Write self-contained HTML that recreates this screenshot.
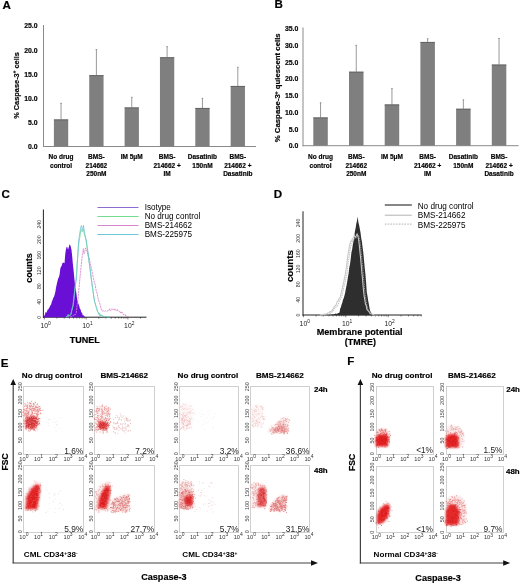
<!DOCTYPE html>
<html><head><meta charset="utf-8"><style>
html,body{margin:0;padding:0;background:#fff;}
body{width:520px;height:583px;overflow:hidden;}
svg{display:block;filter:blur(0.25px);font-family:"Liberation Sans",sans-serif;}
</style></head><body>
<svg width="520" height="583" viewBox="0 0 520 583">
<defs><filter id="bl" x="-10%" y="-10%" width="120%" height="120%"><feGaussianBlur stdDeviation="0.4"/></filter><filter id="bl2" x="-30%" y="-30%" width="160%" height="160%"><feGaussianBlur stdDeviation="1.1"/></filter></defs>
<rect width="520" height="583" fill="#fff"/>
<text x="2.4" y="9.3" font-size="11.6" font-weight="bold" text-anchor="start" fill="#000" stroke="#000" stroke-width="0.18">A</text>
<text x="274.6" y="8.2" font-size="11.6" font-weight="bold" text-anchor="start" fill="#000" stroke="#000" stroke-width="0.18">B</text>
<text x="1.6" y="198.4" font-size="11.6" font-weight="bold" text-anchor="start" fill="#000" stroke="#000" stroke-width="0.18">C</text>
<text x="273.8" y="198.4" font-size="11.6" font-weight="bold" text-anchor="start" fill="#000" stroke="#000" stroke-width="0.18">D</text>
<text x="0.8" y="366.8" font-size="11.6" font-weight="bold" text-anchor="start" fill="#000" stroke="#000" stroke-width="0.18">E</text>
<text x="347.3" y="365.4" font-size="11.6" font-weight="bold" text-anchor="start" fill="#000" stroke="#000" stroke-width="0.18">F</text>
<line x1="43.5" y1="25" x2="43.5" y2="147" stroke="#8a8a8a" stroke-width="1"/>
<line x1="43" y1="146.5" x2="256" y2="146.5" stroke="#8a8a8a" stroke-width="1"/>
<text x="37.6" y="149.45" font-size="6.9" font-weight="bold" text-anchor="end" fill="#050505" stroke="#050505" stroke-width="0.18">0.0</text>
<text x="37.6" y="125.25" font-size="6.9" font-weight="bold" text-anchor="end" fill="#050505" stroke="#050505" stroke-width="0.18">5.0</text>
<text x="37.6" y="101.05" font-size="6.9" font-weight="bold" text-anchor="end" fill="#050505" stroke="#050505" stroke-width="0.18">10.0</text>
<text x="37.6" y="76.85" font-size="6.9" font-weight="bold" text-anchor="end" fill="#050505" stroke="#050505" stroke-width="0.18">15.0</text>
<text x="37.6" y="52.65" font-size="6.9" font-weight="bold" text-anchor="end" fill="#050505" stroke="#050505" stroke-width="0.18">20.0</text>
<text x="37.6" y="28.45" font-size="6.9" font-weight="bold" text-anchor="end" fill="#050505" stroke="#050505" stroke-width="0.18">25.0</text>
<line x1="61.05" y1="103" x2="61.05" y2="119.5" stroke="#9a9a9a" stroke-width="1"/>
<line x1="60.25" y1="103.3" x2="61.85" y2="103.3" stroke="#888" stroke-width="0.8"/>
<rect x="53.9" y="119.5" width="14.3" height="27" fill="#7f7f7f" stroke="none" stroke-width="1"/>
<line x1="53.9" y1="119.9" x2="68.2" y2="119.9" stroke="#5a5a5a" stroke-width="0.8"/>
<text x="61.05" y="159.4" font-size="6.5" font-weight="bold" text-anchor="middle" fill="#050505" stroke="#050505" stroke-width="0.18">No drug</text>
<text x="61.05" y="167.85" font-size="6.5" font-weight="bold" text-anchor="middle" fill="#050505" stroke="#050505" stroke-width="0.18">control</text>
<line x1="96.4" y1="49.3" x2="96.4" y2="75.2" stroke="#9a9a9a" stroke-width="1"/>
<line x1="95.6" y1="49.6" x2="97.2" y2="49.6" stroke="#888" stroke-width="0.8"/>
<rect x="89.25" y="75.2" width="14.3" height="71.3" fill="#7f7f7f" stroke="none" stroke-width="1"/>
<line x1="89.25" y1="75.6" x2="103.55" y2="75.6" stroke="#5a5a5a" stroke-width="0.8"/>
<text x="96.4" y="159.4" font-size="6.5" font-weight="bold" text-anchor="middle" fill="#050505" stroke="#050505" stroke-width="0.18">BMS-</text>
<text x="96.4" y="167.85" font-size="6.5" font-weight="bold" text-anchor="middle" fill="#050505" stroke="#050505" stroke-width="0.18">214662</text>
<text x="96.4" y="176.3" font-size="6.5" font-weight="bold" text-anchor="middle" fill="#050505" stroke="#050505" stroke-width="0.18">250nM</text>
<line x1="131.75" y1="97" x2="131.75" y2="107.5" stroke="#9a9a9a" stroke-width="1"/>
<line x1="130.95" y1="97.3" x2="132.55" y2="97.3" stroke="#888" stroke-width="0.8"/>
<rect x="124.6" y="107.5" width="14.3" height="39" fill="#7f7f7f" stroke="none" stroke-width="1"/>
<line x1="124.6" y1="107.9" x2="138.9" y2="107.9" stroke="#5a5a5a" stroke-width="0.8"/>
<text x="131.75" y="159.4" font-size="6.5" font-weight="bold" text-anchor="middle" fill="#050505" stroke="#050505" stroke-width="0.18">IM 5μM</text>
<line x1="167.1" y1="46.4" x2="167.1" y2="57.3" stroke="#9a9a9a" stroke-width="1"/>
<line x1="166.3" y1="46.7" x2="167.9" y2="46.7" stroke="#888" stroke-width="0.8"/>
<rect x="159.95" y="57.3" width="14.3" height="89.2" fill="#7f7f7f" stroke="none" stroke-width="1"/>
<line x1="159.95" y1="57.7" x2="174.25" y2="57.7" stroke="#5a5a5a" stroke-width="0.8"/>
<text x="167.1" y="159.4" font-size="6.5" font-weight="bold" text-anchor="middle" fill="#050505" stroke="#050505" stroke-width="0.18">BMS-</text>
<text x="167.1" y="167.85" font-size="6.5" font-weight="bold" text-anchor="middle" fill="#050505" stroke="#050505" stroke-width="0.18">214662 +</text>
<text x="167.1" y="176.3" font-size="6.5" font-weight="bold" text-anchor="middle" fill="#050505" stroke="#050505" stroke-width="0.18">IM</text>
<line x1="202.45" y1="98" x2="202.45" y2="108" stroke="#9a9a9a" stroke-width="1"/>
<line x1="201.65" y1="98.3" x2="203.25" y2="98.3" stroke="#888" stroke-width="0.8"/>
<rect x="195.3" y="108" width="14.3" height="38.5" fill="#7f7f7f" stroke="none" stroke-width="1"/>
<line x1="195.3" y1="108.4" x2="209.6" y2="108.4" stroke="#5a5a5a" stroke-width="0.8"/>
<text x="202.45" y="159.4" font-size="6.5" font-weight="bold" text-anchor="middle" fill="#050505" stroke="#050505" stroke-width="0.18">Dasatinib</text>
<text x="202.45" y="167.85" font-size="6.5" font-weight="bold" text-anchor="middle" fill="#050505" stroke="#050505" stroke-width="0.18">150nM</text>
<line x1="237.8" y1="67" x2="237.8" y2="86" stroke="#9a9a9a" stroke-width="1"/>
<line x1="237" y1="67.3" x2="238.6" y2="67.3" stroke="#888" stroke-width="0.8"/>
<rect x="230.65" y="86" width="14.3" height="60.5" fill="#7f7f7f" stroke="none" stroke-width="1"/>
<line x1="230.65" y1="86.4" x2="244.95" y2="86.4" stroke="#5a5a5a" stroke-width="0.8"/>
<text x="237.8" y="159.4" font-size="6.5" font-weight="bold" text-anchor="middle" fill="#050505" stroke="#050505" stroke-width="0.18">BMS-</text>
<text x="237.8" y="167.85" font-size="6.5" font-weight="bold" text-anchor="middle" fill="#050505" stroke="#050505" stroke-width="0.18">214662 +</text>
<text x="237.8" y="176.3" font-size="6.5" font-weight="bold" text-anchor="middle" fill="#050505" stroke="#050505" stroke-width="0.18">Dasatinib</text>
<text x="18.6" y="85.5" font-size="7.4" font-weight="bold" text-anchor="middle" fill="#050505" stroke="#050505" stroke-width="0.18" transform="rotate(-90 18.6 85.5)">% Caspase-3<tspan font-size="4.5" dy="-2.5">+</tspan><tspan dy="2.5"> cells</tspan></text>
<line x1="303" y1="27.5" x2="303" y2="146.2" stroke="#8a8a8a" stroke-width="1"/>
<line x1="302.5" y1="145.7" x2="518.7" y2="145.7" stroke="#8a8a8a" stroke-width="1"/>
<text x="298.3" y="148.45" font-size="6.9" font-weight="bold" text-anchor="end" fill="#050505" stroke="#050505" stroke-width="0.18">0.0</text>
<text x="298.3" y="131.7" font-size="6.9" font-weight="bold" text-anchor="end" fill="#050505" stroke="#050505" stroke-width="0.18">5.0</text>
<text x="298.3" y="114.95" font-size="6.9" font-weight="bold" text-anchor="end" fill="#050505" stroke="#050505" stroke-width="0.18">10.0</text>
<text x="298.3" y="98.2" font-size="6.9" font-weight="bold" text-anchor="end" fill="#050505" stroke="#050505" stroke-width="0.18">15.0</text>
<text x="298.3" y="81.45" font-size="6.9" font-weight="bold" text-anchor="end" fill="#050505" stroke="#050505" stroke-width="0.18">20.0</text>
<text x="298.3" y="64.7" font-size="6.9" font-weight="bold" text-anchor="end" fill="#050505" stroke="#050505" stroke-width="0.18">25.0</text>
<text x="298.3" y="47.95" font-size="6.9" font-weight="bold" text-anchor="end" fill="#050505" stroke="#050505" stroke-width="0.18">30.0</text>
<text x="298.3" y="31.2" font-size="6.9" font-weight="bold" text-anchor="end" fill="#050505" stroke="#050505" stroke-width="0.18">35.0</text>
<line x1="320.55" y1="102.5" x2="320.55" y2="117.5" stroke="#9a9a9a" stroke-width="1"/>
<line x1="319.75" y1="102.8" x2="321.35" y2="102.8" stroke="#888" stroke-width="0.8"/>
<rect x="313.3" y="117.5" width="14.5" height="28.2" fill="#7f7f7f" stroke="none" stroke-width="1"/>
<line x1="313.3" y1="117.9" x2="327.8" y2="117.9" stroke="#5a5a5a" stroke-width="0.8"/>
<text x="320.55" y="159.4" font-size="6.5" font-weight="bold" text-anchor="middle" fill="#050505" stroke="#050505" stroke-width="0.18">No drug</text>
<text x="320.55" y="167.85" font-size="6.5" font-weight="bold" text-anchor="middle" fill="#050505" stroke="#050505" stroke-width="0.18">control</text>
<line x1="356.25" y1="45" x2="356.25" y2="71.75" stroke="#9a9a9a" stroke-width="1"/>
<line x1="355.45" y1="45.3" x2="357.05" y2="45.3" stroke="#888" stroke-width="0.8"/>
<rect x="349" y="71.75" width="14.5" height="73.95" fill="#7f7f7f" stroke="none" stroke-width="1"/>
<line x1="349" y1="72.15" x2="363.5" y2="72.15" stroke="#5a5a5a" stroke-width="0.8"/>
<text x="356.25" y="159.4" font-size="6.5" font-weight="bold" text-anchor="middle" fill="#050505" stroke="#050505" stroke-width="0.18">BMS-</text>
<text x="356.25" y="167.85" font-size="6.5" font-weight="bold" text-anchor="middle" fill="#050505" stroke="#050505" stroke-width="0.18">214662</text>
<text x="356.25" y="176.3" font-size="6.5" font-weight="bold" text-anchor="middle" fill="#050505" stroke="#050505" stroke-width="0.18">250nM</text>
<line x1="391.95" y1="88.3" x2="391.95" y2="104.5" stroke="#9a9a9a" stroke-width="1"/>
<line x1="391.15" y1="88.6" x2="392.75" y2="88.6" stroke="#888" stroke-width="0.8"/>
<rect x="384.7" y="104.5" width="14.5" height="41.2" fill="#7f7f7f" stroke="none" stroke-width="1"/>
<line x1="384.7" y1="104.9" x2="399.2" y2="104.9" stroke="#5a5a5a" stroke-width="0.8"/>
<text x="391.95" y="159.4" font-size="6.5" font-weight="bold" text-anchor="middle" fill="#050505" stroke="#050505" stroke-width="0.18">IM 5μM</text>
<line x1="427.65" y1="38.5" x2="427.65" y2="42" stroke="#9a9a9a" stroke-width="1"/>
<line x1="426.85" y1="38.8" x2="428.45" y2="38.8" stroke="#888" stroke-width="0.8"/>
<rect x="420.4" y="42" width="14.5" height="103.7" fill="#7f7f7f" stroke="none" stroke-width="1"/>
<line x1="420.4" y1="42.4" x2="434.9" y2="42.4" stroke="#5a5a5a" stroke-width="0.8"/>
<text x="427.65" y="159.4" font-size="6.5" font-weight="bold" text-anchor="middle" fill="#050505" stroke="#050505" stroke-width="0.18">BMS-</text>
<text x="427.65" y="167.85" font-size="6.5" font-weight="bold" text-anchor="middle" fill="#050505" stroke="#050505" stroke-width="0.18">214662 +</text>
<text x="427.65" y="176.3" font-size="6.5" font-weight="bold" text-anchor="middle" fill="#050505" stroke="#050505" stroke-width="0.18">IM</text>
<line x1="463.35" y1="99.6" x2="463.35" y2="108.8" stroke="#9a9a9a" stroke-width="1"/>
<line x1="462.55" y1="99.9" x2="464.15" y2="99.9" stroke="#888" stroke-width="0.8"/>
<rect x="456.1" y="108.8" width="14.5" height="36.9" fill="#7f7f7f" stroke="none" stroke-width="1"/>
<line x1="456.1" y1="109.2" x2="470.6" y2="109.2" stroke="#5a5a5a" stroke-width="0.8"/>
<text x="463.35" y="159.4" font-size="6.5" font-weight="bold" text-anchor="middle" fill="#050505" stroke="#050505" stroke-width="0.18">Dasatinib</text>
<text x="463.35" y="167.85" font-size="6.5" font-weight="bold" text-anchor="middle" fill="#050505" stroke="#050505" stroke-width="0.18">150nM</text>
<line x1="499.05" y1="38.2" x2="499.05" y2="64.6" stroke="#9a9a9a" stroke-width="1"/>
<line x1="498.25" y1="38.5" x2="499.85" y2="38.5" stroke="#888" stroke-width="0.8"/>
<rect x="491.8" y="64.6" width="14.5" height="81.1" fill="#7f7f7f" stroke="none" stroke-width="1"/>
<line x1="491.8" y1="65" x2="506.3" y2="65" stroke="#5a5a5a" stroke-width="0.8"/>
<text x="499.05" y="159.4" font-size="6.5" font-weight="bold" text-anchor="middle" fill="#050505" stroke="#050505" stroke-width="0.18">BMS-</text>
<text x="499.05" y="167.85" font-size="6.5" font-weight="bold" text-anchor="middle" fill="#050505" stroke="#050505" stroke-width="0.18">214662 +</text>
<text x="499.05" y="176.3" font-size="6.5" font-weight="bold" text-anchor="middle" fill="#050505" stroke="#050505" stroke-width="0.18">Dasatinib</text>
<text x="280.4" y="87.8" font-size="7.8" font-weight="bold" text-anchor="middle" fill="#050505" stroke="#050505" stroke-width="0.18" transform="rotate(-90 280.4 87.8)">% Caspase-3<tspan font-size="4.7" dy="-2.6">+</tspan><tspan dy="2.6"> quiescent cells</tspan></text>
<line x1="43.4" y1="209.5" x2="43.4" y2="317.7" stroke="#222" stroke-width="1"/>
<line x1="42.9" y1="317.2" x2="146.5" y2="317.2" stroke="#222" stroke-width="1"/>
<text x="39.3" y="317.2" font-size="5.2" font-weight="normal" text-anchor="middle" fill="#333" transform="rotate(-90 39.3 317.2)" dominant-baseline="middle">0</text>
<text x="39.3" y="301.7" font-size="5.2" font-weight="normal" text-anchor="middle" fill="#333" transform="rotate(-90 39.3 301.7)" dominant-baseline="middle">40</text>
<text x="39.3" y="286.2" font-size="5.2" font-weight="normal" text-anchor="middle" fill="#333" transform="rotate(-90 39.3 286.2)" dominant-baseline="middle">80</text>
<text x="39.3" y="270.7" font-size="5.2" font-weight="normal" text-anchor="middle" fill="#333" transform="rotate(-90 39.3 270.7)" dominant-baseline="middle">120</text>
<text x="39.3" y="255.2" font-size="5.2" font-weight="normal" text-anchor="middle" fill="#333" transform="rotate(-90 39.3 255.2)" dominant-baseline="middle">160</text>
<text x="39.3" y="239.7" font-size="5.2" font-weight="normal" text-anchor="middle" fill="#333" transform="rotate(-90 39.3 239.7)" dominant-baseline="middle">200</text>
<text x="39.3" y="224.2" font-size="5.2" font-weight="normal" text-anchor="middle" fill="#333" transform="rotate(-90 39.3 224.2)" dominant-baseline="middle">240</text>
<line x1="44.3" y1="317.2" x2="44.3" y2="319.4" stroke="#222" stroke-width="0.6"/>
<line x1="56.88" y1="317.2" x2="56.88" y2="318.6" stroke="#222" stroke-width="0.6"/>
<line x1="64.24" y1="317.2" x2="64.24" y2="318.6" stroke="#222" stroke-width="0.6"/>
<line x1="69.47" y1="317.2" x2="69.47" y2="318.6" stroke="#222" stroke-width="0.6"/>
<line x1="73.52" y1="317.2" x2="73.52" y2="318.6" stroke="#222" stroke-width="0.6"/>
<line x1="76.83" y1="317.2" x2="76.83" y2="318.6" stroke="#222" stroke-width="0.6"/>
<line x1="79.63" y1="317.2" x2="79.63" y2="318.6" stroke="#222" stroke-width="0.6"/>
<line x1="82.05" y1="317.2" x2="82.05" y2="318.6" stroke="#222" stroke-width="0.6"/>
<line x1="84.19" y1="317.2" x2="84.19" y2="318.6" stroke="#222" stroke-width="0.6"/>
<line x1="86.1" y1="317.2" x2="86.1" y2="319.4" stroke="#222" stroke-width="0.6"/>
<line x1="98.68" y1="317.2" x2="98.68" y2="318.6" stroke="#222" stroke-width="0.6"/>
<line x1="106.04" y1="317.2" x2="106.04" y2="318.6" stroke="#222" stroke-width="0.6"/>
<line x1="111.27" y1="317.2" x2="111.27" y2="318.6" stroke="#222" stroke-width="0.6"/>
<line x1="115.32" y1="317.2" x2="115.32" y2="318.6" stroke="#222" stroke-width="0.6"/>
<line x1="118.63" y1="317.2" x2="118.63" y2="318.6" stroke="#222" stroke-width="0.6"/>
<line x1="121.43" y1="317.2" x2="121.43" y2="318.6" stroke="#222" stroke-width="0.6"/>
<line x1="123.85" y1="317.2" x2="123.85" y2="318.6" stroke="#222" stroke-width="0.6"/>
<line x1="125.99" y1="317.2" x2="125.99" y2="318.6" stroke="#222" stroke-width="0.6"/>
<line x1="127.9" y1="317.2" x2="127.9" y2="319.4" stroke="#222" stroke-width="0.6"/>
<line x1="140.48" y1="317.2" x2="140.48" y2="318.6" stroke="#222" stroke-width="0.6"/>
<text x="40.52" y="328" font-size="6.8" text-anchor="start" fill="#222">10<tspan font-size="4.9" dy="-2.8">0</tspan></text>
<text x="82.32" y="328" font-size="6.8" text-anchor="start" fill="#222">10<tspan font-size="4.9" dy="-2.8">1</tspan></text>
<text x="124.12" y="328" font-size="6.8" text-anchor="start" fill="#222">10<tspan font-size="4.9" dy="-2.8">2</tspan></text>
<text x="29.3" y="267.9" font-size="9" font-weight="bold" text-anchor="middle" fill="#000" stroke="#000" stroke-width="0.18" transform="rotate(-90 29.3 267.9)" dominant-baseline="middle">counts</text>
<text x="84.7" y="343.2" font-size="9" font-weight="bold" text-anchor="middle" fill="#000" stroke="#000" stroke-width="0.18">TUNEL</text>
<path d="M43.5 317L44.2 315.94L44.9 314.45L45.6 311.93L46.3 312.86L47 311.4L47.7 309.38L48.4 309.25L49.1 307.92L49.8 306.72L50.5 305.35L51.2 304.19L51.9 301.21L52.6 299.9L53.3 297.75L54 296.82L54.7 294.42L55.4 291.44L56.1 287.28L56.8 284.03L57.5 280.9L58.2 278.19L58.9 277.14L59.6 274.42L60.3 268.6L61 266.79L61.7 265.79L62.4 263.02L63.1 262.96L63.8 262.33L64.5 263.41L65.2 254.45L65.9 249.59L66.6 246.92L67.3 246.97L68 249.66L68.7 247.5L69.4 244.38L70.1 245.06L70.8 246.85L71.5 250.04L72.2 256.49L72.9 264.29L73.6 270.55L74.3 278.08L75 284.42L75.7 289.05L76.4 293.24L77.1 298.63L77.8 301.67L78.5 303.92L79.2 305.66L79.9 308.82L80.6 309.47L81.3 312.48L82 312.48L82.7 315.23L83.4 315.22L84.1 316.06L84.8 316.8 L85 317.2 L43.5 317.2Z" fill="#6a10d6"/>
<path d="M66 317L66.7 316.64L67.4 316.27L68.1 314.44L68.8 316.62L69.5 315.86L70.2 314.62L70.9 314.53L71.6 311.21L72.3 307.69L73 305.59L73.7 298.66L74.4 292.5L75.1 286.07L75.8 280.67L76.5 273.04L77.2 263.28L77.9 252.44L78.6 245.13L79.3 239.99L80 236.5L80.7 230.51L81.4 229.53L82.1 231.91L82.8 230.01L83.5 229.47L84.2 234.32L84.9 235.89L85.6 238.9L86.3 242.1L87 248.05L87.7 252.18L88.4 257.38L89.1 262.33L89.8 267.18L90.5 272.57L91.2 277.9L91.9 284.12L92.6 287.99L93.3 293.08L94 298.15L94.7 302.23L95.4 303.84L96.1 306.63L96.8 308.86L97.5 311.71L98.2 312.57L98.9 314.27L99.6 313.1L100.3 315.66L101 316.01L101.7 314.79L102.4 316L103.1 316.17L103.8 316.43L104.5 316.54L105.2 316.6L105.9 316.66L106.6 316.72L107.3 316.78L108 316.83L108.7 316.89L109.4 316.95" fill="none" stroke="#7ad89c" stroke-width="0.8"/>
<path d="M70 317L70.7 316.75L71.4 316.5L72.1 316.25L72.8 316L73.5 315.62L74.2 314.29L74.9 315.11L75.6 314.48L76.3 312.62L77 306.39L77.7 301.66L78.4 295.46L79.1 287.59L79.8 279.72L80.5 272.58L81.2 266.19L81.9 258.84L82.6 254.33L83.3 248.68L84 253.85L84.7 252.93L85.4 247.93L86.1 249.4L86.8 250.81L87.5 252.32L88.2 255.96L88.9 257.44L89.6 260.25L90.3 263.99L91 266.1L91.7 269.7L92.4 273.65L93.1 276.71L93.8 279.65L94.5 283.13L95.2 284.15L95.9 289.58L96.6 291.52L97.3 294.21L98 298.19L98.7 300.84L99.4 302.55L100.1 304.56L100.8 307.62L101.5 309.97L102.2 311.08L102.9 310.92L103.6 310.82L104.3 311.6L105 311.04L105.7 310.68L106.4 311.43L107.1 311.27L107.8 310.64L108.5 310.14L109.2 310.58L109.9 308.76L110.6 310.47L111.3 310.16L112 308.69L112.7 309.52L113.4 308.93L114.1 310.16L114.8 308.67L115.5 309.54L116.2 310.71L116.9 311.17L117.6 309.44L118.3 310.71L119 311.49L119.7 311.2L120.4 312.8L121.1 311.52L121.8 312.99L122.5 312.7L123.2 314.72L123.9 314.41L124.6 314.76L125.3 314.51L126 316.1L126.7 316.53L127.4 316.63L128.1 316.73L128.8 316.83L129.5 316.93" fill="none" stroke="#d880cc" stroke-width="0.85" stroke-dasharray="2.2 0.7"/>
<path d="M66 317L66.7 316.71L67.4 316.42L68.1 316.12L68.8 314.85L69.5 315.54L70.2 314.88L70.9 314.68L71.6 310.76L72.3 309.01L73 306.14L73.7 301.29L74.4 294.87L75.1 289.33L75.8 282.46L76.5 279.05L77.2 264.41L77.9 254.07L78.6 242.07L79.3 236.6L80 231.61L80.7 227.72L81.4 225.46L82.1 228.2L82.8 229.84L83.5 225.4L84.2 231.05L84.9 234.06L85.6 237.87L86.3 239.68L87 245.29L87.7 250.18L88.4 254.31L89.1 261.39L89.8 266.51L90.5 272.6L91.2 278.18L91.9 282.61L92.6 287.85L93.3 293.27L94 298.4L94.7 301.77L95.4 304.15L96.1 306.84L96.8 308.82L97.5 311.05L98.2 312.51L98.9 313.49L99.6 315.71L100.3 314.82L101 315.26L101.7 316L102.4 316.03L103.1 316.33L103.8 316.52L104.5 316.58L105.2 316.63L105.9 316.68L106.6 316.74L107.3 316.79L108 316.85L108.7 316.9L109.4 316.95" fill="none" stroke="#6cc4d2" stroke-width="0.8"/>
<line x1="97.5" y1="207.5" x2="138.5" y2="207.5" stroke="#8c6cd0" stroke-width="1.15"/>
<text x="144.7" y="210.2" font-size="8.15" font-weight="normal" text-anchor="start" fill="#000">Isotype</text>
<line x1="97.5" y1="216.5" x2="138.5" y2="216.5" stroke="#72dc90" stroke-width="1.15"/>
<text x="144.7" y="219.2" font-size="8.15" font-weight="normal" text-anchor="start" fill="#000">No drug control</text>
<line x1="97.5" y1="225.5" x2="138.5" y2="225.5" stroke="#d886cc" stroke-width="1.15"/>
<text x="144.7" y="228.2" font-size="8.15" font-weight="normal" text-anchor="start" fill="#000">BMS-214662</text>
<line x1="97.5" y1="234.5" x2="138.5" y2="234.5" stroke="#6cc8d4" stroke-width="1.15"/>
<text x="144.7" y="237.2" font-size="8.15" font-weight="normal" text-anchor="start" fill="#000">BMS-225975</text>
<line x1="303" y1="211.3" x2="303" y2="315.5" stroke="#222" stroke-width="1"/>
<line x1="302.5" y1="315" x2="421.7" y2="315" stroke="#222" stroke-width="1"/>
<text x="298.8" y="315" font-size="5.2" font-weight="normal" text-anchor="middle" fill="#333" transform="rotate(-90 298.8 315)" dominant-baseline="middle">0</text>
<text x="298.8" y="299.66" font-size="5.2" font-weight="normal" text-anchor="middle" fill="#333" transform="rotate(-90 298.8 299.66)" dominant-baseline="middle">40</text>
<text x="298.8" y="284.32" font-size="5.2" font-weight="normal" text-anchor="middle" fill="#333" transform="rotate(-90 298.8 284.32)" dominant-baseline="middle">80</text>
<text x="298.8" y="268.98" font-size="5.2" font-weight="normal" text-anchor="middle" fill="#333" transform="rotate(-90 298.8 268.98)" dominant-baseline="middle">120</text>
<text x="298.8" y="253.64" font-size="5.2" font-weight="normal" text-anchor="middle" fill="#333" transform="rotate(-90 298.8 253.64)" dominant-baseline="middle">160</text>
<text x="298.8" y="238.3" font-size="5.2" font-weight="normal" text-anchor="middle" fill="#333" transform="rotate(-90 298.8 238.3)" dominant-baseline="middle">200</text>
<text x="298.8" y="222.96" font-size="5.2" font-weight="normal" text-anchor="middle" fill="#333" transform="rotate(-90 298.8 222.96)" dominant-baseline="middle">240</text>
<line x1="303.4" y1="315" x2="303.4" y2="317.2" stroke="#222" stroke-width="0.6"/>
<line x1="316.16" y1="315" x2="316.16" y2="316.4" stroke="#222" stroke-width="0.6"/>
<line x1="323.63" y1="315" x2="323.63" y2="316.4" stroke="#222" stroke-width="0.6"/>
<line x1="328.93" y1="315" x2="328.93" y2="316.4" stroke="#222" stroke-width="0.6"/>
<line x1="333.04" y1="315" x2="333.04" y2="316.4" stroke="#222" stroke-width="0.6"/>
<line x1="336.39" y1="315" x2="336.39" y2="316.4" stroke="#222" stroke-width="0.6"/>
<line x1="339.23" y1="315" x2="339.23" y2="316.4" stroke="#222" stroke-width="0.6"/>
<line x1="341.69" y1="315" x2="341.69" y2="316.4" stroke="#222" stroke-width="0.6"/>
<line x1="343.86" y1="315" x2="343.86" y2="316.4" stroke="#222" stroke-width="0.6"/>
<line x1="345.8" y1="315" x2="345.8" y2="317.2" stroke="#222" stroke-width="0.6"/>
<line x1="358.56" y1="315" x2="358.56" y2="316.4" stroke="#222" stroke-width="0.6"/>
<line x1="366.03" y1="315" x2="366.03" y2="316.4" stroke="#222" stroke-width="0.6"/>
<line x1="371.33" y1="315" x2="371.33" y2="316.4" stroke="#222" stroke-width="0.6"/>
<line x1="375.44" y1="315" x2="375.44" y2="316.4" stroke="#222" stroke-width="0.6"/>
<line x1="378.79" y1="315" x2="378.79" y2="316.4" stroke="#222" stroke-width="0.6"/>
<line x1="381.63" y1="315" x2="381.63" y2="316.4" stroke="#222" stroke-width="0.6"/>
<line x1="384.09" y1="315" x2="384.09" y2="316.4" stroke="#222" stroke-width="0.6"/>
<line x1="386.26" y1="315" x2="386.26" y2="316.4" stroke="#222" stroke-width="0.6"/>
<line x1="388.2" y1="315" x2="388.2" y2="317.2" stroke="#222" stroke-width="0.6"/>
<line x1="400.96" y1="315" x2="400.96" y2="316.4" stroke="#222" stroke-width="0.6"/>
<line x1="408.43" y1="315" x2="408.43" y2="316.4" stroke="#222" stroke-width="0.6"/>
<line x1="413.73" y1="315" x2="413.73" y2="316.4" stroke="#222" stroke-width="0.6"/>
<line x1="417.84" y1="315" x2="417.84" y2="316.4" stroke="#222" stroke-width="0.6"/>
<line x1="421.19" y1="315" x2="421.19" y2="316.4" stroke="#222" stroke-width="0.6"/>
<text x="299.62" y="326.2" font-size="6.8" text-anchor="start" fill="#222">10<tspan font-size="4.9" dy="-2.8">0</tspan></text>
<text x="342.02" y="326.2" font-size="6.8" text-anchor="start" fill="#222">10<tspan font-size="4.9" dy="-2.8">1</tspan></text>
<text x="384.42" y="326.2" font-size="6.8" text-anchor="start" fill="#222">10<tspan font-size="4.9" dy="-2.8">2</tspan></text>
<text x="290.2" y="266" font-size="9.8" font-weight="bold" text-anchor="middle" fill="#000" stroke="#000" stroke-width="0.18" transform="rotate(-90 290.2 266)" dominant-baseline="middle">counts</text>
<text x="359.7" y="335.2" font-size="9.1" font-weight="bold" text-anchor="middle" fill="#000" stroke="#000" stroke-width="0.18">Membrane potential</text>
<text x="360.4" y="345.2" font-size="8.9" font-weight="bold" text-anchor="middle" fill="#000" stroke="#000" stroke-width="0.18">(TMRE)</text>
<path d="M322 315L322.7 314.97L323.4 314.94L324.1 314.92L324.8 314.89L325.5 314.86L326.2 314.83L326.9 314.8L327.6 314.78L328.3 314.75L329 314.72L329.7 314.69L330.4 314.66L331.1 314.64L331.8 314.61L332.5 314.51L333.2 314.38L333.9 314.25L334.6 314.12L335.3 313.65L336 313.37L336.7 314.13L337.4 313.57L338.1 312.99L338.8 312.99L339.5 312.58L340.2 308.61L340.9 307.34L341.6 304.59L342.3 302.85L343 299.68L343.7 298.21L344.4 295.77L345.1 293.03L345.8 288.94L346.5 285.82L347.2 281.77L347.9 277.25L348.6 273.46L349.3 267.62L350 264.29L350.7 259.03L351.4 252.4L352.1 249.79L352.8 244.63L353.5 241.22L354.2 237.03L354.9 231.41L355.6 228.29L356.3 223.82L357 220.74L357.7 216.54L358.4 222.53L359.1 225.05L359.8 228.77L360.5 232.5L361.2 238.16L361.9 241.56L362.6 247.25L363.3 252.61L364 259.96L364.7 267.59L365.4 274.11L366.1 282.23L366.8 292.15L367.5 296.32L368.2 300.72L368.9 304.49L369.6 308.48L370.3 311.34L371 312.42L371.7 313.62L372.4 314.37L373.1 314.59L373.8 314.69L374.5 314.79L375.2 314.89L375.9 314.99 L376 315.2 L322 315.2Z" fill="#2e2e2e"/>
<path d="M320 315L320.7 314.87L321.4 314.74L322.1 314.61L322.8 314.48L323.5 314.34L324.2 314.21L324.9 314.08L325.6 314.09L326.3 314.09L327 313.78L327.7 313.02L328.4 312.73L329.1 312.73L329.8 311.63L330.5 311.95L331.2 311.35L331.9 310.99L332.6 309.24L333.3 309.07L334 307.05L334.7 306.22L335.4 305.79L336.1 304.94L336.8 302.6L337.5 301.13L338.2 300.78L338.9 298.77L339.6 298.4L340.3 296.6L341 293.92L341.7 290.75L342.4 287.97L343.1 284.33L343.8 281.82L344.5 277.9L345.2 274.93L345.9 270.22L346.6 265.36L347.3 259.59L348 254.3L348.7 251.17L349.4 245.98L350.1 243.52L350.8 241.2L351.5 241.05L352.2 239.28L352.9 238.55L353.6 236.85L354.3 235.4L355 236.84L355.7 237.27L356.4 235.36L357.1 233.93L357.8 235.37L358.5 239.02L359.2 244.14L359.9 251.41L360.6 258.1L361.3 266.06L362 274.03L362.7 281.32L363.4 289.51L364.1 295.97L364.8 299.88L365.5 304.22L366.2 305.5L366.9 309.25L367.6 310.32L368.3 310.9L369 311.59L369.7 313.06L370.4 313.41L371.1 313.88L371.8 314.04L372.5 314.25L373.2 314.46L373.9 314.67L374.6 314.88" fill="none" stroke="#c8c8c8" stroke-width="1.1"/>
<path d="M321.3 316L322 315.87L322.7 315.74L323.4 315.61L324.1 315.48L324.8 315.34L325.5 315.21L326.2 315.08L326.9 314.7L327.6 314.51L328.3 314.93L329 314.73L329.7 314.2L330.4 313.07L331.1 312.91L331.8 312.66L332.5 311.03L333.2 310.86L333.9 309.3L334.6 308.73L335.3 307.58L336 307.51L336.7 306.12L337.4 305.94L338.1 304.48L338.8 302.91L339.5 300.34L340.2 299.93L340.9 298.78L341.6 297.46L342.3 294L343 291.41L343.7 288.04L344.4 285L345.1 282.81L345.8 278.76L346.5 276.02L347.2 272L347.9 265.77L348.6 260.51L349.3 255.79L350 251.2L350.7 246.55L351.4 244.62L352.1 242.68L352.8 240.4L353.5 240.78L354.2 239.26L354.9 237.48L355.6 238.13L356.3 237.83L357 237.16L357.7 236.52L358.4 235.23L359.1 237.02L359.8 241.12L360.5 245.3L361.2 252.43L361.9 260.05L362.6 266.58L363.3 274.65L364 282.04L364.7 290.29L365.4 295.66L366.1 301.21L366.8 304.75L367.5 307.89L368.2 310.6L368.9 310.56L369.6 311.78L370.3 313.46L371 313.09L371.7 314.39L372.4 314.78L373.1 315.04L373.8 315.25L374.5 315.46L375.2 315.67L375.9 315.88" fill="none" stroke="#b0b0b0" stroke-width="0.8" stroke-dasharray="1.5 0.8"/>
<line x1="384.8" y1="205" x2="411.8" y2="205" stroke="#444" stroke-width="1.3"/>
<line x1="384.8" y1="215.2" x2="411.8" y2="215.2" stroke="#aaa" stroke-width="0.9"/>
<line x1="384.8" y1="224.1" x2="411.8" y2="224.1" stroke="#aaa" stroke-width="0.9" stroke-dasharray="1.6 1.2"/>
<text x="417.7" y="208.9" font-size="8.2" font-weight="normal" text-anchor="start" fill="#000">No drug control</text>
<text x="417.7" y="218.3" font-size="8.2" font-weight="normal" text-anchor="start" fill="#000">BMS-214662</text>
<text x="417.7" y="228" font-size="8.2" font-weight="normal" text-anchor="start" fill="#000">BMS-225975</text>
<rect x="23.5" y="386.5" width="60" height="68" fill="none" stroke="#cfcfcf" stroke-width="1"/>
<text x="20.1" y="453.7" font-size="5.4" font-weight="normal" text-anchor="middle" fill="#444" transform="rotate(-90 20.1 453.7)" dominant-baseline="middle">0</text>
<text x="20.1" y="440.3" font-size="5.4" font-weight="normal" text-anchor="middle" fill="#444" transform="rotate(-90 20.1 440.3)" dominant-baseline="middle">50</text>
<text x="20.1" y="426.9" font-size="5.4" font-weight="normal" text-anchor="middle" fill="#444" transform="rotate(-90 20.1 426.9)" dominant-baseline="middle">100</text>
<text x="20.1" y="413.5" font-size="5.4" font-weight="normal" text-anchor="middle" fill="#444" transform="rotate(-90 20.1 413.5)" dominant-baseline="middle">150</text>
<text x="20.1" y="400.1" font-size="5.4" font-weight="normal" text-anchor="middle" fill="#444" transform="rotate(-90 20.1 400.1)" dominant-baseline="middle">200</text>
<text x="20.1" y="386.7" font-size="5.4" font-weight="normal" text-anchor="middle" fill="#444" transform="rotate(-90 20.1 386.7)" dominant-baseline="middle">250</text>
<text x="19.3" y="460.5" font-size="5.7" fill="#333">10<tspan font-size="5.0" dy="-2.4">0</tspan></text>
<text x="34.02" y="460.5" font-size="5.7" fill="#333">10<tspan font-size="5.0" dy="-2.4">1</tspan></text>
<text x="48.75" y="460.5" font-size="5.7" fill="#333">10<tspan font-size="5.0" dy="-2.4">2</tspan></text>
<text x="63.47" y="460.5" font-size="5.7" fill="#333">10<tspan font-size="5.0" dy="-2.4">3</tspan></text>
<text x="78.19" y="460.5" font-size="5.7" fill="#333">10<tspan font-size="5.0" dy="-2.4">4</tspan></text>
<rect x="23.5" y="465.5" width="60" height="67" fill="none" stroke="#cfcfcf" stroke-width="1"/>
<text x="20.1" y="531.8" font-size="5.4" font-weight="normal" text-anchor="middle" fill="#444" transform="rotate(-90 20.1 531.8)" dominant-baseline="middle">0</text>
<text x="20.1" y="518.6" font-size="5.4" font-weight="normal" text-anchor="middle" fill="#444" transform="rotate(-90 20.1 518.6)" dominant-baseline="middle">50</text>
<text x="20.1" y="505.4" font-size="5.4" font-weight="normal" text-anchor="middle" fill="#444" transform="rotate(-90 20.1 505.4)" dominant-baseline="middle">100</text>
<text x="20.1" y="492.2" font-size="5.4" font-weight="normal" text-anchor="middle" fill="#444" transform="rotate(-90 20.1 492.2)" dominant-baseline="middle">150</text>
<text x="20.1" y="479" font-size="5.4" font-weight="normal" text-anchor="middle" fill="#444" transform="rotate(-90 20.1 479)" dominant-baseline="middle">200</text>
<text x="20.1" y="465.8" font-size="5.4" font-weight="normal" text-anchor="middle" fill="#444" transform="rotate(-90 20.1 465.8)" dominant-baseline="middle">250</text>
<text x="19.3" y="538.6" font-size="5.7" fill="#333">10<tspan font-size="5.0" dy="-2.4">0</tspan></text>
<text x="34.02" y="538.6" font-size="5.7" fill="#333">10<tspan font-size="5.0" dy="-2.4">1</tspan></text>
<text x="48.75" y="538.6" font-size="5.7" fill="#333">10<tspan font-size="5.0" dy="-2.4">2</tspan></text>
<text x="63.47" y="538.6" font-size="5.7" fill="#333">10<tspan font-size="5.0" dy="-2.4">3</tspan></text>
<text x="78.19" y="538.6" font-size="5.7" fill="#333">10<tspan font-size="5.0" dy="-2.4">4</tspan></text>
<rect x="94.5" y="386.5" width="60" height="68" fill="none" stroke="#cfcfcf" stroke-width="1"/>
<text x="91.6" y="453.7" font-size="5.4" font-weight="normal" text-anchor="middle" fill="#444" transform="rotate(-90 91.6 453.7)" dominant-baseline="middle">0</text>
<text x="91.6" y="440.3" font-size="5.4" font-weight="normal" text-anchor="middle" fill="#444" transform="rotate(-90 91.6 440.3)" dominant-baseline="middle">50</text>
<text x="91.6" y="426.9" font-size="5.4" font-weight="normal" text-anchor="middle" fill="#444" transform="rotate(-90 91.6 426.9)" dominant-baseline="middle">100</text>
<text x="91.6" y="413.5" font-size="5.4" font-weight="normal" text-anchor="middle" fill="#444" transform="rotate(-90 91.6 413.5)" dominant-baseline="middle">150</text>
<text x="91.6" y="400.1" font-size="5.4" font-weight="normal" text-anchor="middle" fill="#444" transform="rotate(-90 91.6 400.1)" dominant-baseline="middle">200</text>
<text x="91.6" y="386.7" font-size="5.4" font-weight="normal" text-anchor="middle" fill="#444" transform="rotate(-90 91.6 386.7)" dominant-baseline="middle">250</text>
<text x="90.8" y="460.5" font-size="5.7" fill="#333">10<tspan font-size="5.0" dy="-2.4">0</tspan></text>
<text x="105.4" y="460.5" font-size="5.7" fill="#333">10<tspan font-size="5.0" dy="-2.4">1</tspan></text>
<text x="120" y="460.5" font-size="5.7" fill="#333">10<tspan font-size="5.0" dy="-2.4">2</tspan></text>
<text x="134.6" y="460.5" font-size="5.7" fill="#333">10<tspan font-size="5.0" dy="-2.4">3</tspan></text>
<text x="149.2" y="460.5" font-size="5.7" fill="#333">10<tspan font-size="5.0" dy="-2.4">4</tspan></text>
<rect x="94.5" y="465.5" width="60" height="67" fill="none" stroke="#cfcfcf" stroke-width="1"/>
<text x="91.6" y="531.8" font-size="5.4" font-weight="normal" text-anchor="middle" fill="#444" transform="rotate(-90 91.6 531.8)" dominant-baseline="middle">0</text>
<text x="91.6" y="518.6" font-size="5.4" font-weight="normal" text-anchor="middle" fill="#444" transform="rotate(-90 91.6 518.6)" dominant-baseline="middle">50</text>
<text x="91.6" y="505.4" font-size="5.4" font-weight="normal" text-anchor="middle" fill="#444" transform="rotate(-90 91.6 505.4)" dominant-baseline="middle">100</text>
<text x="91.6" y="492.2" font-size="5.4" font-weight="normal" text-anchor="middle" fill="#444" transform="rotate(-90 91.6 492.2)" dominant-baseline="middle">150</text>
<text x="91.6" y="479" font-size="5.4" font-weight="normal" text-anchor="middle" fill="#444" transform="rotate(-90 91.6 479)" dominant-baseline="middle">200</text>
<text x="91.6" y="465.8" font-size="5.4" font-weight="normal" text-anchor="middle" fill="#444" transform="rotate(-90 91.6 465.8)" dominant-baseline="middle">250</text>
<text x="90.8" y="538.6" font-size="5.7" fill="#333">10<tspan font-size="5.0" dy="-2.4">0</tspan></text>
<text x="105.4" y="538.6" font-size="5.7" fill="#333">10<tspan font-size="5.0" dy="-2.4">1</tspan></text>
<text x="120" y="538.6" font-size="5.7" fill="#333">10<tspan font-size="5.0" dy="-2.4">2</tspan></text>
<text x="134.6" y="538.6" font-size="5.7" fill="#333">10<tspan font-size="5.0" dy="-2.4">3</tspan></text>
<text x="149.2" y="538.6" font-size="5.7" fill="#333">10<tspan font-size="5.0" dy="-2.4">4</tspan></text>
<rect x="179.5" y="386.5" width="59" height="68" fill="none" stroke="#cfcfcf" stroke-width="1"/>
<text x="176.1" y="453.7" font-size="5.4" font-weight="normal" text-anchor="middle" fill="#444" transform="rotate(-90 176.1 453.7)" dominant-baseline="middle">0</text>
<text x="176.1" y="440.3" font-size="5.4" font-weight="normal" text-anchor="middle" fill="#444" transform="rotate(-90 176.1 440.3)" dominant-baseline="middle">50</text>
<text x="176.1" y="426.9" font-size="5.4" font-weight="normal" text-anchor="middle" fill="#444" transform="rotate(-90 176.1 426.9)" dominant-baseline="middle">100</text>
<text x="176.1" y="413.5" font-size="5.4" font-weight="normal" text-anchor="middle" fill="#444" transform="rotate(-90 176.1 413.5)" dominant-baseline="middle">150</text>
<text x="176.1" y="400.1" font-size="5.4" font-weight="normal" text-anchor="middle" fill="#444" transform="rotate(-90 176.1 400.1)" dominant-baseline="middle">200</text>
<text x="176.1" y="386.7" font-size="5.4" font-weight="normal" text-anchor="middle" fill="#444" transform="rotate(-90 176.1 386.7)" dominant-baseline="middle">250</text>
<text x="175.3" y="460.5" font-size="5.7" fill="#333">10<tspan font-size="5.0" dy="-2.4">0</tspan></text>
<text x="189.9" y="460.5" font-size="5.7" fill="#333">10<tspan font-size="5.0" dy="-2.4">1</tspan></text>
<text x="204.5" y="460.5" font-size="5.7" fill="#333">10<tspan font-size="5.0" dy="-2.4">2</tspan></text>
<text x="219.1" y="460.5" font-size="5.7" fill="#333">10<tspan font-size="5.0" dy="-2.4">3</tspan></text>
<text x="233.7" y="460.5" font-size="5.7" fill="#333">10<tspan font-size="5.0" dy="-2.4">4</tspan></text>
<rect x="179.5" y="465.5" width="59" height="67" fill="none" stroke="#cfcfcf" stroke-width="1"/>
<text x="176.1" y="531.8" font-size="5.4" font-weight="normal" text-anchor="middle" fill="#444" transform="rotate(-90 176.1 531.8)" dominant-baseline="middle">0</text>
<text x="176.1" y="518.6" font-size="5.4" font-weight="normal" text-anchor="middle" fill="#444" transform="rotate(-90 176.1 518.6)" dominant-baseline="middle">50</text>
<text x="176.1" y="505.4" font-size="5.4" font-weight="normal" text-anchor="middle" fill="#444" transform="rotate(-90 176.1 505.4)" dominant-baseline="middle">100</text>
<text x="176.1" y="492.2" font-size="5.4" font-weight="normal" text-anchor="middle" fill="#444" transform="rotate(-90 176.1 492.2)" dominant-baseline="middle">150</text>
<text x="176.1" y="479" font-size="5.4" font-weight="normal" text-anchor="middle" fill="#444" transform="rotate(-90 176.1 479)" dominant-baseline="middle">200</text>
<text x="176.1" y="465.8" font-size="5.4" font-weight="normal" text-anchor="middle" fill="#444" transform="rotate(-90 176.1 465.8)" dominant-baseline="middle">250</text>
<text x="175.3" y="538.6" font-size="5.7" fill="#333">10<tspan font-size="5.0" dy="-2.4">0</tspan></text>
<text x="189.9" y="538.6" font-size="5.7" fill="#333">10<tspan font-size="5.0" dy="-2.4">1</tspan></text>
<text x="204.5" y="538.6" font-size="5.7" fill="#333">10<tspan font-size="5.0" dy="-2.4">2</tspan></text>
<text x="219.1" y="538.6" font-size="5.7" fill="#333">10<tspan font-size="5.0" dy="-2.4">3</tspan></text>
<text x="233.7" y="538.6" font-size="5.7" fill="#333">10<tspan font-size="5.0" dy="-2.4">4</tspan></text>
<rect x="250.5" y="386.5" width="59" height="68" fill="none" stroke="#cfcfcf" stroke-width="1"/>
<text x="247.6" y="453.7" font-size="5.4" font-weight="normal" text-anchor="middle" fill="#444" transform="rotate(-90 247.6 453.7)" dominant-baseline="middle">0</text>
<text x="247.6" y="440.3" font-size="5.4" font-weight="normal" text-anchor="middle" fill="#444" transform="rotate(-90 247.6 440.3)" dominant-baseline="middle">50</text>
<text x="247.6" y="426.9" font-size="5.4" font-weight="normal" text-anchor="middle" fill="#444" transform="rotate(-90 247.6 426.9)" dominant-baseline="middle">100</text>
<text x="247.6" y="413.5" font-size="5.4" font-weight="normal" text-anchor="middle" fill="#444" transform="rotate(-90 247.6 413.5)" dominant-baseline="middle">150</text>
<text x="247.6" y="400.1" font-size="5.4" font-weight="normal" text-anchor="middle" fill="#444" transform="rotate(-90 247.6 400.1)" dominant-baseline="middle">200</text>
<text x="247.6" y="386.7" font-size="5.4" font-weight="normal" text-anchor="middle" fill="#444" transform="rotate(-90 247.6 386.7)" dominant-baseline="middle">250</text>
<text x="246.8" y="460.5" font-size="5.7" fill="#333">10<tspan font-size="5.0" dy="-2.4">0</tspan></text>
<text x="261.2" y="460.5" font-size="5.7" fill="#333">10<tspan font-size="5.0" dy="-2.4">1</tspan></text>
<text x="275.61" y="460.5" font-size="5.7" fill="#333">10<tspan font-size="5.0" dy="-2.4">2</tspan></text>
<text x="290.01" y="460.5" font-size="5.7" fill="#333">10<tspan font-size="5.0" dy="-2.4">3</tspan></text>
<text x="304.41" y="460.5" font-size="5.7" fill="#333">10<tspan font-size="5.0" dy="-2.4">4</tspan></text>
<rect x="250.5" y="465.5" width="59" height="67" fill="none" stroke="#cfcfcf" stroke-width="1"/>
<text x="247.6" y="531.8" font-size="5.4" font-weight="normal" text-anchor="middle" fill="#444" transform="rotate(-90 247.6 531.8)" dominant-baseline="middle">0</text>
<text x="247.6" y="518.6" font-size="5.4" font-weight="normal" text-anchor="middle" fill="#444" transform="rotate(-90 247.6 518.6)" dominant-baseline="middle">50</text>
<text x="247.6" y="505.4" font-size="5.4" font-weight="normal" text-anchor="middle" fill="#444" transform="rotate(-90 247.6 505.4)" dominant-baseline="middle">100</text>
<text x="247.6" y="492.2" font-size="5.4" font-weight="normal" text-anchor="middle" fill="#444" transform="rotate(-90 247.6 492.2)" dominant-baseline="middle">150</text>
<text x="247.6" y="479" font-size="5.4" font-weight="normal" text-anchor="middle" fill="#444" transform="rotate(-90 247.6 479)" dominant-baseline="middle">200</text>
<text x="247.6" y="465.8" font-size="5.4" font-weight="normal" text-anchor="middle" fill="#444" transform="rotate(-90 247.6 465.8)" dominant-baseline="middle">250</text>
<text x="246.8" y="538.6" font-size="5.7" fill="#333">10<tspan font-size="5.0" dy="-2.4">0</tspan></text>
<text x="261.2" y="538.6" font-size="5.7" fill="#333">10<tspan font-size="5.0" dy="-2.4">1</tspan></text>
<text x="275.61" y="538.6" font-size="5.7" fill="#333">10<tspan font-size="5.0" dy="-2.4">2</tspan></text>
<text x="290.01" y="538.6" font-size="5.7" fill="#333">10<tspan font-size="5.0" dy="-2.4">3</tspan></text>
<text x="304.41" y="538.6" font-size="5.7" fill="#333">10<tspan font-size="5.0" dy="-2.4">4</tspan></text>
<rect x="376.5" y="386.5" width="57" height="68" fill="none" stroke="#cfcfcf" stroke-width="1"/>
<text x="372.6" y="453.7" font-size="5.4" font-weight="normal" text-anchor="middle" fill="#444" transform="rotate(-90 372.6 453.7)" dominant-baseline="middle">0</text>
<text x="372.6" y="440.4" font-size="5.4" font-weight="normal" text-anchor="middle" fill="#444" transform="rotate(-90 372.6 440.4)" dominant-baseline="middle">50</text>
<text x="372.6" y="427.1" font-size="5.4" font-weight="normal" text-anchor="middle" fill="#444" transform="rotate(-90 372.6 427.1)" dominant-baseline="middle">100</text>
<text x="372.6" y="413.8" font-size="5.4" font-weight="normal" text-anchor="middle" fill="#444" transform="rotate(-90 372.6 413.8)" dominant-baseline="middle">150</text>
<text x="372.6" y="400.5" font-size="5.4" font-weight="normal" text-anchor="middle" fill="#444" transform="rotate(-90 372.6 400.5)" dominant-baseline="middle">200</text>
<text x="372.6" y="387.2" font-size="5.4" font-weight="normal" text-anchor="middle" fill="#444" transform="rotate(-90 372.6 387.2)" dominant-baseline="middle">250</text>
<text x="371.8" y="460.5" font-size="5.7" fill="#333">10<tspan font-size="5.0" dy="-2.4">0</tspan></text>
<text x="385.98" y="460.5" font-size="5.7" fill="#333">10<tspan font-size="5.0" dy="-2.4">1</tspan></text>
<text x="400.17" y="460.5" font-size="5.7" fill="#333">10<tspan font-size="5.0" dy="-2.4">2</tspan></text>
<text x="414.35" y="460.5" font-size="5.7" fill="#333">10<tspan font-size="5.0" dy="-2.4">3</tspan></text>
<text x="428.53" y="460.5" font-size="5.7" fill="#333">10<tspan font-size="5.0" dy="-2.4">4</tspan></text>
<rect x="376.5" y="466.5" width="57" height="66" fill="none" stroke="#cfcfcf" stroke-width="1"/>
<text x="372.6" y="532.2" font-size="5.4" font-weight="normal" text-anchor="middle" fill="#444" transform="rotate(-90 372.6 532.2)" dominant-baseline="middle">0</text>
<text x="372.6" y="519.14" font-size="5.4" font-weight="normal" text-anchor="middle" fill="#444" transform="rotate(-90 372.6 519.14)" dominant-baseline="middle">50</text>
<text x="372.6" y="506.08" font-size="5.4" font-weight="normal" text-anchor="middle" fill="#444" transform="rotate(-90 372.6 506.08)" dominant-baseline="middle">100</text>
<text x="372.6" y="493.02" font-size="5.4" font-weight="normal" text-anchor="middle" fill="#444" transform="rotate(-90 372.6 493.02)" dominant-baseline="middle">150</text>
<text x="372.6" y="479.96" font-size="5.4" font-weight="normal" text-anchor="middle" fill="#444" transform="rotate(-90 372.6 479.96)" dominant-baseline="middle">200</text>
<text x="372.6" y="466.9" font-size="5.4" font-weight="normal" text-anchor="middle" fill="#444" transform="rotate(-90 372.6 466.9)" dominant-baseline="middle">250</text>
<text x="371.8" y="539" font-size="5.7" fill="#333">10<tspan font-size="5.0" dy="-2.4">0</tspan></text>
<text x="385.98" y="539" font-size="5.7" fill="#333">10<tspan font-size="5.0" dy="-2.4">1</tspan></text>
<text x="400.17" y="539" font-size="5.7" fill="#333">10<tspan font-size="5.0" dy="-2.4">2</tspan></text>
<text x="414.35" y="539" font-size="5.7" fill="#333">10<tspan font-size="5.0" dy="-2.4">3</tspan></text>
<text x="428.53" y="539" font-size="5.7" fill="#333">10<tspan font-size="5.0" dy="-2.4">4</tspan></text>
<rect x="446.5" y="386.5" width="57" height="68" fill="none" stroke="#cfcfcf" stroke-width="1"/>
<text x="442.7" y="453.7" font-size="5.4" font-weight="normal" text-anchor="middle" fill="#444" transform="rotate(-90 442.7 453.7)" dominant-baseline="middle">0</text>
<text x="442.7" y="440.4" font-size="5.4" font-weight="normal" text-anchor="middle" fill="#444" transform="rotate(-90 442.7 440.4)" dominant-baseline="middle">50</text>
<text x="442.7" y="427.1" font-size="5.4" font-weight="normal" text-anchor="middle" fill="#444" transform="rotate(-90 442.7 427.1)" dominant-baseline="middle">100</text>
<text x="442.7" y="413.8" font-size="5.4" font-weight="normal" text-anchor="middle" fill="#444" transform="rotate(-90 442.7 413.8)" dominant-baseline="middle">150</text>
<text x="442.7" y="400.5" font-size="5.4" font-weight="normal" text-anchor="middle" fill="#444" transform="rotate(-90 442.7 400.5)" dominant-baseline="middle">200</text>
<text x="442.7" y="387.2" font-size="5.4" font-weight="normal" text-anchor="middle" fill="#444" transform="rotate(-90 442.7 387.2)" dominant-baseline="middle">250</text>
<text x="441.9" y="460.5" font-size="5.7" fill="#333">10<tspan font-size="5.0" dy="-2.4">0</tspan></text>
<text x="455.91" y="460.5" font-size="5.7" fill="#333">10<tspan font-size="5.0" dy="-2.4">1</tspan></text>
<text x="469.92" y="460.5" font-size="5.7" fill="#333">10<tspan font-size="5.0" dy="-2.4">2</tspan></text>
<text x="483.93" y="460.5" font-size="5.7" fill="#333">10<tspan font-size="5.0" dy="-2.4">3</tspan></text>
<text x="497.94" y="460.5" font-size="5.7" fill="#333">10<tspan font-size="5.0" dy="-2.4">4</tspan></text>
<rect x="446.5" y="466.5" width="57" height="66" fill="none" stroke="#cfcfcf" stroke-width="1"/>
<text x="442.7" y="532.2" font-size="5.4" font-weight="normal" text-anchor="middle" fill="#444" transform="rotate(-90 442.7 532.2)" dominant-baseline="middle">0</text>
<text x="442.7" y="519.14" font-size="5.4" font-weight="normal" text-anchor="middle" fill="#444" transform="rotate(-90 442.7 519.14)" dominant-baseline="middle">50</text>
<text x="442.7" y="506.08" font-size="5.4" font-weight="normal" text-anchor="middle" fill="#444" transform="rotate(-90 442.7 506.08)" dominant-baseline="middle">100</text>
<text x="442.7" y="493.02" font-size="5.4" font-weight="normal" text-anchor="middle" fill="#444" transform="rotate(-90 442.7 493.02)" dominant-baseline="middle">150</text>
<text x="442.7" y="479.96" font-size="5.4" font-weight="normal" text-anchor="middle" fill="#444" transform="rotate(-90 442.7 479.96)" dominant-baseline="middle">200</text>
<text x="442.7" y="466.9" font-size="5.4" font-weight="normal" text-anchor="middle" fill="#444" transform="rotate(-90 442.7 466.9)" dominant-baseline="middle">250</text>
<text x="441.9" y="539" font-size="5.7" fill="#333">10<tspan font-size="5.0" dy="-2.4">0</tspan></text>
<text x="455.91" y="539" font-size="5.7" fill="#333">10<tspan font-size="5.0" dy="-2.4">1</tspan></text>
<text x="469.92" y="539" font-size="5.7" fill="#333">10<tspan font-size="5.0" dy="-2.4">2</tspan></text>
<text x="483.93" y="539" font-size="5.7" fill="#333">10<tspan font-size="5.0" dy="-2.4">3</tspan></text>
<text x="497.94" y="539" font-size="5.7" fill="#333">10<tspan font-size="5.0" dy="-2.4">4</tspan></text>
<text x="52.2" y="378.3" font-size="8.1" font-weight="bold" text-anchor="middle" fill="#000" stroke="#000" stroke-width="0.18">No drug control</text>
<text x="124.25" y="378.3" font-size="8.1" font-weight="bold" text-anchor="middle" fill="#000" stroke="#000" stroke-width="0.18">BMS-214662</text>
<text x="207.95" y="378.3" font-size="8.1" font-weight="bold" text-anchor="middle" fill="#000" stroke="#000" stroke-width="0.18">No drug control</text>
<text x="279.85" y="378.3" font-size="8.1" font-weight="bold" text-anchor="middle" fill="#000" stroke="#000" stroke-width="0.18">BMS-214662</text>
<text x="402.1" y="378.2" font-size="8.1" font-weight="bold" text-anchor="middle" fill="#000" stroke="#000" stroke-width="0.18">No drug control</text>
<text x="471.85" y="378.2" font-size="8.1" font-weight="bold" text-anchor="middle" fill="#000" stroke="#000" stroke-width="0.18">BMS-214662</text>
<text x="314" y="391.9" font-size="7.9" font-weight="bold" text-anchor="start" fill="#000" stroke="#000" stroke-width="0.18">24h</text>
<text x="314" y="473.4" font-size="7.9" font-weight="bold" text-anchor="start" fill="#000" stroke="#000" stroke-width="0.18">48h</text>
<text x="506.3" y="392.4" font-size="7.9" font-weight="bold" text-anchor="start" fill="#000" stroke="#000" stroke-width="0.18">24h</text>
<text x="506" y="473.9" font-size="7.9" font-weight="bold" text-anchor="start" fill="#000" stroke="#000" stroke-width="0.18">48h</text>
<text x="83.3" y="453.9" font-size="8.4" font-weight="normal" text-anchor="end" fill="#222">1.6%</text>
<text x="154.3" y="453.9" font-size="8.4" font-weight="normal" text-anchor="end" fill="#222">7.2%</text>
<text x="238.8" y="453.9" font-size="8.4" font-weight="normal" text-anchor="end" fill="#222">3.2%</text>
<text x="309.5" y="453.9" font-size="8.4" font-weight="normal" text-anchor="end" fill="#222">36.6%</text>
<text x="83.3" y="532" font-size="8.4" font-weight="normal" text-anchor="end" fill="#222">5.9%</text>
<text x="154.3" y="532" font-size="8.4" font-weight="normal" text-anchor="end" fill="#222">27.7%</text>
<text x="238.8" y="532" font-size="8.4" font-weight="normal" text-anchor="end" fill="#222">5.7%</text>
<text x="309.5" y="532" font-size="8.4" font-weight="normal" text-anchor="end" fill="#222">31.5%</text>
<text x="433" y="453.3" font-size="8.3" font-weight="normal" text-anchor="end" fill="#222">&lt;1%</text>
<text x="502.4" y="453.3" font-size="8.3" font-weight="normal" text-anchor="end" fill="#222">1.5%</text>
<text x="433" y="531.8" font-size="8.3" font-weight="normal" text-anchor="end" fill="#222">&lt;1%</text>
<text x="502.4" y="531.8" font-size="8.3" font-weight="normal" text-anchor="end" fill="#222">9.7%</text>
<polygon points="23.5,430 23.5,404 30,402 38,404 40.6,410 39,424 36,430" fill="#fbeaea" opacity="0.6" filter="url(#bl2)"/>
<polygon points="25.5,428 25.5,418 31,416 37,417 37.5,424 35,428.5" fill="#e03030" opacity="0.6" filter="url(#bl2)"/>
<g filter="url(#bl)">
<path d="M32.5 427.4h0.9v0.9h-0.9zM28.3 414.4h0.9v0.9h-0.9zM32.9 403.3h0.9v0.9h-0.9zM28.7 424.6h0.9v0.9h-0.9zM25.1 413.1h0.9v0.9h-0.9zM37.5 410.8h0.9v0.9h-0.9zM32.9 409.9h0.9v0.9h-0.9zM25.1 421.3h0.9v0.9h-0.9zM32.7 415.0h0.9v0.9h-0.9zM38.0 417.8h0.9v0.9h-0.9zM32.2 415.8h0.9v0.9h-0.9zM37.8 420.4h0.9v0.9h-0.9zM38.0 406.4h0.9v0.9h-0.9zM31.6 409.9h0.9v0.9h-0.9zM36.0 425.0h0.9v0.9h-0.9zM32.9 424.8h0.9v0.9h-0.9zM31.0 427.7h0.9v0.9h-0.9zM23.6 419.5h0.9v0.9h-0.9zM39.3 420.7h0.9v0.9h-0.9zM27.9 425.9h0.9v0.9h-0.9zM26.7 412.9h0.9v0.9h-0.9zM26.5 412.9h0.9v0.9h-0.9zM30.6 405.0h0.9v0.9h-0.9zM35.3 421.1h0.9v0.9h-0.9zM35.4 425.0h0.9v0.9h-0.9zM28.4 429.8h0.9v0.9h-0.9zM24.6 410.0h0.9v0.9h-0.9zM25.1 413.0h0.9v0.9h-0.9zM32.7 417.1h0.9v0.9h-0.9zM32.0 413.7h0.9v0.9h-0.9zM26.2 409.5h0.9v0.9h-0.9zM33.0 429.5h0.9v0.9h-0.9zM36.2 417.9h0.9v0.9h-0.9zM31.1 405.5h0.9v0.9h-0.9zM26.2 415.8h0.9v0.9h-0.9zM36.9 415.7h0.9v0.9h-0.9zM29.4 409.5h0.9v0.9h-0.9zM29.2 408.6h0.9v0.9h-0.9zM34.8 416.8h0.9v0.9h-0.9zM29.6 420.1h0.9v0.9h-0.9zM31.4 428.1h0.9v0.9h-0.9zM31.5 408.0h0.9v0.9h-0.9zM28.7 430.8h0.9v0.9h-0.9zM33.9 423.2h0.9v0.9h-0.9zM28.7 412.4h0.9v0.9h-0.9zM27.5 418.2h0.9v0.9h-0.9zM35.7 425.2h0.9v0.9h-0.9zM28.4 422.8h0.9v0.9h-0.9zM36.2 416.6h0.9v0.9h-0.9zM25.6 420.5h0.9v0.9h-0.9zM32.9 405.7h0.9v0.9h-0.9zM27.0 406.3h0.9v0.9h-0.9zM35.3 421.2h0.9v0.9h-0.9zM24.6 404.7h0.9v0.9h-0.9zM33.6 409.5h0.9v0.9h-0.9zM24.6 421.4h0.9v0.9h-0.9zM24.4 413.7h0.9v0.9h-0.9zM29.4 403.2h0.9v0.9h-0.9zM30.7 415.4h0.9v0.9h-0.9zM24.4 423.5h0.9v0.9h-0.9zM29.2 406.5h0.9v0.9h-0.9zM37.9 414.0h0.9v0.9h-0.9zM33.5 404.6h0.9v0.9h-0.9zM23.5 420.3h0.9v0.9h-0.9zM37.1 424.5h0.9v0.9h-0.9zM35.5 406.0h0.9v0.9h-0.9zM39.8 412.5h0.9v0.9h-0.9zM25.6 410.4h0.9v0.9h-0.9zM31.5 413.7h0.9v0.9h-0.9zM31.4 417.7h0.9v0.9h-0.9zM30.1 429.8h0.9v0.9h-0.9zM25.9 405.8h0.9v0.9h-0.9zM29.7 403.1h0.9v0.9h-0.9zM24.5 403.3h0.9v0.9h-0.9zM36.8 410.3h0.9v0.9h-0.9zM36.7 404.3h0.9v0.9h-0.9zM27.0 421.0h0.9v0.9h-0.9zM31.0 417.2h0.9v0.9h-0.9zM27.3 424.4h0.9v0.9h-0.9zM31.8 411.3h0.9v0.9h-0.9zM30.7 419.8h0.9v0.9h-0.9zM38.2 424.3h0.9v0.9h-0.9zM25.6 414.3h0.9v0.9h-0.9zM30.7 419.8h0.9v0.9h-0.9zM34.7 412.5h0.9v0.9h-0.9zM34.1 424.2h0.9v0.9h-0.9zM27.0 416.7h0.9v0.9h-0.9zM27.0 404.6h0.9v0.9h-0.9zM30.6 429.0h0.9v0.9h-0.9zM37.3 414.8h0.9v0.9h-0.9zM33.8 410.5h0.9v0.9h-0.9zM28.6 419.0h0.9v0.9h-0.9zM35.1 402.2h0.9v0.9h-0.9zM35.9 413.7h0.9v0.9h-0.9zM28.6 416.4h0.9v0.9h-0.9zM32.9 406.1h0.9v0.9h-0.9zM31.8 424.8h0.9v0.9h-0.9zM39.9 407.7h0.9v0.9h-0.9zM26.4 417.6h0.9v0.9h-0.9zM35.2 417.0h0.9v0.9h-0.9zM38.9 408.5h0.9v0.9h-0.9zM27.0 425.1h0.9v0.9h-0.9zM33.0 427.5h0.9v0.9h-0.9zM36.0 414.7h0.9v0.9h-0.9zM29.6 422.1h0.9v0.9h-0.9zM35.3 422.5h0.9v0.9h-0.9zM34.0 424.6h0.9v0.9h-0.9zM30.2 415.3h0.9v0.9h-0.9zM28.2 424.3h0.9v0.9h-0.9zM31.1 416.8h0.9v0.9h-0.9zM26.9 417.0h0.9v0.9h-0.9zM39.4 406.0h0.9v0.9h-0.9zM31.2 400.8h0.9v0.9h-0.9zM27.6 411.1h0.9v0.9h-0.9zM23.9 413.4h0.9v0.9h-0.9zM29.5 421.7h0.9v0.9h-0.9zM37.5 412.3h0.9v0.9h-0.9zM39.1 406.1h0.9v0.9h-0.9zM31.8 419.3h0.9v0.9h-0.9zM37.3 410.5h0.9v0.9h-0.9zM24.4 409.3h0.9v0.9h-0.9zM39.4 423.7h0.9v0.9h-0.9zM33.3 425.0h0.9v0.9h-0.9zM25.0 428.4h0.9v0.9h-0.9zM37.7 411.5h0.9v0.9h-0.9zM26.5 405.6h0.9v0.9h-0.9zM25.4 404.7h0.9v0.9h-0.9zM25.0 417.5h0.9v0.9h-0.9zM26.6 414.2h0.9v0.9h-0.9zM40.4 410.1h0.9v0.9h-0.9zM37.3 413.8h0.9v0.9h-0.9zM32.7 428.3h0.9v0.9h-0.9zM39.4 409.3h0.9v0.9h-0.9zM31.4 407.8h0.9v0.9h-0.9zM34.3 408.2h0.9v0.9h-0.9zM27.2 401.7h0.9v0.9h-0.9zM26.9 407.7h0.9v0.9h-0.9zM33.8 413.0h0.9v0.9h-0.9zM39.5 418.2h0.9v0.9h-0.9zM27.2 415.4h0.9v0.9h-0.9zM23.7 408.7h0.9v0.9h-0.9zM27.6 410.4h0.9v0.9h-0.9zM27.0 418.2h0.9v0.9h-0.9zM33.1 427.3h0.9v0.9h-0.9zM24.9 417.9h0.9v0.9h-0.9zM32.5 409.5h0.9v0.9h-0.9zM26.1 416.8h0.9v0.9h-0.9zM40.3 413.3h0.9v0.9h-0.9zM29.4 423.1h0.9v0.9h-0.9zM35.8 407.1h0.9v0.9h-0.9zM36.3 423.3h0.9v0.9h-0.9zM39.6 410.2h0.9v0.9h-0.9zM23.9 415.6h0.9v0.9h-0.9zM34.9 419.9h0.9v0.9h-0.9zM31.8 422.7h0.9v0.9h-0.9zM33.9 429.1h0.9v0.9h-0.9zM26.4 424.9h0.9v0.9h-0.9zM25.3 425.7h0.9v0.9h-0.9zM28.4 430.7h0.9v0.9h-0.9zM28.6 422.7h0.9v0.9h-0.9zM22.7 425.8h0.9v0.9h-0.9zM33.9 409.1h0.9v0.9h-0.9zM28.1 412.1h0.9v0.9h-0.9zM32.8 421.5h0.9v0.9h-0.9zM34.6 423.4h0.9v0.9h-0.9zM37.2 423.3h0.9v0.9h-0.9zM36.5 410.5h0.9v0.9h-0.9zM32.0 405.9h0.9v0.9h-0.9zM34.4 422.5h0.9v0.9h-0.9zM37.7 406.4h0.9v0.9h-0.9zM35.5 425.8h0.9v0.9h-0.9zM38.6 408.8h0.9v0.9h-0.9zM36.1 413.6h0.9v0.9h-0.9zM24.2 406.0h0.9v0.9h-0.9zM26.1 429.4h0.9v0.9h-0.9zM22.9 411.8h0.9v0.9h-0.9zM29.2 424.4h0.9v0.9h-0.9zM26.1 427.5h0.9v0.9h-0.9zM27.7 427.1h0.9v0.9h-0.9zM30.5 423.5h0.9v0.9h-0.9zM23.2 426.4h0.9v0.9h-0.9zM22.6 415.0h0.9v0.9h-0.9zM33.7 403.5h0.9v0.9h-0.9zM39.0 422.6h0.9v0.9h-0.9zM28.6 408.3h0.9v0.9h-0.9zM29.4 402.1h0.9v0.9h-0.9zM32.7 408.0h0.9v0.9h-0.9zM35.0 420.2h0.9v0.9h-0.9zM35.3 423.1h0.9v0.9h-0.9zM35.9 427.5h0.9v0.9h-0.9zM26.3 410.8h0.9v0.9h-0.9zM32.5 407.9h0.9v0.9h-0.9zM28.4 422.1h0.9v0.9h-0.9zM27.0 419.0h0.9v0.9h-0.9zM30.5 403.0h0.9v0.9h-0.9zM26.3 408.1h0.9v0.9h-0.9zM32.2 422.1h0.9v0.9h-0.9zM38.5 410.6h0.9v0.9h-0.9zM27.3 414.7h0.9v0.9h-0.9zM34.7 421.8h0.9v0.9h-0.9zM34.1 420.5h0.9v0.9h-0.9zM40.0 413.2h0.9v0.9h-0.9zM34.3 419.8h0.9v0.9h-0.9zM30.3 406.0h0.9v0.9h-0.9zM28.2 428.1h0.9v0.9h-0.9zM25.7 408.1h0.9v0.9h-0.9zM28.2 413.9h0.9v0.9h-0.9zM25.7 425.0h0.9v0.9h-0.9zM30.6 404.4h0.9v0.9h-0.9zM32.6 418.0h0.9v0.9h-0.9zM34.9 409.3h0.9v0.9h-0.9zM37.0 406.8h0.9v0.9h-0.9zM32.9 418.7h0.9v0.9h-0.9zM29.8 416.1h0.9v0.9h-0.9zM36.3 410.2h0.9v0.9h-0.9zM30.9 418.5h0.9v0.9h-0.9zM36.4 412.7h0.9v0.9h-0.9zM31.6 425.9h0.9v0.9h-0.9zM33.3 403.7h0.9v0.9h-0.9zM28.0 427.7h0.9v0.9h-0.9zM21.8 411.8h0.9v0.9h-0.9zM29.0 418.2h0.9v0.9h-0.9zM35.6 410.6h0.9v0.9h-0.9zM30.5 409.1h0.9v0.9h-0.9zM33.6 429.3h0.9v0.9h-0.9zM31.2 414.3h0.9v0.9h-0.9zM36.6 416.3h0.9v0.9h-0.9zM27.2 413.0h0.9v0.9h-0.9zM33.8 419.8h0.9v0.9h-0.9zM23.7 411.2h0.9v0.9h-0.9zM31.2 424.7h0.9v0.9h-0.9zM36.9 409.1h0.9v0.9h-0.9zM31.7 428.7h0.9v0.9h-0.9zM35.3 410.8h0.9v0.9h-0.9zM38.4 419.8h0.9v0.9h-0.9zM31.4 412.9h0.9v0.9h-0.9zM36.9 416.4h0.9v0.9h-0.9zM33.0 408.4h0.9v0.9h-0.9zM26.5 417.4h0.9v0.9h-0.9zM31.3 409.5h0.9v0.9h-0.9zM23.2 409.3h0.9v0.9h-0.9zM26.1 409.7h0.9v0.9h-0.9zM32.5 407.4h0.9v0.9h-0.9zM33.8 421.2h0.9v0.9h-0.9zM30.0 408.9h0.9v0.9h-0.9zM27.0 419.0h0.9v0.9h-0.9zM35.1 405.8h0.9v0.9h-0.9zM34.5 430.2h0.9v0.9h-0.9zM25.7 421.3h0.9v0.9h-0.9zM35.0 423.3h0.9v0.9h-0.9zM37.1 413.4h0.9v0.9h-0.9zM37.4 409.6h0.9v0.9h-0.9zM28.7 410.9h0.9v0.9h-0.9zM28.7 426.6h0.9v0.9h-0.9zM32.2 413.0h0.9v0.9h-0.9zM32.3 424.9h0.9v0.9h-0.9zM36.9 414.3h0.9v0.9h-0.9zM26.9 422.7h0.9v0.9h-0.9zM30.9 420.5h0.9v0.9h-0.9zM39.6 408.2h0.9v0.9h-0.9zM31.5 412.6h0.9v0.9h-0.9zM25.2 413.0h0.9v0.9h-0.9zM31.6 413.7h0.9v0.9h-0.9zM35.5 427.6h0.9v0.9h-0.9zM25.8 415.7h0.9v0.9h-0.9zM42.4 409.8h0.9v0.9h-0.9zM34.8 401.8h0.9v0.9h-0.9zM25.6 412.3h0.9v0.9h-0.9zM30.1 424.0h0.9v0.9h-0.9zM36.6 407.6h0.9v0.9h-0.9zM34.7 430.3h0.9v0.9h-0.9zM25.4 423.3h0.9v0.9h-0.9zM31.5 423.5h0.9v0.9h-0.9zM30.8 424.8h0.9v0.9h-0.9zM25.4 427.6h0.9v0.9h-0.9zM24.4 421.2h0.9v0.9h-0.9zM25.5 414.5h0.9v0.9h-0.9zM32.6 427.3h0.9v0.9h-0.9zM32.5 418.1h0.9v0.9h-0.9zM32.6 421.7h0.9v0.9h-0.9zM34.2 425.7h0.9v0.9h-0.9zM33.1 403.1h0.9v0.9h-0.9zM37.8 410.7h0.9v0.9h-0.9zM37.4 429.4h0.9v0.9h-0.9zM37.1 403.5h0.9v0.9h-0.9zM32.1 412.3h0.9v0.9h-0.9zM26.9 426.7h0.9v0.9h-0.9zM28.3 412.6h0.9v0.9h-0.9zM27.4 412.0h0.9v0.9h-0.9zM30.1 414.6h0.9v0.9h-0.9zM26.9 406.5h0.9v0.9h-0.9zM36.2 421.7h0.9v0.9h-0.9zM34.1 429.7h0.9v0.9h-0.9zM29.7 403.0h0.9v0.9h-0.9zM29.9 428.7h0.9v0.9h-0.9zM30.9 415.5h0.9v0.9h-0.9zM30.1 406.7h0.9v0.9h-0.9zM33.7 418.2h0.9v0.9h-0.9zM27.2 407.5h0.9v0.9h-0.9zM34.2 422.7h0.9v0.9h-0.9zM27.5 410.3h0.9v0.9h-0.9zM33.7 408.3h0.9v0.9h-0.9zM36.5 427.3h0.9v0.9h-0.9zM34.8 407.7h0.9v0.9h-0.9zM34.1 420.0h0.9v0.9h-0.9zM30.1 406.5h0.9v0.9h-0.9zM34.7 407.0h0.9v0.9h-0.9zM26.3 414.3h0.9v0.9h-0.9zM28.7 404.7h0.9v0.9h-0.9zM30.3 408.5h0.9v0.9h-0.9zM27.9 418.4h0.9v0.9h-0.9zM24.5 412.5h0.9v0.9h-0.9zM31.0 423.0h0.9v0.9h-0.9zM29.0 405.5h0.9v0.9h-0.9zM24.5 414.5h0.9v0.9h-0.9zM23.3 423.0h0.9v0.9h-0.9zM29.2 423.3h0.9v0.9h-0.9zM37.5 413.9h0.9v0.9h-0.9zM27.9 413.2h0.9v0.9h-0.9zM25.7 416.2h0.9v0.9h-0.9zM25.7 417.4h0.9v0.9h-0.9zM34.7 407.7h0.9v0.9h-0.9zM31.0 410.7h0.9v0.9h-0.9zM24.8 422.8h0.9v0.9h-0.9zM35.9 406.5h0.9v0.9h-0.9zM38.4 407.4h0.9v0.9h-0.9zM36.6 408.9h0.9v0.9h-0.9zM28.2 419.2h0.9v0.9h-0.9zM30.2 427.1h0.9v0.9h-0.9zM25.9 415.6h0.9v0.9h-0.9z" fill="#d83838" opacity="0.55"/>
<path d="M35.9 421.6h0.9v0.9h-0.9zM27.7 416.7h0.9v0.9h-0.9zM31.6 422.6h0.9v0.9h-0.9zM31.5 425.3h0.9v0.9h-0.9zM33.5 416.8h0.9v0.9h-0.9zM31.8 423.4h0.9v0.9h-0.9zM27.9 425.8h0.9v0.9h-0.9zM32.4 427.0h0.9v0.9h-0.9zM35.4 418.2h0.9v0.9h-0.9zM37.5 421.5h0.9v0.9h-0.9zM33.7 423.1h0.9v0.9h-0.9zM31.7 418.3h0.9v0.9h-0.9zM32.3 417.9h0.9v0.9h-0.9zM33.2 417.3h0.9v0.9h-0.9zM33.1 423.4h0.9v0.9h-0.9zM28.9 421.2h0.9v0.9h-0.9zM29.7 421.4h0.9v0.9h-0.9zM32.3 419.6h0.9v0.9h-0.9zM30.5 419.8h0.9v0.9h-0.9zM29.4 419.6h0.9v0.9h-0.9zM29.6 424.4h0.9v0.9h-0.9zM32.8 426.6h0.9v0.9h-0.9zM29.9 427.4h0.9v0.9h-0.9zM28.3 422.5h0.9v0.9h-0.9zM28.5 425.5h0.9v0.9h-0.9zM31.9 422.7h0.9v0.9h-0.9zM36.0 425.7h0.9v0.9h-0.9zM29.1 419.3h0.9v0.9h-0.9zM36.0 422.9h0.9v0.9h-0.9zM31.6 416.3h0.9v0.9h-0.9zM31.0 424.1h0.9v0.9h-0.9zM30.2 426.3h0.9v0.9h-0.9zM29.6 417.4h0.9v0.9h-0.9zM36.0 417.6h0.9v0.9h-0.9zM26.9 421.6h0.9v0.9h-0.9zM26.1 421.3h0.9v0.9h-0.9zM34.9 422.2h0.9v0.9h-0.9zM32.7 425.6h0.9v0.9h-0.9zM34.3 420.9h0.9v0.9h-0.9zM29.4 418.9h0.9v0.9h-0.9zM33.0 423.1h0.9v0.9h-0.9zM28.3 425.0h0.9v0.9h-0.9zM31.2 422.5h0.9v0.9h-0.9zM26.6 425.9h0.9v0.9h-0.9zM28.6 425.6h0.9v0.9h-0.9zM28.3 420.6h0.9v0.9h-0.9zM25.7 426.1h0.9v0.9h-0.9zM28.5 424.2h0.9v0.9h-0.9zM30.6 428.2h0.9v0.9h-0.9zM28.3 419.7h0.9v0.9h-0.9zM32.7 421.6h0.9v0.9h-0.9zM30.9 417.5h0.9v0.9h-0.9zM33.0 418.2h0.9v0.9h-0.9zM28.3 424.1h0.9v0.9h-0.9zM27.3 418.4h0.9v0.9h-0.9zM29.0 418.1h0.9v0.9h-0.9zM34.0 424.0h0.9v0.9h-0.9zM31.4 422.2h0.9v0.9h-0.9zM26.5 422.4h0.9v0.9h-0.9zM33.0 420.0h0.9v0.9h-0.9zM31.1 421.9h0.9v0.9h-0.9zM29.4 421.2h0.9v0.9h-0.9zM31.9 420.2h0.9v0.9h-0.9zM33.7 428.7h0.9v0.9h-0.9zM34.2 420.4h0.9v0.9h-0.9zM30.2 424.1h0.9v0.9h-0.9zM31.2 420.7h0.9v0.9h-0.9zM33.2 422.9h0.9v0.9h-0.9zM35.0 417.7h0.9v0.9h-0.9zM32.8 423.2h0.9v0.9h-0.9zM27.5 419.6h0.9v0.9h-0.9zM32.0 427.7h0.9v0.9h-0.9zM33.5 419.9h0.9v0.9h-0.9zM34.5 418.1h0.9v0.9h-0.9zM31.7 423.6h0.9v0.9h-0.9zM32.2 426.8h0.9v0.9h-0.9zM36.9 422.4h0.9v0.9h-0.9zM36.4 421.3h0.9v0.9h-0.9zM32.5 425.7h0.9v0.9h-0.9zM26.0 425.1h0.9v0.9h-0.9zM27.2 423.4h0.9v0.9h-0.9zM36.8 421.4h0.9v0.9h-0.9zM35.5 424.6h0.9v0.9h-0.9zM31.2 417.0h0.9v0.9h-0.9zM29.0 428.2h0.9v0.9h-0.9zM37.3 424.4h0.9v0.9h-0.9zM27.5 417.1h0.9v0.9h-0.9zM32.9 425.4h0.9v0.9h-0.9zM38.7 423.0h0.9v0.9h-0.9zM30.3 422.0h0.9v0.9h-0.9zM34.7 421.5h0.9v0.9h-0.9zM36.9 419.1h0.9v0.9h-0.9zM26.2 424.6h0.9v0.9h-0.9zM31.7 427.6h0.9v0.9h-0.9zM32.5 419.8h0.9v0.9h-0.9zM33.6 417.4h0.9v0.9h-0.9zM36.4 419.2h0.9v0.9h-0.9zM28.0 426.6h0.9v0.9h-0.9zM30.7 423.4h0.9v0.9h-0.9zM26.5 423.1h0.9v0.9h-0.9zM34.4 420.0h0.9v0.9h-0.9zM37.5 419.0h0.9v0.9h-0.9zM34.2 415.8h0.9v0.9h-0.9zM26.5 424.6h0.9v0.9h-0.9zM34.5 427.1h0.9v0.9h-0.9zM37.7 420.9h0.9v0.9h-0.9zM30.2 418.3h0.9v0.9h-0.9zM29.5 424.1h0.9v0.9h-0.9zM30.5 420.7h0.9v0.9h-0.9zM38.7 418.1h0.9v0.9h-0.9zM34.3 424.7h0.9v0.9h-0.9zM31.1 417.3h0.9v0.9h-0.9zM34.0 425.9h0.9v0.9h-0.9zM29.6 417.8h0.9v0.9h-0.9zM32.9 415.7h0.9v0.9h-0.9zM35.8 425.2h0.9v0.9h-0.9zM26.5 420.1h0.9v0.9h-0.9zM34.3 420.0h0.9v0.9h-0.9zM31.4 419.3h0.9v0.9h-0.9zM31.6 427.2h0.9v0.9h-0.9zM28.3 425.6h0.9v0.9h-0.9zM27.4 420.0h0.9v0.9h-0.9zM33.7 423.5h0.9v0.9h-0.9zM33.2 425.1h0.9v0.9h-0.9zM27.3 421.3h0.9v0.9h-0.9zM29.1 417.3h0.9v0.9h-0.9zM30.2 426.3h0.9v0.9h-0.9zM30.9 419.5h0.9v0.9h-0.9zM34.4 427.3h0.9v0.9h-0.9zM32.7 423.6h0.9v0.9h-0.9zM36.4 423.0h0.9v0.9h-0.9zM32.0 423.9h0.9v0.9h-0.9zM26.0 422.6h0.9v0.9h-0.9zM36.5 418.6h0.9v0.9h-0.9zM34.5 420.1h0.9v0.9h-0.9zM25.2 420.3h0.9v0.9h-0.9zM31.0 426.1h0.9v0.9h-0.9zM28.0 424.1h0.9v0.9h-0.9zM32.2 420.4h0.9v0.9h-0.9zM35.6 425.0h0.9v0.9h-0.9zM25.8 418.7h0.9v0.9h-0.9zM32.6 423.3h0.9v0.9h-0.9zM35.0 421.0h0.9v0.9h-0.9zM25.8 427.3h0.9v0.9h-0.9zM28.5 423.4h0.9v0.9h-0.9zM29.4 424.5h0.9v0.9h-0.9zM32.4 420.6h0.9v0.9h-0.9zM26.3 420.2h0.9v0.9h-0.9zM31.1 426.6h0.9v0.9h-0.9zM31.0 424.1h0.9v0.9h-0.9z" fill="#c81820" opacity="0.7"/>
<path d="M48.5 419.2h0.9v0.9h-0.9zM48.2 419.6h0.9v0.9h-0.9zM48.3 424.9h0.9v0.9h-0.9zM55.6 430.8h0.9v0.9h-0.9zM54.9 422.0h0.9v0.9h-0.9zM52.3 421.6h0.9v0.9h-0.9zM46.5 422.2h0.9v0.9h-0.9zM57.2 423.8h0.9v0.9h-0.9zM48.3 422.6h0.9v0.9h-0.9zM50.0 419.1h0.9v0.9h-0.9zM59.3 417.3h0.9v0.9h-0.9zM58.6 427.9h0.9v0.9h-0.9zM48.1 418.7h0.9v0.9h-0.9zM56.3 421.2h0.9v0.9h-0.9zM54.2 426.9h0.9v0.9h-0.9zM56.1 424.5h0.9v0.9h-0.9zM53.9 417.8h0.9v0.9h-0.9zM56.3 425.2h0.9v0.9h-0.9z" fill="#c8c8c8" opacity="0.4"/>
</g>
<polygon points="94.5,431 94.5,407 102,405 110.5,408 110,425 106,431" fill="#fbeaea" opacity="0.6" filter="url(#bl2)"/>
<polygon points="98.5,428.5 99,422 104,421.5 107.6,423 107,428.5" fill="#e02020" opacity="0.8" filter="url(#bl2)"/>
<g filter="url(#bl)">
<path d="M98.3 410.6h0.9v0.9h-0.9zM103.8 424.6h0.9v0.9h-0.9zM99.8 421.8h0.9v0.9h-0.9zM101.8 422.3h0.9v0.9h-0.9zM110.1 422.0h0.9v0.9h-0.9zM100.3 418.7h0.9v0.9h-0.9zM101.4 427.6h0.9v0.9h-0.9zM97.0 407.8h0.9v0.9h-0.9zM105.6 427.3h0.9v0.9h-0.9zM101.7 420.0h0.9v0.9h-0.9zM108.1 420.0h0.9v0.9h-0.9zM105.4 415.0h0.9v0.9h-0.9zM105.9 418.0h0.9v0.9h-0.9zM102.8 430.6h0.9v0.9h-0.9zM101.6 409.9h0.9v0.9h-0.9zM104.1 408.5h0.9v0.9h-0.9zM93.9 417.8h0.9v0.9h-0.9zM102.6 428.7h0.9v0.9h-0.9zM103.2 417.4h0.9v0.9h-0.9zM105.9 419.2h0.9v0.9h-0.9zM109.2 424.7h0.9v0.9h-0.9zM94.8 427.5h0.9v0.9h-0.9zM101.0 413.4h0.9v0.9h-0.9zM100.4 418.2h0.9v0.9h-0.9zM97.1 415.0h0.9v0.9h-0.9zM99.9 429.2h0.9v0.9h-0.9zM97.4 421.3h0.9v0.9h-0.9zM96.6 417.2h0.9v0.9h-0.9zM108.2 424.8h0.9v0.9h-0.9zM104.4 406.6h0.9v0.9h-0.9zM101.3 417.3h0.9v0.9h-0.9zM102.8 424.4h0.9v0.9h-0.9zM103.7 430.1h0.9v0.9h-0.9zM102.7 424.1h0.9v0.9h-0.9zM99.1 408.2h0.9v0.9h-0.9zM105.4 410.0h0.9v0.9h-0.9zM108.2 407.2h0.9v0.9h-0.9zM99.4 420.4h0.9v0.9h-0.9zM95.5 417.2h0.9v0.9h-0.9zM106.3 428.8h0.9v0.9h-0.9zM100.0 419.6h0.9v0.9h-0.9zM106.1 430.1h0.9v0.9h-0.9zM101.5 411.8h0.9v0.9h-0.9zM96.2 419.4h0.9v0.9h-0.9zM109.2 423.0h0.9v0.9h-0.9zM96.6 405.9h0.9v0.9h-0.9zM96.1 426.2h0.9v0.9h-0.9zM97.0 423.9h0.9v0.9h-0.9zM107.5 412.6h0.9v0.9h-0.9zM96.7 417.6h0.9v0.9h-0.9zM101.3 410.9h0.9v0.9h-0.9zM97.3 430.0h0.9v0.9h-0.9zM106.3 411.7h0.9v0.9h-0.9zM110.1 408.5h0.9v0.9h-0.9zM102.9 432.8h0.9v0.9h-0.9zM96.7 421.2h0.9v0.9h-0.9zM93.9 410.4h0.9v0.9h-0.9zM105.3 417.4h0.9v0.9h-0.9zM109.5 413.5h0.9v0.9h-0.9zM110.0 421.1h0.9v0.9h-0.9zM96.3 408.5h0.9v0.9h-0.9zM102.5 412.1h0.9v0.9h-0.9zM105.8 405.8h0.9v0.9h-0.9zM98.2 423.5h0.9v0.9h-0.9zM94.1 425.0h0.9v0.9h-0.9zM98.5 423.8h0.9v0.9h-0.9zM104.2 412.4h0.9v0.9h-0.9zM108.2 414.2h0.9v0.9h-0.9zM102.1 417.3h0.9v0.9h-0.9zM102.0 405.1h0.9v0.9h-0.9zM96.7 417.3h0.9v0.9h-0.9zM97.5 426.2h0.9v0.9h-0.9zM99.0 423.2h0.9v0.9h-0.9zM109.8 418.0h0.9v0.9h-0.9zM100.7 416.3h0.9v0.9h-0.9zM105.9 418.0h0.9v0.9h-0.9zM97.0 425.8h0.9v0.9h-0.9zM98.4 415.0h0.9v0.9h-0.9zM102.2 427.5h0.9v0.9h-0.9zM107.1 423.2h0.9v0.9h-0.9zM101.0 427.8h0.9v0.9h-0.9zM106.9 407.7h0.9v0.9h-0.9zM103.2 424.3h0.9v0.9h-0.9zM95.3 413.9h0.9v0.9h-0.9zM97.0 411.3h0.9v0.9h-0.9zM102.0 413.3h0.9v0.9h-0.9zM98.2 428.8h0.9v0.9h-0.9zM104.7 420.8h0.9v0.9h-0.9zM98.8 410.3h0.9v0.9h-0.9zM96.3 424.0h0.9v0.9h-0.9zM103.2 413.3h0.9v0.9h-0.9zM108.8 410.7h0.9v0.9h-0.9zM97.0 419.7h0.9v0.9h-0.9zM98.7 428.5h0.9v0.9h-0.9zM99.5 431.5h0.9v0.9h-0.9zM103.6 422.4h0.9v0.9h-0.9zM96.5 408.0h0.9v0.9h-0.9zM104.3 426.2h0.9v0.9h-0.9zM96.3 412.6h0.9v0.9h-0.9zM101.9 408.6h0.9v0.9h-0.9zM97.2 408.7h0.9v0.9h-0.9zM104.0 419.1h0.9v0.9h-0.9zM105.7 429.3h0.9v0.9h-0.9zM101.4 405.9h0.9v0.9h-0.9zM97.1 416.7h0.9v0.9h-0.9zM107.5 412.0h0.9v0.9h-0.9zM93.4 414.8h0.9v0.9h-0.9zM97.9 425.4h0.9v0.9h-0.9zM101.3 420.4h0.9v0.9h-0.9zM94.7 419.1h0.9v0.9h-0.9zM94.7 422.6h0.9v0.9h-0.9zM95.1 427.4h0.9v0.9h-0.9zM108.9 414.5h0.9v0.9h-0.9zM102.6 427.4h0.9v0.9h-0.9zM104.7 429.8h0.9v0.9h-0.9zM107.3 409.6h0.9v0.9h-0.9zM105.5 424.0h0.9v0.9h-0.9zM108.1 413.0h0.9v0.9h-0.9zM101.3 422.9h0.9v0.9h-0.9zM104.3 406.6h0.9v0.9h-0.9zM103.0 428.3h0.9v0.9h-0.9zM97.5 420.3h0.9v0.9h-0.9zM95.8 427.2h0.9v0.9h-0.9zM94.0 418.5h0.9v0.9h-0.9zM104.9 417.2h0.9v0.9h-0.9zM107.6 426.2h0.9v0.9h-0.9zM99.0 410.4h0.9v0.9h-0.9zM103.2 426.7h0.9v0.9h-0.9zM106.7 411.1h0.9v0.9h-0.9zM98.4 429.2h0.9v0.9h-0.9zM107.7 409.6h0.9v0.9h-0.9zM95.4 410.8h0.9v0.9h-0.9zM99.1 408.8h0.9v0.9h-0.9zM94.9 429.7h0.9v0.9h-0.9zM95.2 422.4h0.9v0.9h-0.9zM106.3 423.2h0.9v0.9h-0.9zM103.4 426.6h0.9v0.9h-0.9zM107.9 410.1h0.9v0.9h-0.9zM108.4 407.1h0.9v0.9h-0.9zM97.6 429.1h0.9v0.9h-0.9zM98.5 424.0h0.9v0.9h-0.9zM102.0 412.0h0.9v0.9h-0.9zM101.4 428.6h0.9v0.9h-0.9zM97.7 424.7h0.9v0.9h-0.9zM105.4 424.0h0.9v0.9h-0.9zM106.5 421.3h0.9v0.9h-0.9zM100.8 424.8h0.9v0.9h-0.9zM99.5 426.9h0.9v0.9h-0.9zM101.2 427.0h0.9v0.9h-0.9zM103.8 413.3h0.9v0.9h-0.9zM104.9 418.1h0.9v0.9h-0.9zM96.9 412.7h0.9v0.9h-0.9zM107.9 419.6h0.9v0.9h-0.9zM98.2 428.9h0.9v0.9h-0.9zM104.4 418.7h0.9v0.9h-0.9zM98.9 422.0h0.9v0.9h-0.9zM98.2 408.3h0.9v0.9h-0.9zM100.8 418.7h0.9v0.9h-0.9zM96.2 429.0h0.9v0.9h-0.9zM107.1 430.7h0.9v0.9h-0.9zM108.2 407.9h0.9v0.9h-0.9zM108.5 408.7h0.9v0.9h-0.9zM104.7 418.6h0.9v0.9h-0.9zM97.5 412.8h0.9v0.9h-0.9zM99.0 419.2h0.9v0.9h-0.9zM98.4 421.2h0.9v0.9h-0.9zM94.7 427.6h0.9v0.9h-0.9zM101.3 424.4h0.9v0.9h-0.9zM95.9 411.1h0.9v0.9h-0.9zM99.7 420.0h0.9v0.9h-0.9zM102.2 430.3h0.9v0.9h-0.9zM96.9 412.7h0.9v0.9h-0.9zM102.5 419.6h0.9v0.9h-0.9zM103.7 424.1h0.9v0.9h-0.9zM104.0 409.3h0.9v0.9h-0.9zM100.4 425.5h0.9v0.9h-0.9zM104.1 407.0h0.9v0.9h-0.9zM97.4 408.2h0.9v0.9h-0.9zM98.2 422.7h0.9v0.9h-0.9zM97.1 425.1h0.9v0.9h-0.9zM104.4 429.0h0.9v0.9h-0.9zM100.1 428.9h0.9v0.9h-0.9zM97.9 410.1h0.9v0.9h-0.9zM105.8 408.3h0.9v0.9h-0.9zM98.5 417.7h0.9v0.9h-0.9zM97.1 423.8h0.9v0.9h-0.9zM106.5 428.7h0.9v0.9h-0.9zM107.1 414.4h0.9v0.9h-0.9zM95.1 413.9h0.9v0.9h-0.9zM99.8 423.1h0.9v0.9h-0.9zM100.7 426.5h0.9v0.9h-0.9zM96.0 410.7h0.9v0.9h-0.9zM107.8 424.2h0.9v0.9h-0.9zM101.8 427.3h0.9v0.9h-0.9zM100.8 417.7h0.9v0.9h-0.9zM107.8 419.6h0.9v0.9h-0.9zM109.1 425.0h0.9v0.9h-0.9zM98.0 418.6h0.9v0.9h-0.9zM109.2 414.5h0.9v0.9h-0.9zM107.2 431.7h0.9v0.9h-0.9zM100.3 413.9h0.9v0.9h-0.9zM108.4 413.0h0.9v0.9h-0.9zM104.3 420.7h0.9v0.9h-0.9zM105.9 408.8h0.9v0.9h-0.9zM107.0 415.9h0.9v0.9h-0.9zM100.0 426.8h0.9v0.9h-0.9zM108.5 417.8h0.9v0.9h-0.9zM101.0 415.3h0.9v0.9h-0.9zM97.6 416.2h0.9v0.9h-0.9zM95.3 418.9h0.9v0.9h-0.9zM96.1 427.4h0.9v0.9h-0.9zM103.3 411.0h0.9v0.9h-0.9zM102.5 432.1h0.9v0.9h-0.9zM96.0 422.9h0.9v0.9h-0.9zM109.1 419.4h0.9v0.9h-0.9zM103.2 425.8h0.9v0.9h-0.9zM97.2 427.1h0.9v0.9h-0.9zM108.5 427.0h0.9v0.9h-0.9zM100.8 428.3h0.9v0.9h-0.9zM101.8 416.1h0.9v0.9h-0.9zM108.3 410.6h0.9v0.9h-0.9zM100.0 416.2h0.9v0.9h-0.9zM101.1 409.3h0.9v0.9h-0.9zM109.2 416.1h0.9v0.9h-0.9zM102.0 414.3h0.9v0.9h-0.9zM98.6 423.8h0.9v0.9h-0.9zM105.5 415.1h0.9v0.9h-0.9zM95.6 429.1h0.9v0.9h-0.9zM98.1 419.6h0.9v0.9h-0.9zM102.8 419.2h0.9v0.9h-0.9zM99.7 406.4h0.9v0.9h-0.9zM95.9 431.5h0.9v0.9h-0.9zM101.5 411.1h0.9v0.9h-0.9zM107.6 424.6h0.9v0.9h-0.9zM102.2 406.4h0.9v0.9h-0.9zM105.4 412.8h0.9v0.9h-0.9zM104.6 408.0h0.9v0.9h-0.9zM107.4 422.1h0.9v0.9h-0.9zM102.1 413.7h0.9v0.9h-0.9zM104.3 427.8h0.9v0.9h-0.9zM107.1 418.3h0.9v0.9h-0.9zM93.0 425.6h0.9v0.9h-0.9zM101.5 425.4h0.9v0.9h-0.9zM106.5 413.6h0.9v0.9h-0.9zM106.7 427.8h0.9v0.9h-0.9zM108.7 419.0h0.9v0.9h-0.9zM102.2 410.3h0.9v0.9h-0.9zM100.6 408.6h0.9v0.9h-0.9zM106.9 414.8h0.9v0.9h-0.9zM106.0 431.6h0.9v0.9h-0.9zM100.9 425.8h0.9v0.9h-0.9zM107.0 411.1h0.9v0.9h-0.9zM96.1 409.8h0.9v0.9h-0.9zM96.4 429.3h0.9v0.9h-0.9zM97.0 417.2h0.9v0.9h-0.9zM101.7 404.4h0.9v0.9h-0.9zM101.1 423.3h0.9v0.9h-0.9zM99.9 427.5h0.9v0.9h-0.9zM94.2 430.2h0.9v0.9h-0.9zM100.1 429.1h0.9v0.9h-0.9z" fill="#d84040" opacity="0.5"/>
<path d="M105.2 423.4h0.9v0.9h-0.9zM107.0 423.3h0.9v0.9h-0.9zM99.9 423.0h0.9v0.9h-0.9zM102.0 427.4h0.9v0.9h-0.9zM102.7 428.4h0.9v0.9h-0.9zM102.8 427.8h0.9v0.9h-0.9zM100.0 425.7h0.9v0.9h-0.9zM99.3 427.3h0.9v0.9h-0.9zM103.1 424.3h0.9v0.9h-0.9zM105.9 420.0h0.9v0.9h-0.9zM106.5 423.7h0.9v0.9h-0.9zM100.3 422.5h0.9v0.9h-0.9zM101.1 424.3h0.9v0.9h-0.9zM99.6 427.1h0.9v0.9h-0.9zM103.4 422.6h0.9v0.9h-0.9zM104.9 423.4h0.9v0.9h-0.9zM102.7 429.5h0.9v0.9h-0.9zM107.9 424.6h0.9v0.9h-0.9zM102.7 425.1h0.9v0.9h-0.9zM106.4 428.3h0.9v0.9h-0.9zM99.3 424.8h0.9v0.9h-0.9zM99.2 424.3h0.9v0.9h-0.9zM102.6 423.0h0.9v0.9h-0.9zM107.5 422.3h0.9v0.9h-0.9zM103.2 422.0h0.9v0.9h-0.9zM102.8 427.2h0.9v0.9h-0.9zM99.1 425.6h0.9v0.9h-0.9zM107.6 425.9h0.9v0.9h-0.9zM98.3 421.8h0.9v0.9h-0.9zM103.6 424.5h0.9v0.9h-0.9zM99.6 425.2h0.9v0.9h-0.9zM100.6 423.9h0.9v0.9h-0.9zM104.3 423.2h0.9v0.9h-0.9zM106.2 423.8h0.9v0.9h-0.9zM102.1 421.5h0.9v0.9h-0.9zM103.1 421.7h0.9v0.9h-0.9zM98.7 426.0h0.9v0.9h-0.9zM100.3 421.1h0.9v0.9h-0.9zM100.5 428.6h0.9v0.9h-0.9zM99.5 421.4h0.9v0.9h-0.9zM106.8 425.1h0.9v0.9h-0.9zM100.5 427.6h0.9v0.9h-0.9zM99.3 427.3h0.9v0.9h-0.9zM103.6 426.8h0.9v0.9h-0.9zM102.6 427.1h0.9v0.9h-0.9zM99.5 425.8h0.9v0.9h-0.9zM98.2 426.0h0.9v0.9h-0.9zM106.2 428.2h0.9v0.9h-0.9zM104.7 429.4h0.9v0.9h-0.9zM104.5 427.6h0.9v0.9h-0.9zM101.3 421.7h0.9v0.9h-0.9zM105.7 424.8h0.9v0.9h-0.9zM106.1 428.0h0.9v0.9h-0.9zM101.6 425.5h0.9v0.9h-0.9zM102.0 424.9h0.9v0.9h-0.9zM104.3 426.4h0.9v0.9h-0.9zM105.8 426.1h0.9v0.9h-0.9zM99.6 423.4h0.9v0.9h-0.9zM105.2 428.2h0.9v0.9h-0.9zM105.1 421.5h0.9v0.9h-0.9z" fill="#c81820" opacity="0.7"/>
<path d="M127.5 424.1h0.9v0.9h-0.9zM113.4 427.3h0.9v0.9h-0.9zM127.4 418.3h0.9v0.9h-0.9zM120.2 413.4h0.9v0.9h-0.9zM125.1 423.3h0.9v0.9h-0.9zM123.8 429.9h0.9v0.9h-0.9zM130.0 430.0h0.9v0.9h-0.9zM127.4 426.3h0.9v0.9h-0.9zM118.5 419.3h0.9v0.9h-0.9zM129.4 420.6h0.9v0.9h-0.9zM126.2 418.1h0.9v0.9h-0.9zM128.5 419.9h0.9v0.9h-0.9zM127.5 426.4h0.9v0.9h-0.9zM128.0 430.2h0.9v0.9h-0.9zM127.4 420.5h0.9v0.9h-0.9zM116.0 427.6h0.9v0.9h-0.9zM124.2 427.6h0.9v0.9h-0.9zM118.8 427.1h0.9v0.9h-0.9zM120.3 422.9h0.9v0.9h-0.9zM126.9 419.5h0.9v0.9h-0.9zM130.0 423.0h0.9v0.9h-0.9zM123.5 418.6h0.9v0.9h-0.9zM116.7 422.5h0.9v0.9h-0.9zM125.3 425.7h0.9v0.9h-0.9zM124.7 432.4h0.9v0.9h-0.9zM116.5 428.8h0.9v0.9h-0.9zM113.0 431.3h0.9v0.9h-0.9zM117.2 423.3h0.9v0.9h-0.9zM113.2 419.1h0.9v0.9h-0.9zM127.8 425.1h0.9v0.9h-0.9zM116.2 414.9h0.9v0.9h-0.9zM121.3 428.5h0.9v0.9h-0.9zM125.2 427.6h0.9v0.9h-0.9zM115.6 428.7h0.9v0.9h-0.9zM125.7 416.7h0.9v0.9h-0.9zM114.2 429.0h0.9v0.9h-0.9zM120.5 424.0h0.9v0.9h-0.9zM125.8 420.1h0.9v0.9h-0.9zM114.4 427.4h0.9v0.9h-0.9zM118.5 426.4h0.9v0.9h-0.9zM114.1 427.0h0.9v0.9h-0.9zM126.1 418.9h0.9v0.9h-0.9zM125.8 428.6h0.9v0.9h-0.9zM122.8 427.7h0.9v0.9h-0.9zM125.1 417.7h0.9v0.9h-0.9zM122.3 429.8h0.9v0.9h-0.9zM119.2 417.0h0.9v0.9h-0.9zM122.2 427.6h0.9v0.9h-0.9zM120.8 419.2h0.9v0.9h-0.9zM118.4 430.2h0.9v0.9h-0.9zM124.5 423.6h0.9v0.9h-0.9zM117.1 416.6h0.9v0.9h-0.9zM120.6 415.5h0.9v0.9h-0.9zM115.1 432.8h0.9v0.9h-0.9zM130.1 419.4h0.9v0.9h-0.9zM125.2 425.7h0.9v0.9h-0.9zM122.6 422.9h0.9v0.9h-0.9zM118.4 425.0h0.9v0.9h-0.9zM123.2 415.5h0.9v0.9h-0.9zM113.0 422.7h0.9v0.9h-0.9zM117.3 416.8h0.9v0.9h-0.9zM112.5 425.8h0.9v0.9h-0.9zM127.4 420.7h0.9v0.9h-0.9zM121.0 419.6h0.9v0.9h-0.9zM126.8 425.8h0.9v0.9h-0.9zM117.3 432.7h0.9v0.9h-0.9zM116.4 428.3h0.9v0.9h-0.9zM123.5 431.2h0.9v0.9h-0.9zM115.8 422.9h0.9v0.9h-0.9zM123.9 420.7h0.9v0.9h-0.9zM119.0 418.4h0.9v0.9h-0.9zM118.1 419.3h0.9v0.9h-0.9zM121.6 416.8h0.9v0.9h-0.9zM113.3 422.3h0.9v0.9h-0.9zM119.8 428.3h0.9v0.9h-0.9zM114.0 422.4h0.9v0.9h-0.9zM122.1 424.4h0.9v0.9h-0.9zM117.5 426.6h0.9v0.9h-0.9zM125.5 429.8h0.9v0.9h-0.9zM112.8 427.7h0.9v0.9h-0.9zM114.9 417.1h0.9v0.9h-0.9zM122.0 426.6h0.9v0.9h-0.9zM114.8 423.5h0.9v0.9h-0.9zM114.3 431.8h0.9v0.9h-0.9zM115.6 423.0h0.9v0.9h-0.9zM122.4 429.5h0.9v0.9h-0.9zM128.7 425.7h0.9v0.9h-0.9zM117.0 421.8h0.9v0.9h-0.9zM120.7 415.2h0.9v0.9h-0.9zM127.5 430.9h0.9v0.9h-0.9z" fill="#d07070" opacity="0.5"/>
</g>
<polygon points="179.5,430 179.5,404 186,403 193,407 192,428" fill="#fcf0f0" opacity="0.6" filter="url(#bl2)"/>
<g filter="url(#bl)">
<path d="M181.0 408.9h0.9v0.9h-0.9zM179.0 414.5h0.9v0.9h-0.9zM189.6 405.8h0.9v0.9h-0.9zM184.4 418.5h0.9v0.9h-0.9zM184.2 420.3h0.9v0.9h-0.9zM180.0 428.8h0.9v0.9h-0.9zM193.3 418.6h0.9v0.9h-0.9zM179.1 421.8h0.9v0.9h-0.9zM192.2 409.2h0.9v0.9h-0.9zM188.7 421.0h0.9v0.9h-0.9zM188.0 420.5h0.9v0.9h-0.9zM191.0 427.4h0.9v0.9h-0.9zM184.6 415.1h0.9v0.9h-0.9zM183.2 425.8h0.9v0.9h-0.9zM185.5 420.0h0.9v0.9h-0.9zM188.7 424.0h0.9v0.9h-0.9zM182.9 427.0h0.9v0.9h-0.9zM186.0 418.9h0.9v0.9h-0.9zM184.8 404.3h0.9v0.9h-0.9zM190.8 404.9h0.9v0.9h-0.9zM189.4 408.2h0.9v0.9h-0.9zM181.4 420.0h0.9v0.9h-0.9zM188.7 421.6h0.9v0.9h-0.9zM182.2 417.5h0.9v0.9h-0.9zM186.5 424.2h0.9v0.9h-0.9zM185.9 408.7h0.9v0.9h-0.9zM184.8 429.9h0.9v0.9h-0.9zM182.4 415.7h0.9v0.9h-0.9zM189.9 419.3h0.9v0.9h-0.9zM190.0 422.4h0.9v0.9h-0.9zM184.8 415.8h0.9v0.9h-0.9zM188.8 412.3h0.9v0.9h-0.9zM180.7 414.2h0.9v0.9h-0.9zM180.4 407.2h0.9v0.9h-0.9zM187.6 412.4h0.9v0.9h-0.9zM182.3 405.9h0.9v0.9h-0.9zM183.3 417.5h0.9v0.9h-0.9zM185.2 419.7h0.9v0.9h-0.9zM186.0 426.4h0.9v0.9h-0.9zM182.6 423.4h0.9v0.9h-0.9zM180.2 406.3h0.9v0.9h-0.9zM182.3 421.2h0.9v0.9h-0.9zM189.9 411.5h0.9v0.9h-0.9zM186.1 424.9h0.9v0.9h-0.9zM186.4 428.5h0.9v0.9h-0.9zM179.7 412.9h0.9v0.9h-0.9zM187.1 422.4h0.9v0.9h-0.9zM186.3 417.3h0.9v0.9h-0.9zM188.7 420.5h0.9v0.9h-0.9zM181.3 417.7h0.9v0.9h-0.9zM186.7 414.2h0.9v0.9h-0.9zM180.5 427.4h0.9v0.9h-0.9zM181.7 405.6h0.9v0.9h-0.9zM183.0 413.1h0.9v0.9h-0.9zM184.2 420.7h0.9v0.9h-0.9zM191.6 413.0h0.9v0.9h-0.9zM182.3 427.4h0.9v0.9h-0.9zM181.5 419.5h0.9v0.9h-0.9zM181.2 418.8h0.9v0.9h-0.9zM184.1 421.7h0.9v0.9h-0.9zM189.7 421.2h0.9v0.9h-0.9zM187.2 423.9h0.9v0.9h-0.9zM185.8 427.9h0.9v0.9h-0.9zM183.3 409.1h0.9v0.9h-0.9zM186.8 425.2h0.9v0.9h-0.9zM186.3 425.7h0.9v0.9h-0.9zM187.3 420.1h0.9v0.9h-0.9zM186.8 427.9h0.9v0.9h-0.9zM188.7 411.5h0.9v0.9h-0.9zM186.4 414.5h0.9v0.9h-0.9zM183.7 426.9h0.9v0.9h-0.9zM188.6 419.7h0.9v0.9h-0.9zM184.3 408.0h0.9v0.9h-0.9zM186.8 426.3h0.9v0.9h-0.9zM183.7 412.2h0.9v0.9h-0.9zM193.5 412.0h0.9v0.9h-0.9zM185.5 422.1h0.9v0.9h-0.9zM181.2 414.1h0.9v0.9h-0.9zM189.6 412.8h0.9v0.9h-0.9zM182.7 413.8h0.9v0.9h-0.9zM188.2 427.7h0.9v0.9h-0.9zM183.2 403.6h0.9v0.9h-0.9zM190.7 410.4h0.9v0.9h-0.9zM181.8 423.6h0.9v0.9h-0.9zM188.8 422.8h0.9v0.9h-0.9zM194.5 413.9h0.9v0.9h-0.9zM187.1 408.8h0.9v0.9h-0.9zM185.7 425.2h0.9v0.9h-0.9zM182.5 408.1h0.9v0.9h-0.9zM181.6 405.5h0.9v0.9h-0.9z" fill="#e09090" opacity="0.4"/>
<path d="M180.9 427.9h0.9v0.9h-0.9zM182.5 425.9h0.9v0.9h-0.9zM186.6 420.6h0.9v0.9h-0.9zM182.1 414.9h0.9v0.9h-0.9zM187.2 424.9h0.9v0.9h-0.9zM182.7 418.2h0.9v0.9h-0.9zM182.9 416.3h0.9v0.9h-0.9zM183.6 428.9h0.9v0.9h-0.9zM183.0 421.7h0.9v0.9h-0.9zM187.5 423.7h0.9v0.9h-0.9zM183.1 422.9h0.9v0.9h-0.9zM184.7 416.5h0.9v0.9h-0.9zM189.0 418.0h0.9v0.9h-0.9zM188.2 423.6h0.9v0.9h-0.9zM183.4 420.4h0.9v0.9h-0.9zM189.4 427.3h0.9v0.9h-0.9zM179.9 417.7h0.9v0.9h-0.9zM186.7 412.9h0.9v0.9h-0.9zM183.0 424.1h0.9v0.9h-0.9zM182.4 419.9h0.9v0.9h-0.9zM181.5 418.0h0.9v0.9h-0.9zM182.5 427.7h0.9v0.9h-0.9zM189.9 423.4h0.9v0.9h-0.9zM181.2 420.5h0.9v0.9h-0.9zM189.5 423.5h0.9v0.9h-0.9zM190.6 418.7h0.9v0.9h-0.9zM182.1 422.6h0.9v0.9h-0.9zM181.2 421.9h0.9v0.9h-0.9zM184.2 419.6h0.9v0.9h-0.9zM184.5 415.0h0.9v0.9h-0.9zM182.2 419.1h0.9v0.9h-0.9zM185.4 424.9h0.9v0.9h-0.9zM185.3 415.4h0.9v0.9h-0.9zM184.5 424.7h0.9v0.9h-0.9zM187.5 415.9h0.9v0.9h-0.9zM182.5 414.9h0.9v0.9h-0.9zM180.7 427.7h0.9v0.9h-0.9zM189.6 423.8h0.9v0.9h-0.9zM190.8 417.4h0.9v0.9h-0.9zM189.3 421.3h0.9v0.9h-0.9z" fill="#e07878" opacity="0.4"/>
<path d="M213.2 426.5h0.9v0.9h-0.9zM204.4 422.1h0.9v0.9h-0.9zM206.4 417.3h0.9v0.9h-0.9zM212.1 426.7h0.9v0.9h-0.9zM213.5 417.5h0.9v0.9h-0.9zM209.0 413.9h0.9v0.9h-0.9zM206.2 422.3h0.9v0.9h-0.9zM201.0 416.1h0.9v0.9h-0.9zM204.0 429.2h0.9v0.9h-0.9zM199.5 412.8h0.9v0.9h-0.9zM210.8 418.5h0.9v0.9h-0.9zM213.0 416.4h0.9v0.9h-0.9zM207.4 411.6h0.9v0.9h-0.9zM204.6 413.9h0.9v0.9h-0.9zM202.9 420.2h0.9v0.9h-0.9zM202.5 424.4h0.9v0.9h-0.9zM209.6 410.5h0.9v0.9h-0.9zM207.9 421.2h0.9v0.9h-0.9zM202.9 414.3h0.9v0.9h-0.9zM201.0 427.4h0.9v0.9h-0.9zM201.9 423.5h0.9v0.9h-0.9zM197.5 421.2h0.9v0.9h-0.9zM201.2 413.3h0.9v0.9h-0.9zM214.5 413.0h0.9v0.9h-0.9zM202.0 409.9h0.9v0.9h-0.9z" fill="#dcdcdc" opacity="0.45"/>
</g>
<polygon points="250.7,427.5 250.7,406 258,404 264,408 263,426" fill="#fcf0f0" opacity="0.6" filter="url(#bl2)"/>
<polygon points="266.7,432.5 272,426 280,420 288,416 288.5,432.5" fill="#f8dcdc" opacity="0.6" filter="url(#bl2)"/>
<polygon points="271,432 276,427 284,424 286,432" fill="#f0a8a8" opacity="0.6" filter="url(#bl2)"/>
<g filter="url(#bl)">
<path d="M264.7 416.6h0.9v0.9h-0.9zM258.2 413.0h0.9v0.9h-0.9zM262.5 418.2h0.9v0.9h-0.9zM255.1 424.6h0.9v0.9h-0.9zM252.5 417.7h0.9v0.9h-0.9zM260.9 405.5h0.9v0.9h-0.9zM258.1 424.6h0.9v0.9h-0.9zM256.3 420.0h0.9v0.9h-0.9zM255.1 425.0h0.9v0.9h-0.9zM257.9 408.9h0.9v0.9h-0.9zM252.6 414.3h0.9v0.9h-0.9zM253.4 426.5h0.9v0.9h-0.9zM262.0 416.3h0.9v0.9h-0.9zM254.5 413.4h0.9v0.9h-0.9zM257.0 426.6h0.9v0.9h-0.9zM255.7 423.1h0.9v0.9h-0.9zM261.5 426.7h0.9v0.9h-0.9zM263.0 418.5h0.9v0.9h-0.9zM251.4 421.4h0.9v0.9h-0.9zM250.4 417.4h0.9v0.9h-0.9zM255.9 421.1h0.9v0.9h-0.9zM251.0 409.2h0.9v0.9h-0.9zM256.4 405.6h0.9v0.9h-0.9zM258.5 418.2h0.9v0.9h-0.9zM253.1 420.3h0.9v0.9h-0.9zM258.5 413.6h0.9v0.9h-0.9zM254.0 411.3h0.9v0.9h-0.9zM261.6 423.5h0.9v0.9h-0.9zM254.3 416.9h0.9v0.9h-0.9zM258.4 422.4h0.9v0.9h-0.9zM258.7 418.4h0.9v0.9h-0.9zM252.8 426.1h0.9v0.9h-0.9zM255.5 420.0h0.9v0.9h-0.9zM262.4 407.3h0.9v0.9h-0.9zM256.8 424.7h0.9v0.9h-0.9zM261.8 413.3h0.9v0.9h-0.9zM263.0 422.7h0.9v0.9h-0.9zM252.3 425.0h0.9v0.9h-0.9zM259.3 422.3h0.9v0.9h-0.9zM255.6 411.3h0.9v0.9h-0.9zM258.8 422.0h0.9v0.9h-0.9zM251.4 417.9h0.9v0.9h-0.9zM262.4 408.6h0.9v0.9h-0.9zM256.6 407.1h0.9v0.9h-0.9zM261.6 406.8h0.9v0.9h-0.9zM261.5 407.4h0.9v0.9h-0.9zM257.0 419.2h0.9v0.9h-0.9zM262.1 409.2h0.9v0.9h-0.9zM264.3 419.0h0.9v0.9h-0.9zM251.8 424.8h0.9v0.9h-0.9zM253.8 415.8h0.9v0.9h-0.9zM253.9 416.7h0.9v0.9h-0.9zM263.0 416.3h0.9v0.9h-0.9zM253.8 415.8h0.9v0.9h-0.9zM254.0 410.0h0.9v0.9h-0.9zM252.4 421.6h0.9v0.9h-0.9zM255.1 425.2h0.9v0.9h-0.9zM253.6 423.2h0.9v0.9h-0.9zM260.3 416.7h0.9v0.9h-0.9zM251.9 413.8h0.9v0.9h-0.9zM252.6 409.8h0.9v0.9h-0.9zM260.2 426.4h0.9v0.9h-0.9zM252.4 424.2h0.9v0.9h-0.9zM261.4 423.7h0.9v0.9h-0.9zM254.9 422.6h0.9v0.9h-0.9zM263.3 419.1h0.9v0.9h-0.9zM255.4 409.0h0.9v0.9h-0.9zM260.6 426.7h0.9v0.9h-0.9zM257.4 421.2h0.9v0.9h-0.9zM255.1 405.6h0.9v0.9h-0.9zM255.6 410.4h0.9v0.9h-0.9zM256.1 406.5h0.9v0.9h-0.9zM256.9 422.3h0.9v0.9h-0.9zM260.0 406.0h0.9v0.9h-0.9zM255.7 420.0h0.9v0.9h-0.9zM261.1 415.6h0.9v0.9h-0.9zM251.9 411.7h0.9v0.9h-0.9zM252.4 419.4h0.9v0.9h-0.9zM263.3 418.1h0.9v0.9h-0.9zM256.4 414.3h0.9v0.9h-0.9z" fill="#e09090" opacity="0.45"/>
<path d="M270.0 429.9h0.9v0.9h-0.9zM277.8 425.3h0.9v0.9h-0.9zM280.8 432.1h0.9v0.9h-0.9zM281.4 429.1h0.9v0.9h-0.9zM276.6 431.4h0.9v0.9h-0.9zM278.2 424.2h0.9v0.9h-0.9zM271.6 427.3h0.9v0.9h-0.9zM286.6 418.5h0.9v0.9h-0.9zM286.2 428.0h0.9v0.9h-0.9zM278.9 428.3h0.9v0.9h-0.9zM275.9 431.8h0.9v0.9h-0.9zM281.1 432.0h0.9v0.9h-0.9zM273.3 428.3h0.9v0.9h-0.9zM287.7 429.9h0.9v0.9h-0.9zM274.1 429.4h0.9v0.9h-0.9zM286.5 430.0h0.9v0.9h-0.9zM284.8 424.0h0.9v0.9h-0.9zM278.4 423.7h0.9v0.9h-0.9zM280.1 423.3h0.9v0.9h-0.9zM269.1 428.5h0.9v0.9h-0.9zM280.5 418.5h0.9v0.9h-0.9zM287.1 425.0h0.9v0.9h-0.9zM280.2 424.0h0.9v0.9h-0.9zM284.5 426.2h0.9v0.9h-0.9zM279.5 421.6h0.9v0.9h-0.9zM280.7 420.8h0.9v0.9h-0.9zM270.9 428.7h0.9v0.9h-0.9zM287.8 419.2h0.9v0.9h-0.9zM270.7 429.5h0.9v0.9h-0.9zM278.9 422.2h0.9v0.9h-0.9zM286.9 418.4h0.9v0.9h-0.9zM283.1 424.6h0.9v0.9h-0.9zM288.4 431.2h0.9v0.9h-0.9zM282.2 422.5h0.9v0.9h-0.9zM282.2 427.8h0.9v0.9h-0.9zM284.5 430.8h0.9v0.9h-0.9zM283.6 426.4h0.9v0.9h-0.9zM279.2 424.4h0.9v0.9h-0.9zM286.6 431.3h0.9v0.9h-0.9zM274.8 429.3h0.9v0.9h-0.9zM283.1 420.7h0.9v0.9h-0.9zM287.2 432.7h0.9v0.9h-0.9zM278.3 421.4h0.9v0.9h-0.9zM272.7 432.5h0.9v0.9h-0.9zM273.1 429.6h0.9v0.9h-0.9zM283.0 426.8h0.9v0.9h-0.9zM282.2 431.0h0.9v0.9h-0.9zM279.6 422.8h0.9v0.9h-0.9zM283.1 420.9h0.9v0.9h-0.9zM282.4 426.9h0.9v0.9h-0.9zM272.4 426.9h0.9v0.9h-0.9zM278.6 422.1h0.9v0.9h-0.9zM283.3 421.8h0.9v0.9h-0.9zM279.0 428.7h0.9v0.9h-0.9zM279.7 426.0h0.9v0.9h-0.9zM276.4 424.2h0.9v0.9h-0.9zM281.2 426.4h0.9v0.9h-0.9zM274.7 424.0h0.9v0.9h-0.9zM289.2 420.1h0.9v0.9h-0.9zM284.7 420.3h0.9v0.9h-0.9zM276.1 430.7h0.9v0.9h-0.9zM279.3 420.8h0.9v0.9h-0.9zM277.3 429.8h0.9v0.9h-0.9zM286.2 419.0h0.9v0.9h-0.9zM273.2 428.9h0.9v0.9h-0.9zM278.4 425.5h0.9v0.9h-0.9zM287.3 426.3h0.9v0.9h-0.9zM287.3 429.1h0.9v0.9h-0.9zM277.4 426.7h0.9v0.9h-0.9zM280.3 422.9h0.9v0.9h-0.9zM283.6 419.4h0.9v0.9h-0.9zM280.5 421.5h0.9v0.9h-0.9zM278.7 430.8h0.9v0.9h-0.9zM285.7 421.0h0.9v0.9h-0.9zM283.6 431.9h0.9v0.9h-0.9zM280.9 428.6h0.9v0.9h-0.9zM284.7 428.3h0.9v0.9h-0.9zM275.2 428.6h0.9v0.9h-0.9zM278.1 429.0h0.9v0.9h-0.9zM283.5 420.4h0.9v0.9h-0.9zM285.1 418.8h0.9v0.9h-0.9zM288.2 428.0h0.9v0.9h-0.9zM283.3 427.8h0.9v0.9h-0.9zM288.1 430.1h0.9v0.9h-0.9zM280.6 428.0h0.9v0.9h-0.9zM281.9 423.9h0.9v0.9h-0.9zM273.6 428.4h0.9v0.9h-0.9zM287.0 425.8h0.9v0.9h-0.9zM281.5 432.5h0.9v0.9h-0.9zM275.2 429.7h0.9v0.9h-0.9zM271.6 434.0h0.9v0.9h-0.9zM271.0 429.1h0.9v0.9h-0.9zM279.2 426.1h0.9v0.9h-0.9zM269.6 430.9h0.9v0.9h-0.9zM278.4 422.6h0.9v0.9h-0.9zM281.8 429.5h0.9v0.9h-0.9zM280.6 429.7h0.9v0.9h-0.9zM285.4 428.2h0.9v0.9h-0.9zM272.0 427.7h0.9v0.9h-0.9zM272.3 428.7h0.9v0.9h-0.9zM286.3 420.8h0.9v0.9h-0.9zM276.8 428.0h0.9v0.9h-0.9zM279.6 427.2h0.9v0.9h-0.9zM278.8 425.3h0.9v0.9h-0.9zM286.1 431.0h0.9v0.9h-0.9zM275.9 431.1h0.9v0.9h-0.9zM285.1 420.3h0.9v0.9h-0.9zM286.9 431.8h0.9v0.9h-0.9zM276.9 427.4h0.9v0.9h-0.9zM283.2 430.2h0.9v0.9h-0.9zM273.1 432.1h0.9v0.9h-0.9zM284.3 432.8h0.9v0.9h-0.9zM278.9 426.0h0.9v0.9h-0.9zM278.2 422.5h0.9v0.9h-0.9zM281.2 426.9h0.9v0.9h-0.9zM287.6 428.3h0.9v0.9h-0.9zM270.8 425.4h0.9v0.9h-0.9zM277.3 423.4h0.9v0.9h-0.9zM269.8 430.3h0.9v0.9h-0.9zM277.5 426.1h0.9v0.9h-0.9zM279.8 422.7h0.9v0.9h-0.9zM275.4 424.0h0.9v0.9h-0.9zM271.8 430.6h0.9v0.9h-0.9zM286.8 429.4h0.9v0.9h-0.9zM280.8 427.7h0.9v0.9h-0.9zM287.6 425.1h0.9v0.9h-0.9zM279.7 430.8h0.9v0.9h-0.9zM282.4 429.4h0.9v0.9h-0.9zM282.0 418.0h0.9v0.9h-0.9zM275.6 427.4h0.9v0.9h-0.9zM273.3 429.2h0.9v0.9h-0.9zM287.3 432.7h0.9v0.9h-0.9zM283.8 432.5h0.9v0.9h-0.9zM277.6 424.7h0.9v0.9h-0.9zM280.0 432.5h0.9v0.9h-0.9zM282.7 430.4h0.9v0.9h-0.9zM278.3 426.0h0.9v0.9h-0.9zM276.9 429.8h0.9v0.9h-0.9zM275.6 426.8h0.9v0.9h-0.9zM288.0 428.4h0.9v0.9h-0.9zM286.1 426.3h0.9v0.9h-0.9zM281.4 420.8h0.9v0.9h-0.9zM277.4 423.8h0.9v0.9h-0.9zM275.2 428.0h0.9v0.9h-0.9zM272.9 427.5h0.9v0.9h-0.9zM283.5 433.9h0.9v0.9h-0.9zM274.5 431.8h0.9v0.9h-0.9zM283.2 417.3h0.9v0.9h-0.9zM288.3 421.6h0.9v0.9h-0.9zM271.9 432.2h0.9v0.9h-0.9zM283.0 432.3h0.9v0.9h-0.9zM278.3 426.2h0.9v0.9h-0.9zM279.4 425.9h0.9v0.9h-0.9zM287.3 424.0h0.9v0.9h-0.9zM282.7 430.0h0.9v0.9h-0.9zM281.8 430.5h0.9v0.9h-0.9zM286.1 431.3h0.9v0.9h-0.9zM278.7 426.9h0.9v0.9h-0.9zM285.0 418.0h0.9v0.9h-0.9zM281.7 430.4h0.9v0.9h-0.9zM276.5 422.5h0.9v0.9h-0.9zM289.1 419.6h0.9v0.9h-0.9zM270.1 429.8h0.9v0.9h-0.9zM288.3 422.2h0.9v0.9h-0.9zM277.5 421.0h0.9v0.9h-0.9zM283.6 419.9h0.9v0.9h-0.9zM285.7 425.7h0.9v0.9h-0.9zM271.5 427.2h0.9v0.9h-0.9zM282.8 430.9h0.9v0.9h-0.9zM271.0 433.3h0.9v0.9h-0.9z" fill="#e07070" opacity="0.5"/>
<path d="M283.8 431.1h0.9v0.9h-0.9zM283.8 432.6h0.9v0.9h-0.9zM283.4 423.6h0.9v0.9h-0.9zM281.3 430.2h0.9v0.9h-0.9zM275.5 429.0h0.9v0.9h-0.9zM287.0 433.0h0.9v0.9h-0.9zM281.8 429.8h0.9v0.9h-0.9zM276.6 430.0h0.9v0.9h-0.9zM277.4 429.2h0.9v0.9h-0.9zM277.7 431.4h0.9v0.9h-0.9zM282.5 427.7h0.9v0.9h-0.9zM282.3 430.3h0.9v0.9h-0.9zM277.9 429.3h0.9v0.9h-0.9zM279.7 428.0h0.9v0.9h-0.9zM278.3 426.1h0.9v0.9h-0.9zM284.5 429.1h0.9v0.9h-0.9zM282.9 424.0h0.9v0.9h-0.9zM279.7 428.3h0.9v0.9h-0.9zM284.7 424.4h0.9v0.9h-0.9zM285.1 430.5h0.9v0.9h-0.9zM277.2 427.4h0.9v0.9h-0.9zM279.8 425.2h0.9v0.9h-0.9zM282.4 425.4h0.9v0.9h-0.9zM276.4 427.5h0.9v0.9h-0.9zM284.2 429.7h0.9v0.9h-0.9zM278.8 427.6h0.9v0.9h-0.9zM274.8 431.5h0.9v0.9h-0.9zM280.7 430.8h0.9v0.9h-0.9zM284.4 426.4h0.9v0.9h-0.9zM283.5 423.3h0.9v0.9h-0.9zM274.1 430.0h0.9v0.9h-0.9zM284.4 430.6h0.9v0.9h-0.9zM274.7 427.4h0.9v0.9h-0.9zM282.4 427.4h0.9v0.9h-0.9zM282.7 425.9h0.9v0.9h-0.9zM273.2 431.5h0.9v0.9h-0.9zM281.1 426.5h0.9v0.9h-0.9zM277.2 429.9h0.9v0.9h-0.9zM277.1 429.6h0.9v0.9h-0.9zM276.4 432.3h0.9v0.9h-0.9zM283.4 431.7h0.9v0.9h-0.9zM280.5 431.4h0.9v0.9h-0.9zM273.7 433.1h0.9v0.9h-0.9zM278.0 430.8h0.9v0.9h-0.9zM281.5 425.9h0.9v0.9h-0.9zM283.0 424.1h0.9v0.9h-0.9zM281.3 428.6h0.9v0.9h-0.9zM284.4 427.5h0.9v0.9h-0.9zM280.5 425.6h0.9v0.9h-0.9zM275.2 430.8h0.9v0.9h-0.9zM275.1 429.5h0.9v0.9h-0.9zM277.4 429.8h0.9v0.9h-0.9zM282.9 432.4h0.9v0.9h-0.9zM285.9 428.9h0.9v0.9h-0.9zM279.3 428.6h0.9v0.9h-0.9zM278.6 432.9h0.9v0.9h-0.9zM276.4 427.6h0.9v0.9h-0.9zM273.8 429.6h0.9v0.9h-0.9zM278.1 430.0h0.9v0.9h-0.9zM281.1 425.9h0.9v0.9h-0.9zM285.6 431.4h0.9v0.9h-0.9zM282.5 427.8h0.9v0.9h-0.9zM284.0 428.9h0.9v0.9h-0.9zM284.3 431.2h0.9v0.9h-0.9zM278.8 428.5h0.9v0.9h-0.9zM273.2 431.3h0.9v0.9h-0.9zM277.7 429.8h0.9v0.9h-0.9zM283.7 431.2h0.9v0.9h-0.9zM284.8 424.5h0.9v0.9h-0.9zM276.9 428.3h0.9v0.9h-0.9z" fill="#d85050" opacity="0.5"/>
</g>
<polygon points="24.5,511 24.5,494 30,486 36,481 40.5,482 41,492 38,511" fill="#f8d8d8" opacity="0.5" filter="url(#bl2)"/>
<polygon points="25.5,509 37,509 39,497 40,485.5 36,484.5 31,489 27,496" fill="#e41414" opacity="0.95" filter="url(#bl2)"/>
<g filter="url(#bl)">
<path d="M37.6 505.6h0.9v0.9h-0.9zM25.5 509.9h0.9v0.9h-0.9zM31.9 508.7h0.9v0.9h-0.9zM30.4 495.4h0.9v0.9h-0.9zM33.6 488.6h0.9v0.9h-0.9zM34.2 506.9h0.9v0.9h-0.9zM31.9 493.7h0.9v0.9h-0.9zM38.0 489.5h0.9v0.9h-0.9zM30.1 505.2h0.9v0.9h-0.9zM37.7 494.4h0.9v0.9h-0.9zM25.6 507.9h0.9v0.9h-0.9zM30.3 508.8h0.9v0.9h-0.9zM35.9 488.8h0.9v0.9h-0.9zM35.2 494.9h0.9v0.9h-0.9zM26.4 501.7h0.9v0.9h-0.9zM37.5 487.0h0.9v0.9h-0.9zM31.6 501.2h0.9v0.9h-0.9zM37.0 484.6h0.9v0.9h-0.9zM30.0 498.2h0.9v0.9h-0.9zM29.7 492.7h0.9v0.9h-0.9zM34.5 507.9h0.9v0.9h-0.9zM37.7 485.3h0.9v0.9h-0.9zM38.8 505.5h0.9v0.9h-0.9zM29.2 494.3h0.9v0.9h-0.9zM37.9 490.2h0.9v0.9h-0.9zM30.2 509.8h0.9v0.9h-0.9zM33.7 499.9h0.9v0.9h-0.9zM36.6 492.0h0.9v0.9h-0.9zM32.3 501.8h0.9v0.9h-0.9zM35.1 506.8h0.9v0.9h-0.9zM31.9 502.8h0.9v0.9h-0.9zM32.5 503.2h0.9v0.9h-0.9zM28.3 505.5h0.9v0.9h-0.9zM34.8 489.8h0.9v0.9h-0.9zM24.9 496.1h0.9v0.9h-0.9zM25.4 496.9h0.9v0.9h-0.9zM35.9 496.2h0.9v0.9h-0.9zM35.5 487.6h0.9v0.9h-0.9zM25.5 510.2h0.9v0.9h-0.9zM29.2 494.1h0.9v0.9h-0.9zM37.9 488.3h0.9v0.9h-0.9zM27.7 501.8h0.9v0.9h-0.9zM31.2 489.7h0.9v0.9h-0.9zM27.8 501.8h0.9v0.9h-0.9zM39.4 492.0h0.9v0.9h-0.9zM30.8 498.9h0.9v0.9h-0.9zM29.3 499.6h0.9v0.9h-0.9zM38.5 492.1h0.9v0.9h-0.9zM37.3 496.0h0.9v0.9h-0.9zM37.9 496.5h0.9v0.9h-0.9zM31.4 505.2h0.9v0.9h-0.9zM28.7 487.4h0.9v0.9h-0.9zM27.0 509.8h0.9v0.9h-0.9zM31.1 503.9h0.9v0.9h-0.9zM27.4 495.5h0.9v0.9h-0.9zM39.9 483.4h0.9v0.9h-0.9zM32.0 504.4h0.9v0.9h-0.9zM29.9 494.2h0.9v0.9h-0.9zM38.5 490.3h0.9v0.9h-0.9zM30.6 510.0h0.9v0.9h-0.9zM35.2 497.9h0.9v0.9h-0.9zM29.6 507.4h0.9v0.9h-0.9zM32.3 495.3h0.9v0.9h-0.9zM31.6 489.0h0.9v0.9h-0.9zM31.1 503.7h0.9v0.9h-0.9zM26.9 499.9h0.9v0.9h-0.9zM39.4 488.3h0.9v0.9h-0.9zM26.6 508.8h0.9v0.9h-0.9zM32.9 486.6h0.9v0.9h-0.9zM34.4 495.8h0.9v0.9h-0.9zM26.3 506.8h0.9v0.9h-0.9zM34.2 488.8h0.9v0.9h-0.9zM25.0 498.6h0.9v0.9h-0.9zM38.2 498.5h0.9v0.9h-0.9zM38.7 492.2h0.9v0.9h-0.9zM25.7 501.4h0.9v0.9h-0.9zM35.5 481.8h0.9v0.9h-0.9zM28.8 487.8h0.9v0.9h-0.9zM28.9 489.0h0.9v0.9h-0.9zM30.2 494.5h0.9v0.9h-0.9zM37.1 509.2h0.9v0.9h-0.9zM35.8 505.8h0.9v0.9h-0.9zM27.2 493.3h0.9v0.9h-0.9zM35.2 496.2h0.9v0.9h-0.9zM34.8 510.1h0.9v0.9h-0.9zM33.4 485.5h0.9v0.9h-0.9zM24.9 507.3h0.9v0.9h-0.9zM31.1 495.3h0.9v0.9h-0.9zM38.8 487.5h0.9v0.9h-0.9zM27.8 510.0h0.9v0.9h-0.9zM31.1 505.6h0.9v0.9h-0.9zM36.2 487.4h0.9v0.9h-0.9zM33.5 508.0h0.9v0.9h-0.9zM28.4 495.1h0.9v0.9h-0.9zM37.9 490.9h0.9v0.9h-0.9zM32.6 511.6h0.9v0.9h-0.9zM37.8 499.2h0.9v0.9h-0.9zM27.4 497.0h0.9v0.9h-0.9zM33.0 494.2h0.9v0.9h-0.9zM28.0 508.7h0.9v0.9h-0.9zM35.0 499.0h0.9v0.9h-0.9zM39.7 484.5h0.9v0.9h-0.9zM36.1 509.4h0.9v0.9h-0.9zM28.4 495.7h0.9v0.9h-0.9zM33.1 507.5h0.9v0.9h-0.9zM32.3 508.5h0.9v0.9h-0.9zM26.6 493.7h0.9v0.9h-0.9zM32.6 500.1h0.9v0.9h-0.9zM37.1 504.1h0.9v0.9h-0.9zM26.6 506.7h0.9v0.9h-0.9zM39.0 490.1h0.9v0.9h-0.9zM33.1 499.6h0.9v0.9h-0.9zM25.3 507.9h0.9v0.9h-0.9zM31.0 489.5h0.9v0.9h-0.9zM34.3 491.6h0.9v0.9h-0.9zM26.1 501.0h0.9v0.9h-0.9zM33.9 480.6h0.9v0.9h-0.9zM25.9 496.7h0.9v0.9h-0.9zM25.9 492.9h0.9v0.9h-0.9zM30.7 496.0h0.9v0.9h-0.9zM36.2 502.0h0.9v0.9h-0.9zM33.7 498.9h0.9v0.9h-0.9zM36.6 498.1h0.9v0.9h-0.9zM32.2 508.1h0.9v0.9h-0.9zM28.9 506.5h0.9v0.9h-0.9zM28.5 491.1h0.9v0.9h-0.9zM23.4 498.8h0.9v0.9h-0.9zM36.1 496.2h0.9v0.9h-0.9zM28.3 504.1h0.9v0.9h-0.9zM31.2 503.5h0.9v0.9h-0.9z" fill="#e06a6a" opacity="0.5"/>
<path d="M36.3 495.1h0.9v0.9h-0.9zM40.2 485.2h0.9v0.9h-0.9zM27.3 497.6h0.9v0.9h-0.9zM37.8 499.5h0.9v0.9h-0.9zM37.9 486.2h0.9v0.9h-0.9zM36.3 485.7h0.9v0.9h-0.9zM35.4 493.4h0.9v0.9h-0.9zM32.0 505.3h0.9v0.9h-0.9zM34.9 510.3h0.9v0.9h-0.9zM31.5 500.9h0.9v0.9h-0.9zM38.8 497.0h0.9v0.9h-0.9zM33.9 498.3h0.9v0.9h-0.9zM36.9 493.2h0.9v0.9h-0.9zM33.4 502.2h0.9v0.9h-0.9zM33.9 504.7h0.9v0.9h-0.9zM37.8 488.6h0.9v0.9h-0.9zM37.1 502.8h0.9v0.9h-0.9zM28.3 507.5h0.9v0.9h-0.9zM37.0 497.6h0.9v0.9h-0.9zM35.1 498.1h0.9v0.9h-0.9zM35.6 507.7h0.9v0.9h-0.9zM40.4 490.5h0.9v0.9h-0.9zM30.5 502.2h0.9v0.9h-0.9zM36.8 494.7h0.9v0.9h-0.9zM30.0 494.1h0.9v0.9h-0.9zM31.4 494.4h0.9v0.9h-0.9zM31.7 495.6h0.9v0.9h-0.9zM35.4 485.2h0.9v0.9h-0.9zM33.8 488.4h0.9v0.9h-0.9zM37.4 499.3h0.9v0.9h-0.9zM39.5 492.0h0.9v0.9h-0.9zM38.2 486.7h0.9v0.9h-0.9zM29.5 495.2h0.9v0.9h-0.9zM32.3 504.0h0.9v0.9h-0.9zM39.0 488.3h0.9v0.9h-0.9zM25.9 498.3h0.9v0.9h-0.9zM32.6 504.1h0.9v0.9h-0.9zM39.4 489.7h0.9v0.9h-0.9zM32.8 498.5h0.9v0.9h-0.9zM26.0 507.6h0.9v0.9h-0.9zM34.1 488.5h0.9v0.9h-0.9zM36.9 488.6h0.9v0.9h-0.9zM34.0 507.1h0.9v0.9h-0.9zM35.8 491.2h0.9v0.9h-0.9zM31.4 488.5h0.9v0.9h-0.9zM29.4 499.5h0.9v0.9h-0.9zM37.2 494.6h0.9v0.9h-0.9zM35.0 502.8h0.9v0.9h-0.9zM28.5 507.9h0.9v0.9h-0.9zM28.3 496.2h0.9v0.9h-0.9zM28.0 498.1h0.9v0.9h-0.9zM34.7 496.8h0.9v0.9h-0.9zM33.3 506.6h0.9v0.9h-0.9zM32.5 495.0h0.9v0.9h-0.9zM35.1 489.8h0.9v0.9h-0.9zM35.7 487.5h0.9v0.9h-0.9zM28.8 494.9h0.9v0.9h-0.9zM32.3 499.1h0.9v0.9h-0.9zM28.5 506.8h0.9v0.9h-0.9zM30.3 505.2h0.9v0.9h-0.9z" fill="#c81820" opacity="0.6"/>
<path d="M45.6 512.0h0.9v0.9h-0.9zM54.5 507.7h0.9v0.9h-0.9zM59.7 503.0h0.9v0.9h-0.9zM58.8 507.7h0.9v0.9h-0.9zM54.0 495.4h0.9v0.9h-0.9zM52.8 501.0h0.9v0.9h-0.9zM58.2 493.6h0.9v0.9h-0.9zM47.4 510.7h0.9v0.9h-0.9zM46.2 489.5h0.9v0.9h-0.9zM63.0 509.1h0.9v0.9h-0.9zM53.7 494.3h0.9v0.9h-0.9zM54.4 511.9h0.9v0.9h-0.9zM48.9 503.4h0.9v0.9h-0.9zM54.5 498.7h0.9v0.9h-0.9zM59.8 490.3h0.9v0.9h-0.9zM48.7 493.0h0.9v0.9h-0.9zM49.0 497.3h0.9v0.9h-0.9zM49.1 507.9h0.9v0.9h-0.9zM61.3 504.7h0.9v0.9h-0.9zM54.7 492.9h0.9v0.9h-0.9z" fill="#c0c0c0" opacity="0.5"/>
</g>
<polygon points="94.7,511 94.7,492 101,484 108,481 111,483 111,495 108,511" fill="#f6d0d0" opacity="0.5" filter="url(#bl2)"/>
<polygon points="98,508 106,508.5 109.5,495 110.2,487 106.5,485 103,490 99,499" fill="#e41414" opacity="0.95" filter="url(#bl2)"/>
<polygon points="110.5,511.4 111,501 116,498 123,495 129.2,494 129.2,511.4" fill="#f2c4c4" opacity="0.6" filter="url(#bl2)"/>
<g filter="url(#bl)">
<path d="M101.2 491.2h0.9v0.9h-0.9zM106.3 492.2h0.9v0.9h-0.9zM95.7 505.5h0.9v0.9h-0.9zM107.7 505.7h0.9v0.9h-0.9zM108.5 495.2h0.9v0.9h-0.9zM97.8 496.2h0.9v0.9h-0.9zM96.8 506.2h0.9v0.9h-0.9zM104.5 490.8h0.9v0.9h-0.9zM103.1 496.7h0.9v0.9h-0.9zM109.8 491.9h0.9v0.9h-0.9zM95.4 506.9h0.9v0.9h-0.9zM107.4 492.8h0.9v0.9h-0.9zM107.5 510.2h0.9v0.9h-0.9zM108.1 484.3h0.9v0.9h-0.9zM102.4 497.4h0.9v0.9h-0.9zM104.2 499.4h0.9v0.9h-0.9zM106.2 497.0h0.9v0.9h-0.9zM100.4 497.3h0.9v0.9h-0.9zM99.5 505.6h0.9v0.9h-0.9zM109.4 482.2h0.9v0.9h-0.9zM107.8 496.0h0.9v0.9h-0.9zM96.4 509.9h0.9v0.9h-0.9zM109.3 488.5h0.9v0.9h-0.9zM107.1 487.1h0.9v0.9h-0.9zM98.2 490.3h0.9v0.9h-0.9zM97.4 500.2h0.9v0.9h-0.9zM95.4 509.2h0.9v0.9h-0.9zM98.3 512.0h0.9v0.9h-0.9zM106.4 493.4h0.9v0.9h-0.9zM109.5 504.2h0.9v0.9h-0.9zM99.4 496.2h0.9v0.9h-0.9zM109.6 492.0h0.9v0.9h-0.9zM108.5 508.4h0.9v0.9h-0.9zM109.5 508.4h0.9v0.9h-0.9zM98.6 503.8h0.9v0.9h-0.9zM98.0 510.7h0.9v0.9h-0.9zM107.8 503.6h0.9v0.9h-0.9zM105.9 495.8h0.9v0.9h-0.9zM104.9 486.6h0.9v0.9h-0.9zM95.0 496.4h0.9v0.9h-0.9zM109.7 488.2h0.9v0.9h-0.9zM99.0 489.0h0.9v0.9h-0.9zM107.8 486.0h0.9v0.9h-0.9zM101.1 501.1h0.9v0.9h-0.9zM102.0 485.7h0.9v0.9h-0.9zM100.0 501.2h0.9v0.9h-0.9zM107.0 494.2h0.9v0.9h-0.9zM104.0 506.9h0.9v0.9h-0.9zM95.7 491.1h0.9v0.9h-0.9zM99.2 500.8h0.9v0.9h-0.9zM103.9 488.2h0.9v0.9h-0.9zM104.8 503.1h0.9v0.9h-0.9zM101.0 504.8h0.9v0.9h-0.9zM100.7 505.9h0.9v0.9h-0.9zM101.0 491.0h0.9v0.9h-0.9zM104.9 510.4h0.9v0.9h-0.9zM98.2 504.1h0.9v0.9h-0.9zM107.6 496.2h0.9v0.9h-0.9zM108.7 502.6h0.9v0.9h-0.9zM102.6 501.2h0.9v0.9h-0.9zM106.0 507.5h0.9v0.9h-0.9zM95.3 491.5h0.9v0.9h-0.9zM94.4 508.9h0.9v0.9h-0.9zM106.6 486.3h0.9v0.9h-0.9zM107.1 487.7h0.9v0.9h-0.9zM96.2 501.6h0.9v0.9h-0.9zM106.1 502.6h0.9v0.9h-0.9zM101.1 499.5h0.9v0.9h-0.9zM104.1 493.8h0.9v0.9h-0.9zM107.6 500.6h0.9v0.9h-0.9zM104.6 507.8h0.9v0.9h-0.9zM104.8 484.2h0.9v0.9h-0.9zM103.7 505.8h0.9v0.9h-0.9zM99.3 495.2h0.9v0.9h-0.9zM100.1 499.3h0.9v0.9h-0.9zM107.9 491.7h0.9v0.9h-0.9zM99.2 495.7h0.9v0.9h-0.9zM103.8 499.1h0.9v0.9h-0.9zM103.2 486.1h0.9v0.9h-0.9zM98.7 510.5h0.9v0.9h-0.9zM104.3 502.3h0.9v0.9h-0.9zM107.8 505.7h0.9v0.9h-0.9zM108.1 487.1h0.9v0.9h-0.9zM110.1 507.1h0.9v0.9h-0.9zM109.7 495.3h0.9v0.9h-0.9zM97.3 507.4h0.9v0.9h-0.9zM98.8 497.3h0.9v0.9h-0.9zM96.2 494.2h0.9v0.9h-0.9zM95.6 492.4h0.9v0.9h-0.9zM106.0 499.2h0.9v0.9h-0.9zM99.1 499.2h0.9v0.9h-0.9zM100.5 497.1h0.9v0.9h-0.9zM108.4 500.9h0.9v0.9h-0.9zM101.9 484.5h0.9v0.9h-0.9zM107.8 502.5h0.9v0.9h-0.9zM100.7 504.0h0.9v0.9h-0.9zM105.9 500.7h0.9v0.9h-0.9zM97.5 494.3h0.9v0.9h-0.9zM106.9 510.6h0.9v0.9h-0.9zM106.8 505.0h0.9v0.9h-0.9zM107.5 482.7h0.9v0.9h-0.9zM98.3 493.7h0.9v0.9h-0.9zM106.2 490.4h0.9v0.9h-0.9zM104.7 499.2h0.9v0.9h-0.9zM107.2 506.9h0.9v0.9h-0.9zM111.9 485.4h0.9v0.9h-0.9zM102.6 497.9h0.9v0.9h-0.9zM109.4 493.1h0.9v0.9h-0.9zM105.7 488.6h0.9v0.9h-0.9zM109.6 500.2h0.9v0.9h-0.9zM102.5 489.5h0.9v0.9h-0.9zM98.3 497.5h0.9v0.9h-0.9zM101.3 508.9h0.9v0.9h-0.9zM97.5 499.5h0.9v0.9h-0.9zM105.0 483.3h0.9v0.9h-0.9zM107.1 509.0h0.9v0.9h-0.9zM102.5 486.2h0.9v0.9h-0.9zM102.1 504.6h0.9v0.9h-0.9zM99.4 486.2h0.9v0.9h-0.9zM98.8 506.8h0.9v0.9h-0.9zM101.3 491.1h0.9v0.9h-0.9zM96.8 502.2h0.9v0.9h-0.9zM97.9 503.8h0.9v0.9h-0.9zM99.0 500.9h0.9v0.9h-0.9zM98.2 507.1h0.9v0.9h-0.9zM110.2 485.6h0.9v0.9h-0.9zM109.1 497.1h0.9v0.9h-0.9zM106.6 491.7h0.9v0.9h-0.9zM96.2 498.0h0.9v0.9h-0.9zM103.0 505.5h0.9v0.9h-0.9zM102.6 490.5h0.9v0.9h-0.9zM106.4 491.6h0.9v0.9h-0.9zM105.1 504.9h0.9v0.9h-0.9zM98.1 508.2h0.9v0.9h-0.9zM96.0 509.2h0.9v0.9h-0.9zM101.2 499.4h0.9v0.9h-0.9zM107.7 500.2h0.9v0.9h-0.9zM96.1 493.5h0.9v0.9h-0.9zM106.1 486.4h0.9v0.9h-0.9zM110.2 491.5h0.9v0.9h-0.9zM102.7 486.1h0.9v0.9h-0.9zM105.4 495.7h0.9v0.9h-0.9zM108.4 501.1h0.9v0.9h-0.9zM108.9 492.4h0.9v0.9h-0.9zM96.8 494.8h0.9v0.9h-0.9zM100.2 486.8h0.9v0.9h-0.9zM109.6 489.3h0.9v0.9h-0.9zM104.9 497.4h0.9v0.9h-0.9zM102.6 508.5h0.9v0.9h-0.9zM96.4 504.7h0.9v0.9h-0.9z" fill="#e06a6a" opacity="0.5"/>
<path d="M107.7 485.7h0.9v0.9h-0.9zM104.6 490.6h0.9v0.9h-0.9zM104.4 508.1h0.9v0.9h-0.9zM102.8 493.8h0.9v0.9h-0.9zM99.9 504.6h0.9v0.9h-0.9zM98.1 507.8h0.9v0.9h-0.9zM108.5 495.4h0.9v0.9h-0.9zM104.1 503.4h0.9v0.9h-0.9zM105.0 498.2h0.9v0.9h-0.9zM108.4 498.5h0.9v0.9h-0.9zM103.6 498.8h0.9v0.9h-0.9zM101.7 498.8h0.9v0.9h-0.9zM105.5 497.5h0.9v0.9h-0.9zM106.0 504.4h0.9v0.9h-0.9zM102.9 493.2h0.9v0.9h-0.9zM109.3 486.6h0.9v0.9h-0.9zM108.4 489.9h0.9v0.9h-0.9zM109.9 492.9h0.9v0.9h-0.9zM99.6 503.9h0.9v0.9h-0.9zM101.5 502.8h0.9v0.9h-0.9zM109.6 499.5h0.9v0.9h-0.9zM104.8 493.3h0.9v0.9h-0.9zM100.7 493.0h0.9v0.9h-0.9zM104.3 496.6h0.9v0.9h-0.9zM102.8 506.6h0.9v0.9h-0.9zM110.4 490.0h0.9v0.9h-0.9zM102.0 501.7h0.9v0.9h-0.9zM106.5 502.8h0.9v0.9h-0.9zM106.8 495.3h0.9v0.9h-0.9zM105.4 505.5h0.9v0.9h-0.9zM106.3 490.6h0.9v0.9h-0.9zM102.2 495.4h0.9v0.9h-0.9zM106.2 497.1h0.9v0.9h-0.9zM100.7 497.5h0.9v0.9h-0.9zM106.4 494.2h0.9v0.9h-0.9zM103.0 493.0h0.9v0.9h-0.9zM106.7 489.0h0.9v0.9h-0.9zM103.4 502.6h0.9v0.9h-0.9zM101.8 493.7h0.9v0.9h-0.9zM106.2 488.3h0.9v0.9h-0.9zM105.9 490.1h0.9v0.9h-0.9zM110.1 490.0h0.9v0.9h-0.9zM102.0 494.8h0.9v0.9h-0.9zM105.0 485.8h0.9v0.9h-0.9zM105.6 500.8h0.9v0.9h-0.9zM109.6 485.8h0.9v0.9h-0.9zM108.5 490.2h0.9v0.9h-0.9zM99.8 504.8h0.9v0.9h-0.9zM98.6 507.8h0.9v0.9h-0.9zM104.5 490.0h0.9v0.9h-0.9zM106.6 498.8h0.9v0.9h-0.9zM101.7 494.3h0.9v0.9h-0.9zM104.3 493.9h0.9v0.9h-0.9zM103.0 504.0h0.9v0.9h-0.9zM104.2 497.5h0.9v0.9h-0.9zM105.9 495.4h0.9v0.9h-0.9zM107.2 502.4h0.9v0.9h-0.9zM106.1 496.7h0.9v0.9h-0.9zM106.0 507.7h0.9v0.9h-0.9zM99.9 500.6h0.9v0.9h-0.9z" fill="#c81820" opacity="0.6"/>
<path d="M111.5 512.1h0.9v0.9h-0.9zM127.0 497.4h0.9v0.9h-0.9zM127.6 502.8h0.9v0.9h-0.9zM121.1 508.6h0.9v0.9h-0.9zM128.7 501.2h0.9v0.9h-0.9zM115.0 499.0h0.9v0.9h-0.9zM125.7 504.5h0.9v0.9h-0.9zM128.8 494.4h0.9v0.9h-0.9zM123.3 509.6h0.9v0.9h-0.9zM118.2 501.0h0.9v0.9h-0.9zM117.6 507.1h0.9v0.9h-0.9zM127.5 505.3h0.9v0.9h-0.9zM113.9 503.6h0.9v0.9h-0.9zM113.0 503.1h0.9v0.9h-0.9zM116.5 507.4h0.9v0.9h-0.9zM120.6 497.2h0.9v0.9h-0.9zM124.6 509.2h0.9v0.9h-0.9zM126.2 510.2h0.9v0.9h-0.9zM126.6 496.3h0.9v0.9h-0.9zM117.7 509.7h0.9v0.9h-0.9zM112.9 510.3h0.9v0.9h-0.9zM122.5 504.0h0.9v0.9h-0.9zM120.0 499.0h0.9v0.9h-0.9zM129.2 505.3h0.9v0.9h-0.9zM115.3 510.4h0.9v0.9h-0.9zM120.5 503.2h0.9v0.9h-0.9zM121.0 503.1h0.9v0.9h-0.9zM121.7 506.4h0.9v0.9h-0.9zM129.2 498.0h0.9v0.9h-0.9zM124.1 498.8h0.9v0.9h-0.9zM113.6 502.2h0.9v0.9h-0.9zM113.0 505.3h0.9v0.9h-0.9zM123.4 494.9h0.9v0.9h-0.9zM128.5 497.6h0.9v0.9h-0.9zM112.2 501.9h0.9v0.9h-0.9zM117.0 507.2h0.9v0.9h-0.9zM121.9 501.3h0.9v0.9h-0.9zM120.5 505.2h0.9v0.9h-0.9zM123.0 507.0h0.9v0.9h-0.9zM125.4 507.1h0.9v0.9h-0.9zM118.2 504.5h0.9v0.9h-0.9zM124.3 504.5h0.9v0.9h-0.9zM122.4 499.9h0.9v0.9h-0.9zM113.1 510.5h0.9v0.9h-0.9zM113.1 502.3h0.9v0.9h-0.9zM122.8 501.3h0.9v0.9h-0.9zM122.2 498.4h0.9v0.9h-0.9zM117.9 499.3h0.9v0.9h-0.9zM128.5 501.1h0.9v0.9h-0.9zM123.7 505.1h0.9v0.9h-0.9zM118.9 502.8h0.9v0.9h-0.9zM112.5 502.0h0.9v0.9h-0.9zM115.2 498.3h0.9v0.9h-0.9zM115.3 509.5h0.9v0.9h-0.9zM116.0 507.9h0.9v0.9h-0.9zM128.3 499.8h0.9v0.9h-0.9zM125.7 506.2h0.9v0.9h-0.9zM118.7 504.4h0.9v0.9h-0.9zM112.2 507.5h0.9v0.9h-0.9zM111.8 507.8h0.9v0.9h-0.9zM113.4 507.3h0.9v0.9h-0.9zM114.6 501.9h0.9v0.9h-0.9zM121.8 506.4h0.9v0.9h-0.9zM112.1 510.0h0.9v0.9h-0.9zM120.6 500.2h0.9v0.9h-0.9zM120.1 510.1h0.9v0.9h-0.9zM123.5 502.4h0.9v0.9h-0.9zM125.7 503.4h0.9v0.9h-0.9zM122.0 509.7h0.9v0.9h-0.9zM114.9 505.5h0.9v0.9h-0.9zM119.3 505.4h0.9v0.9h-0.9zM120.9 497.0h0.9v0.9h-0.9zM122.1 504.4h0.9v0.9h-0.9zM119.7 504.3h0.9v0.9h-0.9zM128.1 502.3h0.9v0.9h-0.9zM126.7 499.4h0.9v0.9h-0.9zM126.6 497.7h0.9v0.9h-0.9zM125.2 504.7h0.9v0.9h-0.9zM125.9 498.7h0.9v0.9h-0.9zM115.0 501.5h0.9v0.9h-0.9zM115.4 499.7h0.9v0.9h-0.9zM116.0 508.8h0.9v0.9h-0.9zM110.8 510.8h0.9v0.9h-0.9zM119.9 505.1h0.9v0.9h-0.9zM125.8 506.7h0.9v0.9h-0.9zM114.6 499.2h0.9v0.9h-0.9zM120.8 499.6h0.9v0.9h-0.9zM110.8 503.6h0.9v0.9h-0.9zM129.0 510.7h0.9v0.9h-0.9zM114.0 498.6h0.9v0.9h-0.9zM122.2 505.3h0.9v0.9h-0.9zM117.5 499.3h0.9v0.9h-0.9zM127.8 503.4h0.9v0.9h-0.9zM113.3 508.1h0.9v0.9h-0.9zM120.3 509.1h0.9v0.9h-0.9zM115.5 499.5h0.9v0.9h-0.9zM129.2 501.7h0.9v0.9h-0.9zM122.8 496.4h0.9v0.9h-0.9zM126.7 509.6h0.9v0.9h-0.9zM120.3 510.0h0.9v0.9h-0.9zM122.6 496.5h0.9v0.9h-0.9zM123.2 507.4h0.9v0.9h-0.9zM120.7 499.8h0.9v0.9h-0.9zM122.7 506.3h0.9v0.9h-0.9zM126.8 499.3h0.9v0.9h-0.9zM126.8 502.3h0.9v0.9h-0.9zM120.1 505.7h0.9v0.9h-0.9zM119.0 500.7h0.9v0.9h-0.9zM116.7 505.0h0.9v0.9h-0.9zM121.8 508.2h0.9v0.9h-0.9zM119.3 508.5h0.9v0.9h-0.9zM121.4 501.8h0.9v0.9h-0.9zM125.0 500.0h0.9v0.9h-0.9zM112.9 502.1h0.9v0.9h-0.9zM126.1 496.9h0.9v0.9h-0.9zM120.9 501.9h0.9v0.9h-0.9zM123.4 497.4h0.9v0.9h-0.9zM117.2 501.0h0.9v0.9h-0.9zM124.4 502.2h0.9v0.9h-0.9zM128.4 495.3h0.9v0.9h-0.9zM118.0 504.1h0.9v0.9h-0.9zM121.1 498.2h0.9v0.9h-0.9zM128.3 501.3h0.9v0.9h-0.9zM121.5 501.3h0.9v0.9h-0.9zM128.5 505.8h0.9v0.9h-0.9zM121.6 509.7h0.9v0.9h-0.9zM113.1 506.1h0.9v0.9h-0.9zM116.2 497.6h0.9v0.9h-0.9zM115.4 504.1h0.9v0.9h-0.9zM122.4 500.7h0.9v0.9h-0.9zM122.7 496.7h0.9v0.9h-0.9zM121.2 507.9h0.9v0.9h-0.9zM123.8 507.0h0.9v0.9h-0.9zM125.0 507.6h0.9v0.9h-0.9zM126.4 505.2h0.9v0.9h-0.9zM119.9 502.6h0.9v0.9h-0.9zM128.0 502.2h0.9v0.9h-0.9zM129.7 507.8h0.9v0.9h-0.9zM124.4 505.1h0.9v0.9h-0.9zM125.9 496.1h0.9v0.9h-0.9zM122.4 499.8h0.9v0.9h-0.9zM124.8 510.8h0.9v0.9h-0.9zM122.7 506.4h0.9v0.9h-0.9zM124.2 504.2h0.9v0.9h-0.9zM124.1 500.6h0.9v0.9h-0.9zM125.4 498.9h0.9v0.9h-0.9zM122.0 503.0h0.9v0.9h-0.9zM115.4 499.6h0.9v0.9h-0.9zM114.6 511.5h0.9v0.9h-0.9zM126.1 503.3h0.9v0.9h-0.9zM117.0 506.7h0.9v0.9h-0.9zM113.9 502.9h0.9v0.9h-0.9zM126.8 505.0h0.9v0.9h-0.9zM125.1 502.4h0.9v0.9h-0.9zM119.2 508.1h0.9v0.9h-0.9zM113.9 504.8h0.9v0.9h-0.9zM118.2 511.1h0.9v0.9h-0.9zM128.1 496.1h0.9v0.9h-0.9zM117.6 507.9h0.9v0.9h-0.9zM111.9 502.9h0.9v0.9h-0.9zM126.8 500.4h0.9v0.9h-0.9zM123.5 497.0h0.9v0.9h-0.9zM125.5 510.5h0.9v0.9h-0.9zM129.5 501.1h0.9v0.9h-0.9zM129.0 498.0h0.9v0.9h-0.9zM115.1 506.7h0.9v0.9h-0.9zM123.9 507.3h0.9v0.9h-0.9zM127.9 496.0h0.9v0.9h-0.9zM123.2 497.0h0.9v0.9h-0.9zM114.5 499.0h0.9v0.9h-0.9zM127.3 499.2h0.9v0.9h-0.9zM124.8 506.9h0.9v0.9h-0.9zM113.4 506.8h0.9v0.9h-0.9zM128.5 498.5h0.9v0.9h-0.9zM113.3 504.0h0.9v0.9h-0.9zM122.2 511.5h0.9v0.9h-0.9zM114.1 510.6h0.9v0.9h-0.9zM110.3 507.1h0.9v0.9h-0.9zM122.7 503.5h0.9v0.9h-0.9zM118.2 500.7h0.9v0.9h-0.9zM124.8 512.1h0.9v0.9h-0.9zM125.8 497.5h0.9v0.9h-0.9zM112.2 501.4h0.9v0.9h-0.9zM120.5 502.4h0.9v0.9h-0.9zM118.0 501.3h0.9v0.9h-0.9zM116.6 511.2h0.9v0.9h-0.9zM117.2 498.0h0.9v0.9h-0.9zM119.1 502.9h0.9v0.9h-0.9zM119.6 507.2h0.9v0.9h-0.9zM111.1 507.0h0.9v0.9h-0.9zM123.1 505.5h0.9v0.9h-0.9zM129.1 499.0h0.9v0.9h-0.9zM113.4 502.5h0.9v0.9h-0.9zM112.6 504.0h0.9v0.9h-0.9zM126.2 511.3h0.9v0.9h-0.9zM127.6 501.1h0.9v0.9h-0.9zM119.2 501.0h0.9v0.9h-0.9zM129.0 509.1h0.9v0.9h-0.9zM124.0 495.3h0.9v0.9h-0.9zM124.8 497.7h0.9v0.9h-0.9zM111.7 502.6h0.9v0.9h-0.9zM127.4 501.2h0.9v0.9h-0.9zM126.8 506.8h0.9v0.9h-0.9zM114.6 511.0h0.9v0.9h-0.9zM116.5 499.9h0.9v0.9h-0.9zM113.2 504.7h0.9v0.9h-0.9zM116.1 511.2h0.9v0.9h-0.9zM126.5 497.3h0.9v0.9h-0.9zM119.7 495.9h0.9v0.9h-0.9zM127.5 494.4h0.9v0.9h-0.9zM112.8 512.3h0.9v0.9h-0.9zM122.5 496.9h0.9v0.9h-0.9zM114.9 511.8h0.9v0.9h-0.9zM121.2 503.6h0.9v0.9h-0.9zM125.2 503.3h0.9v0.9h-0.9zM118.9 499.7h0.9v0.9h-0.9zM116.3 501.1h0.9v0.9h-0.9zM119.4 504.5h0.9v0.9h-0.9zM113.1 506.4h0.9v0.9h-0.9zM125.1 497.2h0.9v0.9h-0.9z" fill="#d04040" opacity="0.55"/>
</g>
<polygon points="179.3,509 179.3,482 186,480 193,484 194.5,505 191,509" fill="#f8e0e0" opacity="0.5" filter="url(#bl2)"/>
<polygon points="179.5,508 180,492 187,489 193,492 193,506 188,509" fill="#ec9a9a" opacity="0.55" filter="url(#bl2)"/>
<polygon points="185,504 185.5,497 189,495.5 192.5,497 192,504.5 188,505.5" fill="#e41414" opacity="0.9" filter="url(#bl2)"/>
<g filter="url(#bl)">
<path d="M188.6 505.2h0.9v0.9h-0.9zM183.9 506.5h0.9v0.9h-0.9zM191.9 493.9h0.9v0.9h-0.9zM183.1 493.5h0.9v0.9h-0.9zM187.1 508.5h0.9v0.9h-0.9zM177.6 494.4h0.9v0.9h-0.9zM187.5 494.5h0.9v0.9h-0.9zM183.2 499.3h0.9v0.9h-0.9zM178.8 504.0h0.9v0.9h-0.9zM191.6 494.9h0.9v0.9h-0.9zM191.3 482.8h0.9v0.9h-0.9zM193.2 489.4h0.9v0.9h-0.9zM185.0 490.0h0.9v0.9h-0.9zM186.4 507.8h0.9v0.9h-0.9zM189.1 498.5h0.9v0.9h-0.9zM183.8 492.7h0.9v0.9h-0.9zM183.2 497.7h0.9v0.9h-0.9zM190.5 484.4h0.9v0.9h-0.9zM192.8 497.9h0.9v0.9h-0.9zM193.7 495.9h0.9v0.9h-0.9zM189.0 496.1h0.9v0.9h-0.9zM182.9 481.7h0.9v0.9h-0.9zM187.6 489.9h0.9v0.9h-0.9zM183.4 479.0h0.9v0.9h-0.9zM189.4 494.4h0.9v0.9h-0.9zM184.7 497.6h0.9v0.9h-0.9zM187.8 502.7h0.9v0.9h-0.9zM191.0 502.7h0.9v0.9h-0.9zM188.7 501.2h0.9v0.9h-0.9zM180.8 486.5h0.9v0.9h-0.9zM183.8 508.2h0.9v0.9h-0.9zM184.6 508.9h0.9v0.9h-0.9zM187.0 494.2h0.9v0.9h-0.9zM188.1 491.7h0.9v0.9h-0.9zM186.7 495.1h0.9v0.9h-0.9zM191.0 499.6h0.9v0.9h-0.9zM183.1 490.8h0.9v0.9h-0.9zM181.6 506.9h0.9v0.9h-0.9zM186.4 496.7h0.9v0.9h-0.9zM188.2 498.8h0.9v0.9h-0.9zM184.6 501.1h0.9v0.9h-0.9zM181.3 506.5h0.9v0.9h-0.9zM187.8 506.3h0.9v0.9h-0.9zM180.7 487.9h0.9v0.9h-0.9zM186.7 482.0h0.9v0.9h-0.9zM184.8 508.0h0.9v0.9h-0.9zM188.2 498.5h0.9v0.9h-0.9zM181.6 504.6h0.9v0.9h-0.9zM180.8 488.9h0.9v0.9h-0.9zM187.3 501.2h0.9v0.9h-0.9zM191.2 483.8h0.9v0.9h-0.9zM182.1 495.8h0.9v0.9h-0.9zM180.7 499.5h0.9v0.9h-0.9zM190.6 488.7h0.9v0.9h-0.9zM193.2 485.0h0.9v0.9h-0.9zM183.4 496.3h0.9v0.9h-0.9zM182.7 493.9h0.9v0.9h-0.9zM184.8 484.9h0.9v0.9h-0.9zM184.4 489.0h0.9v0.9h-0.9zM182.6 490.8h0.9v0.9h-0.9zM189.9 497.8h0.9v0.9h-0.9zM190.9 483.8h0.9v0.9h-0.9zM180.7 505.3h0.9v0.9h-0.9zM192.9 496.8h0.9v0.9h-0.9zM191.5 492.4h0.9v0.9h-0.9zM191.0 502.9h0.9v0.9h-0.9zM184.9 481.9h0.9v0.9h-0.9zM182.0 488.8h0.9v0.9h-0.9zM181.8 501.6h0.9v0.9h-0.9zM192.2 502.7h0.9v0.9h-0.9zM182.2 503.4h0.9v0.9h-0.9zM185.5 490.4h0.9v0.9h-0.9zM192.2 495.4h0.9v0.9h-0.9zM191.1 490.7h0.9v0.9h-0.9zM185.3 482.6h0.9v0.9h-0.9zM182.3 500.0h0.9v0.9h-0.9zM182.5 482.4h0.9v0.9h-0.9zM188.0 492.0h0.9v0.9h-0.9zM185.4 479.9h0.9v0.9h-0.9zM191.2 494.6h0.9v0.9h-0.9zM194.6 506.4h0.9v0.9h-0.9zM182.2 483.7h0.9v0.9h-0.9zM180.3 484.3h0.9v0.9h-0.9zM181.9 499.6h0.9v0.9h-0.9zM183.6 495.2h0.9v0.9h-0.9zM187.0 503.5h0.9v0.9h-0.9zM181.7 481.5h0.9v0.9h-0.9zM183.4 508.0h0.9v0.9h-0.9zM186.2 507.1h0.9v0.9h-0.9zM187.7 480.9h0.9v0.9h-0.9zM191.7 502.2h0.9v0.9h-0.9zM191.0 505.6h0.9v0.9h-0.9zM183.8 484.5h0.9v0.9h-0.9zM192.0 498.0h0.9v0.9h-0.9zM182.6 493.4h0.9v0.9h-0.9zM188.4 503.0h0.9v0.9h-0.9zM188.9 497.8h0.9v0.9h-0.9zM183.9 501.3h0.9v0.9h-0.9zM189.1 485.8h0.9v0.9h-0.9zM180.1 502.5h0.9v0.9h-0.9zM184.9 491.5h0.9v0.9h-0.9zM186.9 495.7h0.9v0.9h-0.9zM185.7 497.6h0.9v0.9h-0.9zM187.2 486.4h0.9v0.9h-0.9zM182.3 492.6h0.9v0.9h-0.9zM187.2 504.8h0.9v0.9h-0.9zM191.5 499.0h0.9v0.9h-0.9zM188.3 491.4h0.9v0.9h-0.9zM186.4 502.8h0.9v0.9h-0.9zM190.3 491.6h0.9v0.9h-0.9zM186.0 501.7h0.9v0.9h-0.9zM187.4 495.2h0.9v0.9h-0.9zM187.5 492.7h0.9v0.9h-0.9zM182.9 491.4h0.9v0.9h-0.9zM184.7 497.1h0.9v0.9h-0.9zM185.1 489.5h0.9v0.9h-0.9zM191.6 487.9h0.9v0.9h-0.9zM184.8 502.8h0.9v0.9h-0.9zM188.4 493.8h0.9v0.9h-0.9zM181.4 488.9h0.9v0.9h-0.9zM181.4 502.0h0.9v0.9h-0.9zM178.5 499.5h0.9v0.9h-0.9zM184.9 497.5h0.9v0.9h-0.9zM188.4 500.0h0.9v0.9h-0.9zM183.6 488.3h0.9v0.9h-0.9zM184.8 502.9h0.9v0.9h-0.9zM181.2 488.7h0.9v0.9h-0.9zM192.8 499.2h0.9v0.9h-0.9zM190.8 488.8h0.9v0.9h-0.9zM184.9 484.2h0.9v0.9h-0.9zM181.0 483.7h0.9v0.9h-0.9zM181.0 485.0h0.9v0.9h-0.9zM186.1 484.3h0.9v0.9h-0.9zM182.5 498.1h0.9v0.9h-0.9zM191.1 484.4h0.9v0.9h-0.9zM189.9 498.5h0.9v0.9h-0.9zM192.4 506.5h0.9v0.9h-0.9zM180.1 502.8h0.9v0.9h-0.9zM189.7 499.0h0.9v0.9h-0.9zM195.2 497.5h0.9v0.9h-0.9zM179.0 501.4h0.9v0.9h-0.9zM193.1 501.2h0.9v0.9h-0.9zM181.8 486.3h0.9v0.9h-0.9zM191.5 500.3h0.9v0.9h-0.9zM177.8 502.5h0.9v0.9h-0.9zM189.4 499.6h0.9v0.9h-0.9zM190.7 481.3h0.9v0.9h-0.9zM187.8 482.6h0.9v0.9h-0.9zM180.9 488.7h0.9v0.9h-0.9zM184.9 500.0h0.9v0.9h-0.9zM183.9 503.2h0.9v0.9h-0.9zM184.2 500.9h0.9v0.9h-0.9zM180.6 506.6h0.9v0.9h-0.9zM189.8 486.7h0.9v0.9h-0.9zM186.6 487.9h0.9v0.9h-0.9zM183.6 487.0h0.9v0.9h-0.9zM185.7 486.8h0.9v0.9h-0.9zM183.5 496.3h0.9v0.9h-0.9zM182.0 505.1h0.9v0.9h-0.9zM182.3 499.0h0.9v0.9h-0.9zM180.8 495.0h0.9v0.9h-0.9zM180.8 486.9h0.9v0.9h-0.9zM186.8 507.4h0.9v0.9h-0.9zM185.8 484.1h0.9v0.9h-0.9zM193.5 495.9h0.9v0.9h-0.9zM187.3 501.5h0.9v0.9h-0.9zM186.2 484.8h0.9v0.9h-0.9zM182.7 497.9h0.9v0.9h-0.9zM187.4 500.9h0.9v0.9h-0.9zM185.6 495.3h0.9v0.9h-0.9zM181.4 504.3h0.9v0.9h-0.9zM183.7 484.9h0.9v0.9h-0.9zM179.7 488.1h0.9v0.9h-0.9zM181.6 492.0h0.9v0.9h-0.9zM187.0 485.9h0.9v0.9h-0.9zM189.9 482.3h0.9v0.9h-0.9zM191.2 485.0h0.9v0.9h-0.9zM187.0 484.3h0.9v0.9h-0.9zM180.1 487.9h0.9v0.9h-0.9zM185.4 496.4h0.9v0.9h-0.9zM184.3 501.6h0.9v0.9h-0.9zM190.7 490.8h0.9v0.9h-0.9zM184.0 501.1h0.9v0.9h-0.9zM185.0 497.3h0.9v0.9h-0.9zM190.2 495.2h0.9v0.9h-0.9zM189.4 485.1h0.9v0.9h-0.9zM180.2 490.2h0.9v0.9h-0.9zM191.8 498.4h0.9v0.9h-0.9zM186.8 495.5h0.9v0.9h-0.9zM192.0 492.2h0.9v0.9h-0.9zM185.4 506.2h0.9v0.9h-0.9zM183.2 502.6h0.9v0.9h-0.9zM185.3 493.1h0.9v0.9h-0.9zM191.1 496.7h0.9v0.9h-0.9zM182.6 486.5h0.9v0.9h-0.9zM192.3 490.9h0.9v0.9h-0.9zM181.9 483.0h0.9v0.9h-0.9zM183.2 498.9h0.9v0.9h-0.9zM189.0 489.7h0.9v0.9h-0.9zM187.5 485.2h0.9v0.9h-0.9zM182.3 485.4h0.9v0.9h-0.9zM188.1 508.9h0.9v0.9h-0.9zM186.8 498.2h0.9v0.9h-0.9zM179.3 494.9h0.9v0.9h-0.9zM184.6 483.1h0.9v0.9h-0.9zM185.4 485.8h0.9v0.9h-0.9zM182.6 507.8h0.9v0.9h-0.9zM180.3 487.7h0.9v0.9h-0.9zM179.8 484.8h0.9v0.9h-0.9zM180.7 507.0h0.9v0.9h-0.9zM180.8 503.2h0.9v0.9h-0.9zM188.6 483.3h0.9v0.9h-0.9zM194.1 503.4h0.9v0.9h-0.9zM178.5 505.8h0.9v0.9h-0.9zM189.6 504.2h0.9v0.9h-0.9zM182.8 505.8h0.9v0.9h-0.9zM187.0 485.7h0.9v0.9h-0.9zM191.9 506.3h0.9v0.9h-0.9zM194.0 494.1h0.9v0.9h-0.9zM180.2 495.8h0.9v0.9h-0.9z" fill="#d85050" opacity="0.45"/>
<path d="M181.0 493.1h0.9v0.9h-0.9zM187.3 502.6h0.9v0.9h-0.9zM189.8 494.0h0.9v0.9h-0.9zM187.4 489.6h0.9v0.9h-0.9zM179.8 493.6h0.9v0.9h-0.9zM184.1 498.7h0.9v0.9h-0.9zM182.6 508.2h0.9v0.9h-0.9zM185.0 506.9h0.9v0.9h-0.9zM184.9 501.6h0.9v0.9h-0.9zM190.3 500.2h0.9v0.9h-0.9zM181.4 492.1h0.9v0.9h-0.9zM189.4 508.0h0.9v0.9h-0.9zM189.6 491.7h0.9v0.9h-0.9zM191.7 507.5h0.9v0.9h-0.9zM186.5 494.7h0.9v0.9h-0.9zM190.0 507.2h0.9v0.9h-0.9zM182.2 492.6h0.9v0.9h-0.9zM184.5 497.9h0.9v0.9h-0.9zM185.2 497.3h0.9v0.9h-0.9zM182.2 503.0h0.9v0.9h-0.9zM184.9 498.8h0.9v0.9h-0.9zM178.8 492.1h0.9v0.9h-0.9zM183.4 508.4h0.9v0.9h-0.9zM185.0 502.3h0.9v0.9h-0.9zM189.2 505.4h0.9v0.9h-0.9zM187.3 503.2h0.9v0.9h-0.9zM183.9 499.7h0.9v0.9h-0.9zM189.8 505.2h0.9v0.9h-0.9zM190.0 497.2h0.9v0.9h-0.9zM180.6 501.9h0.9v0.9h-0.9zM190.3 497.6h0.9v0.9h-0.9zM191.2 494.7h0.9v0.9h-0.9zM185.7 491.2h0.9v0.9h-0.9zM188.6 493.8h0.9v0.9h-0.9zM188.7 504.8h0.9v0.9h-0.9zM185.7 490.4h0.9v0.9h-0.9zM180.9 506.2h0.9v0.9h-0.9zM189.8 495.8h0.9v0.9h-0.9zM180.5 504.1h0.9v0.9h-0.9zM185.9 495.7h0.9v0.9h-0.9zM186.2 508.9h0.9v0.9h-0.9zM179.7 506.7h0.9v0.9h-0.9zM189.9 505.9h0.9v0.9h-0.9zM181.8 493.2h0.9v0.9h-0.9zM187.8 508.6h0.9v0.9h-0.9zM184.7 505.4h0.9v0.9h-0.9zM190.4 501.1h0.9v0.9h-0.9zM185.1 506.2h0.9v0.9h-0.9zM184.8 497.7h0.9v0.9h-0.9zM191.7 494.0h0.9v0.9h-0.9zM192.0 501.9h0.9v0.9h-0.9zM186.3 508.3h0.9v0.9h-0.9zM184.7 506.1h0.9v0.9h-0.9zM180.1 503.8h0.9v0.9h-0.9zM191.3 495.1h0.9v0.9h-0.9zM184.6 490.7h0.9v0.9h-0.9zM185.4 502.7h0.9v0.9h-0.9zM180.2 497.7h0.9v0.9h-0.9zM179.8 498.9h0.9v0.9h-0.9zM182.5 499.9h0.9v0.9h-0.9zM182.1 491.2h0.9v0.9h-0.9zM183.1 506.3h0.9v0.9h-0.9zM184.6 507.5h0.9v0.9h-0.9zM189.6 508.1h0.9v0.9h-0.9zM192.2 506.9h0.9v0.9h-0.9zM189.2 492.5h0.9v0.9h-0.9zM186.6 499.1h0.9v0.9h-0.9zM184.4 496.3h0.9v0.9h-0.9zM191.9 500.7h0.9v0.9h-0.9zM180.6 499.0h0.9v0.9h-0.9zM188.1 501.1h0.9v0.9h-0.9zM181.3 507.5h0.9v0.9h-0.9zM179.6 507.5h0.9v0.9h-0.9zM187.9 504.5h0.9v0.9h-0.9zM184.8 489.1h0.9v0.9h-0.9zM179.4 505.3h0.9v0.9h-0.9zM187.9 501.9h0.9v0.9h-0.9zM185.8 503.6h0.9v0.9h-0.9zM184.0 498.0h0.9v0.9h-0.9zM181.1 496.8h0.9v0.9h-0.9zM189.8 496.1h0.9v0.9h-0.9zM185.1 499.7h0.9v0.9h-0.9zM193.2 491.2h0.9v0.9h-0.9zM192.8 501.1h0.9v0.9h-0.9zM188.9 494.9h0.9v0.9h-0.9zM189.7 505.6h0.9v0.9h-0.9zM188.8 491.6h0.9v0.9h-0.9zM186.5 496.9h0.9v0.9h-0.9zM185.0 505.0h0.9v0.9h-0.9zM187.7 501.4h0.9v0.9h-0.9zM180.4 504.0h0.9v0.9h-0.9zM183.1 495.7h0.9v0.9h-0.9zM189.6 501.7h0.9v0.9h-0.9zM189.6 495.4h0.9v0.9h-0.9zM184.8 488.7h0.9v0.9h-0.9zM185.0 490.7h0.9v0.9h-0.9zM185.9 491.1h0.9v0.9h-0.9zM192.3 493.9h0.9v0.9h-0.9zM181.6 494.5h0.9v0.9h-0.9zM192.6 496.5h0.9v0.9h-0.9z" fill="#d03030" opacity="0.5"/>
<path d="M189.7 499.1h0.9v0.9h-0.9zM190.0 495.7h0.9v0.9h-0.9zM190.9 503.8h0.9v0.9h-0.9zM190.5 504.6h0.9v0.9h-0.9zM184.9 501.4h0.9v0.9h-0.9zM187.0 500.9h0.9v0.9h-0.9zM186.9 499.0h0.9v0.9h-0.9zM184.1 499.8h0.9v0.9h-0.9zM192.0 503.4h0.9v0.9h-0.9zM189.4 503.8h0.9v0.9h-0.9zM187.4 501.2h0.9v0.9h-0.9zM185.2 499.6h0.9v0.9h-0.9zM187.3 505.3h0.9v0.9h-0.9zM192.4 496.6h0.9v0.9h-0.9zM186.4 505.1h0.9v0.9h-0.9zM191.4 502.3h0.9v0.9h-0.9zM188.7 499.9h0.9v0.9h-0.9zM186.3 497.9h0.9v0.9h-0.9zM188.8 498.7h0.9v0.9h-0.9zM186.2 498.3h0.9v0.9h-0.9zM191.1 497.2h0.9v0.9h-0.9zM186.0 497.0h0.9v0.9h-0.9zM190.8 496.8h0.9v0.9h-0.9zM189.7 501.6h0.9v0.9h-0.9zM190.1 497.3h0.9v0.9h-0.9zM190.7 503.8h0.9v0.9h-0.9zM187.3 500.3h0.9v0.9h-0.9zM186.4 500.5h0.9v0.9h-0.9zM191.6 495.7h0.9v0.9h-0.9zM186.2 502.7h0.9v0.9h-0.9z" fill="#c81820" opacity="0.6"/>
<path d="M210.5 508.9h0.9v0.9h-0.9zM203.0 503.4h0.9v0.9h-0.9zM198.7 481.3h0.9v0.9h-0.9zM206.7 510.8h0.9v0.9h-0.9zM211.6 501.5h0.9v0.9h-0.9zM209.2 503.1h0.9v0.9h-0.9zM210.0 500.5h0.9v0.9h-0.9zM199.7 495.6h0.9v0.9h-0.9zM210.5 482.0h0.9v0.9h-0.9zM205.8 495.6h0.9v0.9h-0.9zM200.5 508.4h0.9v0.9h-0.9zM196.0 509.0h0.9v0.9h-0.9zM214.9 504.2h0.9v0.9h-0.9zM211.7 497.1h0.9v0.9h-0.9zM203.1 504.8h0.9v0.9h-0.9zM197.9 494.9h0.9v0.9h-0.9zM212.7 511.6h0.9v0.9h-0.9zM200.4 492.2h0.9v0.9h-0.9zM199.5 483.4h0.9v0.9h-0.9zM210.9 482.5h0.9v0.9h-0.9zM213.2 501.7h0.9v0.9h-0.9zM212.4 504.3h0.9v0.9h-0.9zM201.0 492.3h0.9v0.9h-0.9zM203.7 495.3h0.9v0.9h-0.9zM200.1 492.1h0.9v0.9h-0.9zM199.3 507.0h0.9v0.9h-0.9zM211.2 505.2h0.9v0.9h-0.9zM208.8 502.8h0.9v0.9h-0.9zM198.3 489.6h0.9v0.9h-0.9zM209.9 505.4h0.9v0.9h-0.9zM210.6 482.9h0.9v0.9h-0.9zM203.8 488.2h0.9v0.9h-0.9zM208.3 498.9h0.9v0.9h-0.9zM208.2 503.0h0.9v0.9h-0.9zM200.6 495.4h0.9v0.9h-0.9zM201.5 490.2h0.9v0.9h-0.9zM202.9 482.3h0.9v0.9h-0.9zM194.5 511.1h0.9v0.9h-0.9zM202.3 482.7h0.9v0.9h-0.9zM200.7 494.2h0.9v0.9h-0.9zM208.1 506.1h0.9v0.9h-0.9zM205.5 503.6h0.9v0.9h-0.9zM211.8 482.5h0.9v0.9h-0.9zM208.4 485.5h0.9v0.9h-0.9zM209.2 486.5h0.9v0.9h-0.9z" fill="#e0a8a8" opacity="0.45"/>
</g>
<polygon points="250.8,508 250.8,484 256,482 264,484 266.5,490 266,507" fill="#f8dada" opacity="0.5" filter="url(#bl2)"/>
<polygon points="257.5,507 258,490 262,486.5 266,489 266,506" fill="#e03030" opacity="0.75" filter="url(#bl2)"/>
<polygon points="269.5,511 270,505 276,499 282,495 286,495.5 286,511" fill="#f0b4b4" opacity="0.6" filter="url(#bl2)"/>
<g filter="url(#bl)">
<path d="M253.7 502.3h0.9v0.9h-0.9zM258.5 492.9h0.9v0.9h-0.9zM255.4 490.0h0.9v0.9h-0.9zM263.5 494.3h0.9v0.9h-0.9zM260.6 499.1h0.9v0.9h-0.9zM256.5 489.2h0.9v0.9h-0.9zM255.4 493.6h0.9v0.9h-0.9zM260.3 489.1h0.9v0.9h-0.9zM253.7 490.7h0.9v0.9h-0.9zM264.5 499.5h0.9v0.9h-0.9zM257.5 495.9h0.9v0.9h-0.9zM256.8 489.2h0.9v0.9h-0.9zM261.6 500.3h0.9v0.9h-0.9zM252.9 497.8h0.9v0.9h-0.9zM255.8 483.4h0.9v0.9h-0.9zM258.2 483.4h0.9v0.9h-0.9zM256.5 504.7h0.9v0.9h-0.9zM258.9 488.1h0.9v0.9h-0.9zM255.6 484.6h0.9v0.9h-0.9zM263.5 489.7h0.9v0.9h-0.9zM266.1 497.2h0.9v0.9h-0.9zM253.1 491.8h0.9v0.9h-0.9zM256.6 498.5h0.9v0.9h-0.9zM257.2 498.4h0.9v0.9h-0.9zM263.6 493.8h0.9v0.9h-0.9zM250.0 497.2h0.9v0.9h-0.9zM260.0 484.5h0.9v0.9h-0.9zM254.3 502.1h0.9v0.9h-0.9zM261.9 500.1h0.9v0.9h-0.9zM258.6 504.9h0.9v0.9h-0.9zM251.4 483.8h0.9v0.9h-0.9zM262.2 500.2h0.9v0.9h-0.9zM257.5 502.8h0.9v0.9h-0.9zM252.1 486.9h0.9v0.9h-0.9zM263.9 489.6h0.9v0.9h-0.9zM262.5 494.8h0.9v0.9h-0.9zM266.4 490.8h0.9v0.9h-0.9zM261.6 494.9h0.9v0.9h-0.9zM265.3 490.2h0.9v0.9h-0.9zM251.9 488.1h0.9v0.9h-0.9zM254.5 504.4h0.9v0.9h-0.9zM262.4 484.8h0.9v0.9h-0.9zM250.1 487.0h0.9v0.9h-0.9zM265.1 500.9h0.9v0.9h-0.9zM255.3 486.8h0.9v0.9h-0.9zM265.5 495.3h0.9v0.9h-0.9zM261.1 505.0h0.9v0.9h-0.9zM261.5 493.3h0.9v0.9h-0.9zM252.6 503.4h0.9v0.9h-0.9zM250.6 485.2h0.9v0.9h-0.9zM264.0 508.3h0.9v0.9h-0.9zM265.9 489.4h0.9v0.9h-0.9zM255.9 499.0h0.9v0.9h-0.9zM255.7 502.0h0.9v0.9h-0.9zM255.7 502.3h0.9v0.9h-0.9zM259.4 501.2h0.9v0.9h-0.9zM264.2 491.7h0.9v0.9h-0.9zM255.4 484.3h0.9v0.9h-0.9zM259.8 496.7h0.9v0.9h-0.9zM256.0 493.3h0.9v0.9h-0.9zM264.2 485.0h0.9v0.9h-0.9zM261.6 505.4h0.9v0.9h-0.9zM264.9 503.8h0.9v0.9h-0.9zM253.6 482.3h0.9v0.9h-0.9zM259.9 484.8h0.9v0.9h-0.9zM255.9 495.4h0.9v0.9h-0.9zM252.6 492.9h0.9v0.9h-0.9zM261.6 493.5h0.9v0.9h-0.9zM252.4 504.9h0.9v0.9h-0.9zM253.3 493.6h0.9v0.9h-0.9zM258.6 497.0h0.9v0.9h-0.9zM259.6 491.0h0.9v0.9h-0.9zM263.7 485.6h0.9v0.9h-0.9zM254.8 491.1h0.9v0.9h-0.9zM251.3 486.7h0.9v0.9h-0.9zM259.2 492.6h0.9v0.9h-0.9zM254.5 486.3h0.9v0.9h-0.9zM256.6 501.1h0.9v0.9h-0.9zM261.0 498.4h0.9v0.9h-0.9zM261.9 502.4h0.9v0.9h-0.9zM258.2 489.0h0.9v0.9h-0.9zM257.3 499.3h0.9v0.9h-0.9zM255.9 491.7h0.9v0.9h-0.9zM263.8 487.1h0.9v0.9h-0.9zM265.2 502.2h0.9v0.9h-0.9zM255.6 503.0h0.9v0.9h-0.9zM254.8 492.6h0.9v0.9h-0.9zM257.6 495.6h0.9v0.9h-0.9zM257.5 482.6h0.9v0.9h-0.9zM263.3 499.3h0.9v0.9h-0.9zM260.7 493.1h0.9v0.9h-0.9zM259.5 504.4h0.9v0.9h-0.9zM260.2 501.0h0.9v0.9h-0.9zM258.1 494.5h0.9v0.9h-0.9zM260.6 486.6h0.9v0.9h-0.9zM263.5 505.1h0.9v0.9h-0.9zM252.7 502.7h0.9v0.9h-0.9zM257.5 499.9h0.9v0.9h-0.9zM259.5 499.6h0.9v0.9h-0.9zM251.3 487.7h0.9v0.9h-0.9zM266.1 498.5h0.9v0.9h-0.9zM253.8 494.5h0.9v0.9h-0.9zM251.7 507.0h0.9v0.9h-0.9zM259.0 497.7h0.9v0.9h-0.9zM256.2 485.4h0.9v0.9h-0.9zM258.4 496.2h0.9v0.9h-0.9zM256.9 503.8h0.9v0.9h-0.9zM255.7 495.6h0.9v0.9h-0.9zM261.2 489.7h0.9v0.9h-0.9zM254.0 507.1h0.9v0.9h-0.9zM258.3 485.1h0.9v0.9h-0.9zM257.6 497.3h0.9v0.9h-0.9zM262.6 489.1h0.9v0.9h-0.9zM255.2 505.3h0.9v0.9h-0.9zM256.9 494.4h0.9v0.9h-0.9zM255.1 503.3h0.9v0.9h-0.9zM253.2 495.1h0.9v0.9h-0.9zM253.0 507.2h0.9v0.9h-0.9zM257.6 496.7h0.9v0.9h-0.9zM260.1 501.4h0.9v0.9h-0.9zM260.9 495.3h0.9v0.9h-0.9zM253.8 488.9h0.9v0.9h-0.9zM259.1 495.7h0.9v0.9h-0.9zM259.3 492.0h0.9v0.9h-0.9zM261.7 485.4h0.9v0.9h-0.9zM256.5 497.4h0.9v0.9h-0.9zM263.1 494.0h0.9v0.9h-0.9zM259.6 490.3h0.9v0.9h-0.9zM251.9 491.5h0.9v0.9h-0.9zM264.5 490.3h0.9v0.9h-0.9zM258.0 488.1h0.9v0.9h-0.9zM261.9 494.6h0.9v0.9h-0.9zM264.6 508.3h0.9v0.9h-0.9zM257.8 500.8h0.9v0.9h-0.9zM253.1 486.7h0.9v0.9h-0.9zM261.8 496.5h0.9v0.9h-0.9zM259.7 506.0h0.9v0.9h-0.9zM259.4 502.1h0.9v0.9h-0.9zM261.0 492.3h0.9v0.9h-0.9zM258.2 497.7h0.9v0.9h-0.9zM258.5 485.0h0.9v0.9h-0.9zM254.7 487.8h0.9v0.9h-0.9zM258.5 498.4h0.9v0.9h-0.9zM263.6 495.0h0.9v0.9h-0.9zM252.5 505.8h0.9v0.9h-0.9zM251.6 493.4h0.9v0.9h-0.9zM259.4 499.1h0.9v0.9h-0.9zM258.8 486.9h0.9v0.9h-0.9zM262.9 490.3h0.9v0.9h-0.9zM264.6 488.6h0.9v0.9h-0.9zM254.6 492.7h0.9v0.9h-0.9zM263.2 505.2h0.9v0.9h-0.9zM264.4 492.7h0.9v0.9h-0.9zM253.4 499.5h0.9v0.9h-0.9zM260.4 501.2h0.9v0.9h-0.9zM258.1 484.0h0.9v0.9h-0.9zM266.0 490.8h0.9v0.9h-0.9zM265.0 486.6h0.9v0.9h-0.9zM264.3 503.4h0.9v0.9h-0.9zM260.1 488.2h0.9v0.9h-0.9zM255.0 483.5h0.9v0.9h-0.9zM255.7 496.4h0.9v0.9h-0.9zM265.5 501.0h0.9v0.9h-0.9zM253.4 484.9h0.9v0.9h-0.9zM258.2 490.8h0.9v0.9h-0.9zM252.5 497.0h0.9v0.9h-0.9zM265.0 492.0h0.9v0.9h-0.9zM260.5 503.5h0.9v0.9h-0.9zM260.6 495.7h0.9v0.9h-0.9zM253.6 492.9h0.9v0.9h-0.9z" fill="#d85050" opacity="0.5"/>
<path d="M264.2 499.5h0.9v0.9h-0.9zM265.8 500.8h0.9v0.9h-0.9zM261.0 490.3h0.9v0.9h-0.9zM259.4 497.2h0.9v0.9h-0.9zM266.2 494.3h0.9v0.9h-0.9zM263.2 505.2h0.9v0.9h-0.9zM260.7 500.6h0.9v0.9h-0.9zM259.8 495.0h0.9v0.9h-0.9zM263.9 498.8h0.9v0.9h-0.9zM263.6 492.3h0.9v0.9h-0.9zM262.8 489.4h0.9v0.9h-0.9zM260.6 502.2h0.9v0.9h-0.9zM265.0 505.3h0.9v0.9h-0.9zM258.9 494.2h0.9v0.9h-0.9zM262.9 493.8h0.9v0.9h-0.9zM263.3 492.9h0.9v0.9h-0.9zM260.2 503.3h0.9v0.9h-0.9zM265.7 502.9h0.9v0.9h-0.9zM260.8 494.2h0.9v0.9h-0.9zM264.2 500.5h0.9v0.9h-0.9zM263.8 498.7h0.9v0.9h-0.9zM260.3 489.0h0.9v0.9h-0.9zM263.1 495.8h0.9v0.9h-0.9zM262.2 488.9h0.9v0.9h-0.9zM257.6 504.2h0.9v0.9h-0.9zM261.6 492.2h0.9v0.9h-0.9zM265.5 499.6h0.9v0.9h-0.9zM264.5 493.1h0.9v0.9h-0.9zM262.8 491.5h0.9v0.9h-0.9zM262.7 492.4h0.9v0.9h-0.9zM264.8 499.5h0.9v0.9h-0.9zM259.4 498.4h0.9v0.9h-0.9zM266.0 502.0h0.9v0.9h-0.9zM259.6 500.7h0.9v0.9h-0.9zM262.7 501.2h0.9v0.9h-0.9zM264.4 500.3h0.9v0.9h-0.9zM261.1 495.0h0.9v0.9h-0.9zM258.5 503.5h0.9v0.9h-0.9zM260.1 503.9h0.9v0.9h-0.9zM258.3 498.4h0.9v0.9h-0.9zM257.8 493.8h0.9v0.9h-0.9zM259.3 489.9h0.9v0.9h-0.9zM264.8 499.5h0.9v0.9h-0.9zM258.2 496.3h0.9v0.9h-0.9zM263.2 496.5h0.9v0.9h-0.9zM258.1 500.8h0.9v0.9h-0.9zM262.7 488.2h0.9v0.9h-0.9zM262.0 502.5h0.9v0.9h-0.9zM259.9 489.7h0.9v0.9h-0.9zM262.6 494.1h0.9v0.9h-0.9zM257.5 495.3h0.9v0.9h-0.9zM262.9 496.8h0.9v0.9h-0.9zM257.1 494.7h0.9v0.9h-0.9zM263.7 505.6h0.9v0.9h-0.9zM261.4 488.6h0.9v0.9h-0.9zM260.9 502.2h0.9v0.9h-0.9zM263.9 498.0h0.9v0.9h-0.9zM260.1 493.4h0.9v0.9h-0.9zM262.1 504.7h0.9v0.9h-0.9zM262.9 498.1h0.9v0.9h-0.9z" fill="#c81820" opacity="0.6"/>
<path d="M273.7 509.6h0.9v0.9h-0.9zM283.5 502.4h0.9v0.9h-0.9zM273.0 504.1h0.9v0.9h-0.9zM285.1 502.0h0.9v0.9h-0.9zM285.0 500.7h0.9v0.9h-0.9zM277.1 506.1h0.9v0.9h-0.9zM281.3 497.4h0.9v0.9h-0.9zM277.6 497.4h0.9v0.9h-0.9zM277.2 501.9h0.9v0.9h-0.9zM270.8 508.6h0.9v0.9h-0.9zM284.0 508.9h0.9v0.9h-0.9zM285.8 498.0h0.9v0.9h-0.9zM271.8 506.5h0.9v0.9h-0.9zM278.1 506.8h0.9v0.9h-0.9zM277.1 507.1h0.9v0.9h-0.9zM280.9 506.3h0.9v0.9h-0.9zM280.6 506.0h0.9v0.9h-0.9zM280.4 508.2h0.9v0.9h-0.9zM276.7 500.7h0.9v0.9h-0.9zM275.1 501.4h0.9v0.9h-0.9zM277.9 500.4h0.9v0.9h-0.9zM279.5 501.7h0.9v0.9h-0.9zM274.6 505.4h0.9v0.9h-0.9zM279.1 503.1h0.9v0.9h-0.9zM275.0 504.4h0.9v0.9h-0.9zM276.0 508.1h0.9v0.9h-0.9zM276.8 499.6h0.9v0.9h-0.9zM280.7 508.3h0.9v0.9h-0.9zM277.1 504.4h0.9v0.9h-0.9zM276.0 505.1h0.9v0.9h-0.9zM286.7 495.7h0.9v0.9h-0.9zM282.0 498.4h0.9v0.9h-0.9zM278.9 496.7h0.9v0.9h-0.9zM283.9 499.2h0.9v0.9h-0.9zM269.8 510.9h0.9v0.9h-0.9zM285.0 499.3h0.9v0.9h-0.9zM285.5 498.4h0.9v0.9h-0.9zM273.0 503.1h0.9v0.9h-0.9zM277.5 506.4h0.9v0.9h-0.9zM276.5 508.7h0.9v0.9h-0.9zM273.8 503.3h0.9v0.9h-0.9zM281.9 502.5h0.9v0.9h-0.9zM278.8 510.8h0.9v0.9h-0.9zM286.5 505.7h0.9v0.9h-0.9zM275.7 510.4h0.9v0.9h-0.9zM284.3 507.2h0.9v0.9h-0.9zM278.5 502.4h0.9v0.9h-0.9zM282.9 511.2h0.9v0.9h-0.9zM275.9 503.3h0.9v0.9h-0.9zM280.6 506.9h0.9v0.9h-0.9zM277.7 501.3h0.9v0.9h-0.9zM283.7 504.9h0.9v0.9h-0.9zM273.4 503.0h0.9v0.9h-0.9zM282.6 495.7h0.9v0.9h-0.9zM270.3 511.0h0.9v0.9h-0.9zM286.3 498.8h0.9v0.9h-0.9zM275.4 505.2h0.9v0.9h-0.9zM281.3 508.6h0.9v0.9h-0.9zM274.6 508.3h0.9v0.9h-0.9zM284.9 505.4h0.9v0.9h-0.9zM274.7 505.0h0.9v0.9h-0.9zM276.0 503.4h0.9v0.9h-0.9zM278.8 509.9h0.9v0.9h-0.9zM280.2 504.4h0.9v0.9h-0.9zM286.2 500.1h0.9v0.9h-0.9zM281.2 506.4h0.9v0.9h-0.9zM275.1 506.8h0.9v0.9h-0.9zM278.9 500.6h0.9v0.9h-0.9zM276.3 500.5h0.9v0.9h-0.9zM272.8 504.6h0.9v0.9h-0.9zM278.1 499.9h0.9v0.9h-0.9zM278.2 497.6h0.9v0.9h-0.9zM284.8 503.8h0.9v0.9h-0.9zM281.6 508.8h0.9v0.9h-0.9zM269.9 509.3h0.9v0.9h-0.9zM285.2 507.8h0.9v0.9h-0.9zM274.1 508.1h0.9v0.9h-0.9zM273.9 510.6h0.9v0.9h-0.9zM281.9 497.1h0.9v0.9h-0.9zM274.4 506.4h0.9v0.9h-0.9zM280.4 507.2h0.9v0.9h-0.9zM271.3 509.6h0.9v0.9h-0.9zM280.9 505.1h0.9v0.9h-0.9zM278.9 503.4h0.9v0.9h-0.9zM271.3 505.5h0.9v0.9h-0.9zM278.7 510.1h0.9v0.9h-0.9zM286.1 512.1h0.9v0.9h-0.9zM275.9 506.8h0.9v0.9h-0.9zM270.9 508.3h0.9v0.9h-0.9zM276.7 497.9h0.9v0.9h-0.9zM283.1 499.4h0.9v0.9h-0.9zM276.5 509.0h0.9v0.9h-0.9zM279.7 510.3h0.9v0.9h-0.9zM279.2 500.3h0.9v0.9h-0.9zM283.2 500.6h0.9v0.9h-0.9zM278.4 509.0h0.9v0.9h-0.9zM282.0 508.8h0.9v0.9h-0.9zM286.3 497.4h0.9v0.9h-0.9zM275.3 506.3h0.9v0.9h-0.9zM274.0 505.3h0.9v0.9h-0.9zM278.0 501.7h0.9v0.9h-0.9zM285.6 507.4h0.9v0.9h-0.9zM284.1 498.0h0.9v0.9h-0.9zM283.3 505.1h0.9v0.9h-0.9zM273.4 509.4h0.9v0.9h-0.9zM281.7 508.1h0.9v0.9h-0.9zM284.3 506.5h0.9v0.9h-0.9zM273.0 506.6h0.9v0.9h-0.9zM285.4 505.1h0.9v0.9h-0.9zM277.0 500.4h0.9v0.9h-0.9zM273.7 503.6h0.9v0.9h-0.9zM277.1 502.0h0.9v0.9h-0.9zM282.9 496.1h0.9v0.9h-0.9zM276.7 499.1h0.9v0.9h-0.9zM281.2 501.1h0.9v0.9h-0.9zM286.1 502.0h0.9v0.9h-0.9zM276.1 503.9h0.9v0.9h-0.9zM273.6 505.6h0.9v0.9h-0.9zM279.3 503.2h0.9v0.9h-0.9zM282.2 501.4h0.9v0.9h-0.9zM280.6 505.3h0.9v0.9h-0.9zM283.3 505.0h0.9v0.9h-0.9zM285.6 496.1h0.9v0.9h-0.9zM284.9 508.9h0.9v0.9h-0.9zM281.4 498.9h0.9v0.9h-0.9zM272.3 502.3h0.9v0.9h-0.9zM280.3 503.7h0.9v0.9h-0.9zM284.4 500.6h0.9v0.9h-0.9zM273.3 510.7h0.9v0.9h-0.9zM280.4 500.2h0.9v0.9h-0.9zM278.8 500.3h0.9v0.9h-0.9zM276.0 503.4h0.9v0.9h-0.9zM279.6 511.4h0.9v0.9h-0.9zM276.4 498.8h0.9v0.9h-0.9zM282.6 500.4h0.9v0.9h-0.9zM274.3 503.5h0.9v0.9h-0.9zM282.1 506.4h0.9v0.9h-0.9zM274.6 504.2h0.9v0.9h-0.9zM283.0 499.7h0.9v0.9h-0.9zM279.5 501.5h0.9v0.9h-0.9zM282.3 504.5h0.9v0.9h-0.9zM284.0 500.0h0.9v0.9h-0.9zM285.1 510.0h0.9v0.9h-0.9zM276.8 502.2h0.9v0.9h-0.9zM283.4 500.7h0.9v0.9h-0.9zM271.7 504.6h0.9v0.9h-0.9zM282.8 495.4h0.9v0.9h-0.9zM276.8 507.7h0.9v0.9h-0.9zM274.5 508.9h0.9v0.9h-0.9zM275.4 504.6h0.9v0.9h-0.9zM270.8 509.7h0.9v0.9h-0.9zM271.4 506.4h0.9v0.9h-0.9zM277.3 509.4h0.9v0.9h-0.9zM280.3 505.1h0.9v0.9h-0.9zM285.0 503.7h0.9v0.9h-0.9zM276.5 510.0h0.9v0.9h-0.9zM278.2 502.7h0.9v0.9h-0.9zM284.3 496.8h0.9v0.9h-0.9zM270.2 506.1h0.9v0.9h-0.9zM281.6 507.3h0.9v0.9h-0.9zM278.7 507.1h0.9v0.9h-0.9zM279.9 506.1h0.9v0.9h-0.9zM279.1 509.2h0.9v0.9h-0.9zM275.0 500.6h0.9v0.9h-0.9zM285.0 504.2h0.9v0.9h-0.9zM284.0 507.2h0.9v0.9h-0.9zM281.2 503.6h0.9v0.9h-0.9zM271.2 505.9h0.9v0.9h-0.9zM285.4 496.5h0.9v0.9h-0.9zM284.9 506.8h0.9v0.9h-0.9zM277.6 497.0h0.9v0.9h-0.9zM276.9 505.8h0.9v0.9h-0.9zM279.3 506.2h0.9v0.9h-0.9zM282.6 504.8h0.9v0.9h-0.9zM282.7 496.7h0.9v0.9h-0.9zM284.3 505.6h0.9v0.9h-0.9zM286.4 496.3h0.9v0.9h-0.9zM285.6 500.3h0.9v0.9h-0.9zM277.8 508.3h0.9v0.9h-0.9zM285.8 498.0h0.9v0.9h-0.9zM272.6 509.2h0.9v0.9h-0.9zM279.0 504.3h0.9v0.9h-0.9zM285.4 500.3h0.9v0.9h-0.9zM275.0 503.2h0.9v0.9h-0.9zM279.9 503.0h0.9v0.9h-0.9zM282.9 506.7h0.9v0.9h-0.9zM270.8 509.8h0.9v0.9h-0.9zM279.9 501.5h0.9v0.9h-0.9zM281.3 509.9h0.9v0.9h-0.9zM275.1 502.7h0.9v0.9h-0.9zM275.2 508.7h0.9v0.9h-0.9zM279.8 502.3h0.9v0.9h-0.9zM279.5 503.1h0.9v0.9h-0.9zM281.7 506.1h0.9v0.9h-0.9zM275.6 508.2h0.9v0.9h-0.9zM283.2 506.6h0.9v0.9h-0.9zM278.1 510.4h0.9v0.9h-0.9zM283.9 510.7h0.9v0.9h-0.9zM270.5 509.1h0.9v0.9h-0.9zM279.6 502.4h0.9v0.9h-0.9z" fill="#d03030" opacity="0.55"/>
</g>
<polygon points="375.7,440 376,431 380,428.5 386,429 389.5,433 389,441" fill="#f0a8a8" opacity="0.5" filter="url(#bl2)"/>
<polygon points="375.7,446.5 375.7,437 379,435 385,434.5 388.5,437 388,446.5" fill="#e41414" opacity="0.95" filter="url(#bl2)"/>
<g filter="url(#bl)">
<path d="M386.2 432.7h0.9v0.9h-0.9zM386.0 440.2h0.9v0.9h-0.9zM374.2 435.2h0.9v0.9h-0.9zM376.5 439.1h0.9v0.9h-0.9zM379.6 438.7h0.9v0.9h-0.9zM378.2 440.4h0.9v0.9h-0.9zM388.6 439.1h0.9v0.9h-0.9zM379.2 435.5h0.9v0.9h-0.9zM377.6 432.3h0.9v0.9h-0.9zM387.9 439.7h0.9v0.9h-0.9zM383.6 436.5h0.9v0.9h-0.9zM385.6 436.6h0.9v0.9h-0.9zM385.6 428.9h0.9v0.9h-0.9zM385.2 437.4h0.9v0.9h-0.9zM383.7 432.3h0.9v0.9h-0.9zM380.9 429.6h0.9v0.9h-0.9zM383.1 438.5h0.9v0.9h-0.9zM386.5 436.9h0.9v0.9h-0.9zM384.1 433.1h0.9v0.9h-0.9zM383.7 434.3h0.9v0.9h-0.9zM376.1 439.5h0.9v0.9h-0.9zM386.7 439.0h0.9v0.9h-0.9zM384.9 441.0h0.9v0.9h-0.9zM386.1 435.8h0.9v0.9h-0.9zM379.2 435.9h0.9v0.9h-0.9zM380.4 435.1h0.9v0.9h-0.9zM384.9 435.3h0.9v0.9h-0.9zM383.7 432.9h0.9v0.9h-0.9zM386.3 433.3h0.9v0.9h-0.9zM379.2 438.2h0.9v0.9h-0.9zM380.3 438.9h0.9v0.9h-0.9zM377.7 434.6h0.9v0.9h-0.9zM378.7 435.3h0.9v0.9h-0.9zM382.2 439.9h0.9v0.9h-0.9zM380.3 433.5h0.9v0.9h-0.9zM382.5 442.0h0.9v0.9h-0.9zM380.0 434.0h0.9v0.9h-0.9zM389.1 440.4h0.9v0.9h-0.9zM385.8 438.7h0.9v0.9h-0.9zM380.8 429.9h0.9v0.9h-0.9zM380.4 430.3h0.9v0.9h-0.9zM380.1 434.1h0.9v0.9h-0.9zM389.4 433.6h0.9v0.9h-0.9zM381.1 436.6h0.9v0.9h-0.9zM379.6 440.9h0.9v0.9h-0.9zM382.2 439.0h0.9v0.9h-0.9zM375.9 439.5h0.9v0.9h-0.9zM385.4 432.2h0.9v0.9h-0.9zM382.4 437.5h0.9v0.9h-0.9zM385.7 434.4h0.9v0.9h-0.9zM375.9 438.2h0.9v0.9h-0.9zM378.4 435.2h0.9v0.9h-0.9zM381.2 439.1h0.9v0.9h-0.9zM381.0 437.0h0.9v0.9h-0.9zM383.6 434.2h0.9v0.9h-0.9zM380.9 437.9h0.9v0.9h-0.9zM384.5 429.9h0.9v0.9h-0.9zM388.7 431.1h0.9v0.9h-0.9zM387.3 436.1h0.9v0.9h-0.9zM378.9 429.9h0.9v0.9h-0.9zM376.3 436.8h0.9v0.9h-0.9zM385.3 431.2h0.9v0.9h-0.9zM390.2 435.0h0.9v0.9h-0.9zM382.3 432.2h0.9v0.9h-0.9zM381.3 439.0h0.9v0.9h-0.9zM384.2 429.6h0.9v0.9h-0.9zM381.7 429.8h0.9v0.9h-0.9zM381.7 433.1h0.9v0.9h-0.9zM382.3 435.3h0.9v0.9h-0.9zM384.8 430.8h0.9v0.9h-0.9zM384.9 435.0h0.9v0.9h-0.9zM388.2 438.8h0.9v0.9h-0.9zM381.6 429.6h0.9v0.9h-0.9zM380.7 428.7h0.9v0.9h-0.9zM383.9 434.7h0.9v0.9h-0.9zM379.4 434.8h0.9v0.9h-0.9zM380.0 437.8h0.9v0.9h-0.9zM380.1 433.0h0.9v0.9h-0.9zM374.7 440.6h0.9v0.9h-0.9zM386.4 438.0h0.9v0.9h-0.9zM382.6 431.1h0.9v0.9h-0.9zM379.9 430.9h0.9v0.9h-0.9zM382.6 430.3h0.9v0.9h-0.9zM381.1 428.6h0.9v0.9h-0.9zM385.2 429.7h0.9v0.9h-0.9zM385.1 429.6h0.9v0.9h-0.9zM383.0 437.2h0.9v0.9h-0.9zM388.5 438.4h0.9v0.9h-0.9zM378.4 435.7h0.9v0.9h-0.9zM376.7 431.9h0.9v0.9h-0.9zM380.8 432.3h0.9v0.9h-0.9zM383.1 437.1h0.9v0.9h-0.9zM386.7 433.5h0.9v0.9h-0.9zM383.1 434.8h0.9v0.9h-0.9zM384.3 439.6h0.9v0.9h-0.9zM382.9 431.9h0.9v0.9h-0.9zM379.2 438.1h0.9v0.9h-0.9zM381.3 440.0h0.9v0.9h-0.9zM380.4 437.3h0.9v0.9h-0.9zM380.4 434.4h0.9v0.9h-0.9zM381.4 436.7h0.9v0.9h-0.9zM381.6 429.2h0.9v0.9h-0.9zM388.8 441.2h0.9v0.9h-0.9zM383.6 435.8h0.9v0.9h-0.9zM376.9 431.5h0.9v0.9h-0.9zM385.4 428.8h0.9v0.9h-0.9zM385.1 434.0h0.9v0.9h-0.9zM378.7 429.1h0.9v0.9h-0.9zM382.6 440.5h0.9v0.9h-0.9zM385.8 434.1h0.9v0.9h-0.9z" fill="#d82020" opacity="0.55"/>
<path d="M385.4 433.9h0.9v0.9h-0.9zM383.7 438.0h0.9v0.9h-0.9zM377.9 446.9h0.9v0.9h-0.9zM381.9 440.3h0.9v0.9h-0.9zM384.6 436.0h0.9v0.9h-0.9zM378.9 444.5h0.9v0.9h-0.9zM385.6 439.1h0.9v0.9h-0.9zM381.2 437.8h0.9v0.9h-0.9zM379.3 439.9h0.9v0.9h-0.9zM375.8 440.5h0.9v0.9h-0.9zM377.5 434.6h0.9v0.9h-0.9zM384.6 442.3h0.9v0.9h-0.9zM385.6 435.1h0.9v0.9h-0.9zM380.7 436.0h0.9v0.9h-0.9zM385.3 439.6h0.9v0.9h-0.9zM382.3 443.6h0.9v0.9h-0.9zM386.2 433.6h0.9v0.9h-0.9zM384.6 446.5h0.9v0.9h-0.9zM385.1 443.4h0.9v0.9h-0.9zM389.0 442.2h0.9v0.9h-0.9zM380.2 443.4h0.9v0.9h-0.9zM387.4 440.6h0.9v0.9h-0.9zM376.8 443.8h0.9v0.9h-0.9zM384.9 439.8h0.9v0.9h-0.9zM386.2 444.8h0.9v0.9h-0.9zM382.6 440.2h0.9v0.9h-0.9zM381.8 445.5h0.9v0.9h-0.9zM385.5 443.8h0.9v0.9h-0.9zM386.9 445.2h0.9v0.9h-0.9zM376.0 444.9h0.9v0.9h-0.9zM378.6 435.9h0.9v0.9h-0.9zM385.2 440.1h0.9v0.9h-0.9zM377.0 445.0h0.9v0.9h-0.9zM383.4 434.1h0.9v0.9h-0.9zM376.9 440.5h0.9v0.9h-0.9zM379.6 441.6h0.9v0.9h-0.9zM387.3 439.8h0.9v0.9h-0.9zM381.9 439.1h0.9v0.9h-0.9zM387.6 437.0h0.9v0.9h-0.9zM381.2 435.4h0.9v0.9h-0.9zM378.9 434.2h0.9v0.9h-0.9zM389.2 436.6h0.9v0.9h-0.9zM376.1 439.6h0.9v0.9h-0.9zM375.8 437.0h0.9v0.9h-0.9zM386.3 437.0h0.9v0.9h-0.9zM380.2 444.0h0.9v0.9h-0.9zM387.4 441.3h0.9v0.9h-0.9zM377.4 439.0h0.9v0.9h-0.9zM382.1 438.8h0.9v0.9h-0.9zM385.9 435.1h0.9v0.9h-0.9z" fill="#c81820" opacity="0.6"/>
</g>
<polygon points="445.7,447.5 446,427 452,425 460,427 464,434 463,447.5" fill="#f4c8c8" opacity="0.4" filter="url(#bl2)"/>
<polygon points="445.7,447.5 445.7,437 449,434.5 455,434 458.5,437 458.5,447.5" fill="#e41414" opacity="0.95" filter="url(#bl2)"/>
<g filter="url(#bl)">
<path d="M455.8 428.8h0.9v0.9h-0.9zM452.8 445.8h0.9v0.9h-0.9zM455.4 440.9h0.9v0.9h-0.9zM448.2 442.2h0.9v0.9h-0.9zM449.2 444.8h0.9v0.9h-0.9zM454.8 433.2h0.9v0.9h-0.9zM451.6 438.6h0.9v0.9h-0.9zM450.6 429.7h0.9v0.9h-0.9zM453.3 439.4h0.9v0.9h-0.9zM452.6 428.8h0.9v0.9h-0.9zM456.4 432.2h0.9v0.9h-0.9zM448.8 442.7h0.9v0.9h-0.9zM461.7 440.9h0.9v0.9h-0.9zM456.5 434.5h0.9v0.9h-0.9zM446.9 444.0h0.9v0.9h-0.9zM460.7 432.3h0.9v0.9h-0.9zM450.0 432.0h0.9v0.9h-0.9zM457.7 439.1h0.9v0.9h-0.9zM455.3 431.8h0.9v0.9h-0.9zM457.5 425.9h0.9v0.9h-0.9zM450.1 434.7h0.9v0.9h-0.9zM458.2 442.8h0.9v0.9h-0.9zM451.0 434.7h0.9v0.9h-0.9zM454.4 446.1h0.9v0.9h-0.9zM448.4 441.9h0.9v0.9h-0.9zM449.9 444.6h0.9v0.9h-0.9zM459.3 432.6h0.9v0.9h-0.9zM455.2 445.3h0.9v0.9h-0.9zM458.4 446.8h0.9v0.9h-0.9zM450.9 435.3h0.9v0.9h-0.9zM462.9 432.7h0.9v0.9h-0.9zM452.2 442.6h0.9v0.9h-0.9zM453.2 428.0h0.9v0.9h-0.9zM454.9 431.6h0.9v0.9h-0.9zM462.0 433.1h0.9v0.9h-0.9zM454.3 432.3h0.9v0.9h-0.9zM457.7 428.7h0.9v0.9h-0.9zM445.9 432.7h0.9v0.9h-0.9zM445.8 444.9h0.9v0.9h-0.9zM454.0 433.6h0.9v0.9h-0.9zM450.4 445.8h0.9v0.9h-0.9zM446.7 444.3h0.9v0.9h-0.9zM462.3 433.6h0.9v0.9h-0.9zM456.1 432.1h0.9v0.9h-0.9zM460.3 433.9h0.9v0.9h-0.9zM447.6 431.7h0.9v0.9h-0.9zM446.9 435.1h0.9v0.9h-0.9zM452.7 429.5h0.9v0.9h-0.9zM451.4 443.7h0.9v0.9h-0.9zM458.5 435.2h0.9v0.9h-0.9zM456.6 427.2h0.9v0.9h-0.9zM455.0 428.4h0.9v0.9h-0.9zM460.6 429.4h0.9v0.9h-0.9zM455.4 426.8h0.9v0.9h-0.9zM459.2 428.2h0.9v0.9h-0.9zM451.1 424.7h0.9v0.9h-0.9zM454.4 444.9h0.9v0.9h-0.9zM460.8 431.4h0.9v0.9h-0.9zM459.9 431.5h0.9v0.9h-0.9zM452.1 426.7h0.9v0.9h-0.9zM456.9 440.0h0.9v0.9h-0.9zM457.4 443.8h0.9v0.9h-0.9zM463.6 440.7h0.9v0.9h-0.9zM455.8 434.3h0.9v0.9h-0.9zM454.2 439.9h0.9v0.9h-0.9zM456.6 437.6h0.9v0.9h-0.9zM447.5 446.3h0.9v0.9h-0.9zM447.0 443.8h0.9v0.9h-0.9zM456.4 437.2h0.9v0.9h-0.9zM446.5 439.6h0.9v0.9h-0.9zM445.3 446.2h0.9v0.9h-0.9zM456.4 437.3h0.9v0.9h-0.9zM454.9 439.8h0.9v0.9h-0.9zM453.9 443.6h0.9v0.9h-0.9zM455.1 438.7h0.9v0.9h-0.9zM446.3 438.2h0.9v0.9h-0.9zM456.4 436.3h0.9v0.9h-0.9zM446.0 441.1h0.9v0.9h-0.9zM447.5 441.5h0.9v0.9h-0.9zM455.6 433.8h0.9v0.9h-0.9zM445.9 435.0h0.9v0.9h-0.9zM450.7 426.7h0.9v0.9h-0.9zM455.9 446.4h0.9v0.9h-0.9zM454.9 446.8h0.9v0.9h-0.9zM461.1 435.5h0.9v0.9h-0.9zM463.2 434.8h0.9v0.9h-0.9zM444.7 440.1h0.9v0.9h-0.9zM461.5 430.4h0.9v0.9h-0.9zM462.2 446.7h0.9v0.9h-0.9zM456.4 437.8h0.9v0.9h-0.9zM459.3 428.1h0.9v0.9h-0.9zM457.9 431.4h0.9v0.9h-0.9zM453.4 440.7h0.9v0.9h-0.9zM455.7 445.7h0.9v0.9h-0.9zM454.0 442.3h0.9v0.9h-0.9zM447.8 431.2h0.9v0.9h-0.9zM444.9 430.5h0.9v0.9h-0.9zM453.5 436.2h0.9v0.9h-0.9zM458.6 430.6h0.9v0.9h-0.9zM456.8 446.3h0.9v0.9h-0.9zM451.2 438.3h0.9v0.9h-0.9zM458.8 442.5h0.9v0.9h-0.9zM450.2 439.6h0.9v0.9h-0.9zM450.9 428.5h0.9v0.9h-0.9zM456.0 436.3h0.9v0.9h-0.9zM451.9 434.6h0.9v0.9h-0.9zM453.4 436.8h0.9v0.9h-0.9zM461.0 431.2h0.9v0.9h-0.9zM454.3 445.0h0.9v0.9h-0.9zM449.5 443.4h0.9v0.9h-0.9zM456.9 432.8h0.9v0.9h-0.9zM453.5 436.9h0.9v0.9h-0.9zM454.8 445.7h0.9v0.9h-0.9zM447.3 430.5h0.9v0.9h-0.9zM450.6 425.5h0.9v0.9h-0.9zM461.9 438.6h0.9v0.9h-0.9zM454.6 429.2h0.9v0.9h-0.9zM446.4 443.8h0.9v0.9h-0.9zM447.9 433.7h0.9v0.9h-0.9zM450.4 433.5h0.9v0.9h-0.9z" fill="#d84040" opacity="0.5"/>
<path d="M448.3 446.8h0.9v0.9h-0.9zM446.2 438.9h0.9v0.9h-0.9zM445.4 442.2h0.9v0.9h-0.9zM446.9 448.0h0.9v0.9h-0.9zM454.2 435.2h0.9v0.9h-0.9zM458.3 437.6h0.9v0.9h-0.9zM455.2 438.8h0.9v0.9h-0.9zM454.7 433.2h0.9v0.9h-0.9zM450.0 438.3h0.9v0.9h-0.9zM448.2 434.5h0.9v0.9h-0.9zM449.0 447.0h0.9v0.9h-0.9zM457.9 442.7h0.9v0.9h-0.9zM453.4 444.2h0.9v0.9h-0.9zM456.1 436.6h0.9v0.9h-0.9zM454.2 433.8h0.9v0.9h-0.9zM454.8 442.8h0.9v0.9h-0.9zM446.7 438.9h0.9v0.9h-0.9zM456.7 440.4h0.9v0.9h-0.9zM456.3 441.2h0.9v0.9h-0.9zM448.6 445.5h0.9v0.9h-0.9zM450.0 446.7h0.9v0.9h-0.9zM457.6 437.0h0.9v0.9h-0.9zM448.0 440.2h0.9v0.9h-0.9zM455.7 439.2h0.9v0.9h-0.9zM448.2 446.4h0.9v0.9h-0.9zM445.4 438.6h0.9v0.9h-0.9zM450.5 437.4h0.9v0.9h-0.9zM450.6 445.7h0.9v0.9h-0.9zM457.3 441.8h0.9v0.9h-0.9zM453.4 436.3h0.9v0.9h-0.9zM448.8 440.3h0.9v0.9h-0.9zM449.5 441.8h0.9v0.9h-0.9zM452.2 436.0h0.9v0.9h-0.9zM447.7 440.3h0.9v0.9h-0.9zM451.4 442.5h0.9v0.9h-0.9zM448.4 445.6h0.9v0.9h-0.9zM455.0 441.3h0.9v0.9h-0.9zM453.0 445.7h0.9v0.9h-0.9zM452.0 444.8h0.9v0.9h-0.9zM452.6 438.9h0.9v0.9h-0.9zM446.6 444.9h0.9v0.9h-0.9zM453.7 445.5h0.9v0.9h-0.9zM453.9 440.5h0.9v0.9h-0.9zM455.5 446.6h0.9v0.9h-0.9zM452.8 440.5h0.9v0.9h-0.9zM457.9 444.8h0.9v0.9h-0.9zM451.8 436.1h0.9v0.9h-0.9zM456.9 444.3h0.9v0.9h-0.9zM452.3 440.9h0.9v0.9h-0.9zM448.5 445.4h0.9v0.9h-0.9z" fill="#c81820" opacity="0.6"/>
</g>
<polygon points="377,524 383,523 388,517 390,508 388.5,504 384,505 379,510 377,515" fill="#e41414" opacity="0.95" filter="url(#bl2)"/>
<g filter="url(#bl)">
<path d="M380.0 512.5h0.9v0.9h-0.9zM379.7 524.1h0.9v0.9h-0.9zM383.1 513.2h0.9v0.9h-0.9zM379.8 520.3h0.9v0.9h-0.9zM388.5 512.9h0.9v0.9h-0.9zM383.6 511.8h0.9v0.9h-0.9zM379.2 520.9h0.9v0.9h-0.9zM383.3 507.6h0.9v0.9h-0.9zM383.9 504.8h0.9v0.9h-0.9zM390.8 505.9h0.9v0.9h-0.9zM381.6 511.4h0.9v0.9h-0.9zM384.5 518.3h0.9v0.9h-0.9zM390.2 515.8h0.9v0.9h-0.9zM377.0 521.8h0.9v0.9h-0.9zM387.3 505.6h0.9v0.9h-0.9zM389.6 504.8h0.9v0.9h-0.9zM383.0 517.5h0.9v0.9h-0.9zM380.2 507.3h0.9v0.9h-0.9zM391.6 510.0h0.9v0.9h-0.9zM379.4 512.3h0.9v0.9h-0.9zM388.8 515.6h0.9v0.9h-0.9zM379.1 515.6h0.9v0.9h-0.9zM383.5 504.1h0.9v0.9h-0.9zM381.1 511.2h0.9v0.9h-0.9zM385.2 505.3h0.9v0.9h-0.9zM385.6 506.6h0.9v0.9h-0.9zM385.0 516.7h0.9v0.9h-0.9zM383.1 503.0h0.9v0.9h-0.9zM389.4 503.7h0.9v0.9h-0.9zM388.2 502.7h0.9v0.9h-0.9zM378.5 511.6h0.9v0.9h-0.9zM387.7 521.1h0.9v0.9h-0.9zM388.8 506.7h0.9v0.9h-0.9zM383.9 506.8h0.9v0.9h-0.9zM382.2 518.1h0.9v0.9h-0.9zM381.8 521.3h0.9v0.9h-0.9zM387.3 512.1h0.9v0.9h-0.9zM377.8 508.6h0.9v0.9h-0.9zM380.1 521.1h0.9v0.9h-0.9zM381.0 517.1h0.9v0.9h-0.9zM387.5 513.9h0.9v0.9h-0.9zM385.7 501.1h0.9v0.9h-0.9zM388.8 520.9h0.9v0.9h-0.9zM377.2 524.4h0.9v0.9h-0.9zM386.8 510.5h0.9v0.9h-0.9zM379.5 516.3h0.9v0.9h-0.9zM384.6 503.8h0.9v0.9h-0.9zM378.0 527.3h0.9v0.9h-0.9zM383.9 505.0h0.9v0.9h-0.9zM379.2 506.8h0.9v0.9h-0.9z" fill="#e06a6a" opacity="0.5"/>
<path d="M381.3 510.7h0.9v0.9h-0.9zM382.7 513.9h0.9v0.9h-0.9zM380.3 511.3h0.9v0.9h-0.9zM383.5 520.2h0.9v0.9h-0.9zM383.8 518.5h0.9v0.9h-0.9zM385.1 506.7h0.9v0.9h-0.9zM378.0 522.6h0.9v0.9h-0.9zM381.3 509.1h0.9v0.9h-0.9zM381.2 516.8h0.9v0.9h-0.9zM388.5 507.9h0.9v0.9h-0.9zM384.8 512.4h0.9v0.9h-0.9zM382.2 515.9h0.9v0.9h-0.9zM387.7 513.3h0.9v0.9h-0.9zM387.6 507.5h0.9v0.9h-0.9zM384.9 512.5h0.9v0.9h-0.9zM388.0 513.5h0.9v0.9h-0.9zM387.4 502.7h0.9v0.9h-0.9zM378.1 510.9h0.9v0.9h-0.9zM387.8 510.5h0.9v0.9h-0.9zM380.4 511.9h0.9v0.9h-0.9zM386.3 516.5h0.9v0.9h-0.9zM386.1 512.7h0.9v0.9h-0.9zM379.3 513.4h0.9v0.9h-0.9zM383.0 518.7h0.9v0.9h-0.9zM386.9 517.5h0.9v0.9h-0.9zM388.1 507.3h0.9v0.9h-0.9zM378.7 521.9h0.9v0.9h-0.9zM377.8 510.6h0.9v0.9h-0.9zM379.5 522.5h0.9v0.9h-0.9zM381.5 512.0h0.9v0.9h-0.9zM386.5 507.5h0.9v0.9h-0.9zM387.2 512.7h0.9v0.9h-0.9zM385.5 515.4h0.9v0.9h-0.9zM381.9 515.0h0.9v0.9h-0.9zM382.4 511.8h0.9v0.9h-0.9zM387.9 505.7h0.9v0.9h-0.9zM378.9 515.9h0.9v0.9h-0.9zM389.0 515.6h0.9v0.9h-0.9zM383.6 511.3h0.9v0.9h-0.9zM383.6 509.2h0.9v0.9h-0.9zM387.4 513.3h0.9v0.9h-0.9zM381.0 525.0h0.9v0.9h-0.9zM379.0 521.5h0.9v0.9h-0.9zM385.5 518.2h0.9v0.9h-0.9zM385.4 513.6h0.9v0.9h-0.9zM381.5 511.5h0.9v0.9h-0.9zM375.5 522.6h0.9v0.9h-0.9zM383.6 519.0h0.9v0.9h-0.9zM384.6 507.4h0.9v0.9h-0.9zM381.7 509.1h0.9v0.9h-0.9z" fill="#c81820" opacity="0.6"/>
</g>
<polygon points="445.5,525 445.5,500 452,496 460,496 466,505 466,524" fill="#f6d0d0" opacity="0.6" filter="url(#bl2)"/>
<polygon points="445.7,525 458,525 460,512 456,505 450,504 446,510" fill="#e41414" opacity="0.9" filter="url(#bl2)"/>
<g filter="url(#bl)">
<path d="M451.3 524.1h0.9v0.9h-0.9zM452.1 501.5h0.9v0.9h-0.9zM463.9 521.3h0.9v0.9h-0.9zM446.9 505.1h0.9v0.9h-0.9zM455.0 523.4h0.9v0.9h-0.9zM458.8 523.3h0.9v0.9h-0.9zM446.6 522.5h0.9v0.9h-0.9zM454.6 501.8h0.9v0.9h-0.9zM461.3 501.6h0.9v0.9h-0.9zM446.0 525.1h0.9v0.9h-0.9zM454.9 505.3h0.9v0.9h-0.9zM463.9 515.4h0.9v0.9h-0.9zM456.1 512.6h0.9v0.9h-0.9zM451.2 524.9h0.9v0.9h-0.9zM462.9 519.6h0.9v0.9h-0.9zM464.5 509.7h0.9v0.9h-0.9zM458.5 509.1h0.9v0.9h-0.9zM453.7 518.7h0.9v0.9h-0.9zM451.0 520.9h0.9v0.9h-0.9zM450.4 502.1h0.9v0.9h-0.9zM452.6 514.5h0.9v0.9h-0.9zM460.3 517.3h0.9v0.9h-0.9zM449.2 523.6h0.9v0.9h-0.9zM448.9 499.2h0.9v0.9h-0.9zM453.0 518.5h0.9v0.9h-0.9zM461.1 504.4h0.9v0.9h-0.9zM461.4 524.1h0.9v0.9h-0.9zM460.0 517.0h0.9v0.9h-0.9zM459.7 502.2h0.9v0.9h-0.9zM445.4 521.8h0.9v0.9h-0.9zM447.5 522.2h0.9v0.9h-0.9zM444.8 521.5h0.9v0.9h-0.9zM454.7 498.8h0.9v0.9h-0.9zM449.7 500.6h0.9v0.9h-0.9zM451.7 517.1h0.9v0.9h-0.9zM447.4 503.5h0.9v0.9h-0.9zM461.7 508.8h0.9v0.9h-0.9zM450.9 511.7h0.9v0.9h-0.9zM447.6 502.5h0.9v0.9h-0.9zM457.5 506.2h0.9v0.9h-0.9zM453.5 520.7h0.9v0.9h-0.9zM460.4 503.3h0.9v0.9h-0.9zM457.2 506.1h0.9v0.9h-0.9zM452.4 523.6h0.9v0.9h-0.9zM456.9 512.7h0.9v0.9h-0.9zM446.6 502.5h0.9v0.9h-0.9zM458.7 504.4h0.9v0.9h-0.9zM447.8 519.6h0.9v0.9h-0.9zM462.2 505.5h0.9v0.9h-0.9zM463.6 511.3h0.9v0.9h-0.9zM462.7 522.5h0.9v0.9h-0.9zM463.7 519.4h0.9v0.9h-0.9zM458.5 500.3h0.9v0.9h-0.9zM452.0 504.6h0.9v0.9h-0.9zM465.2 521.9h0.9v0.9h-0.9zM447.8 505.5h0.9v0.9h-0.9zM455.1 520.5h0.9v0.9h-0.9zM461.6 498.7h0.9v0.9h-0.9zM446.9 511.3h0.9v0.9h-0.9zM446.7 519.7h0.9v0.9h-0.9zM458.2 515.8h0.9v0.9h-0.9zM460.0 516.4h0.9v0.9h-0.9zM464.2 505.6h0.9v0.9h-0.9zM455.6 506.8h0.9v0.9h-0.9zM462.2 519.7h0.9v0.9h-0.9zM466.9 520.6h0.9v0.9h-0.9zM446.6 523.9h0.9v0.9h-0.9zM462.7 516.1h0.9v0.9h-0.9zM456.7 502.0h0.9v0.9h-0.9zM460.3 512.0h0.9v0.9h-0.9zM466.1 512.9h0.9v0.9h-0.9zM457.4 510.9h0.9v0.9h-0.9zM465.8 518.6h0.9v0.9h-0.9zM454.7 513.0h0.9v0.9h-0.9zM456.6 515.5h0.9v0.9h-0.9zM454.4 514.9h0.9v0.9h-0.9zM449.7 522.2h0.9v0.9h-0.9zM448.8 521.4h0.9v0.9h-0.9zM451.8 507.8h0.9v0.9h-0.9zM456.8 509.0h0.9v0.9h-0.9zM450.7 519.8h0.9v0.9h-0.9zM447.4 519.2h0.9v0.9h-0.9zM462.5 503.2h0.9v0.9h-0.9zM452.0 518.2h0.9v0.9h-0.9zM455.5 523.3h0.9v0.9h-0.9zM458.1 499.4h0.9v0.9h-0.9zM452.0 496.8h0.9v0.9h-0.9zM458.6 503.6h0.9v0.9h-0.9zM459.2 500.4h0.9v0.9h-0.9zM449.1 499.4h0.9v0.9h-0.9zM457.8 501.4h0.9v0.9h-0.9zM465.3 511.8h0.9v0.9h-0.9zM464.5 504.8h0.9v0.9h-0.9zM448.1 513.1h0.9v0.9h-0.9zM452.4 520.4h0.9v0.9h-0.9zM450.9 501.2h0.9v0.9h-0.9zM460.1 500.3h0.9v0.9h-0.9zM445.7 513.8h0.9v0.9h-0.9zM448.3 513.4h0.9v0.9h-0.9zM452.1 518.0h0.9v0.9h-0.9zM447.1 507.1h0.9v0.9h-0.9zM456.9 503.1h0.9v0.9h-0.9zM452.4 500.1h0.9v0.9h-0.9zM451.3 495.9h0.9v0.9h-0.9zM460.2 509.0h0.9v0.9h-0.9zM453.3 506.6h0.9v0.9h-0.9zM450.7 526.3h0.9v0.9h-0.9zM464.8 509.3h0.9v0.9h-0.9zM446.2 501.1h0.9v0.9h-0.9zM449.2 509.1h0.9v0.9h-0.9zM462.4 522.7h0.9v0.9h-0.9zM455.6 519.6h0.9v0.9h-0.9zM456.1 495.3h0.9v0.9h-0.9zM455.4 522.3h0.9v0.9h-0.9zM458.0 517.5h0.9v0.9h-0.9zM459.2 511.5h0.9v0.9h-0.9zM448.8 520.0h0.9v0.9h-0.9zM448.5 501.2h0.9v0.9h-0.9zM462.1 521.4h0.9v0.9h-0.9zM459.7 523.8h0.9v0.9h-0.9zM451.7 519.6h0.9v0.9h-0.9zM448.3 501.7h0.9v0.9h-0.9zM454.1 500.3h0.9v0.9h-0.9zM463.8 500.5h0.9v0.9h-0.9zM453.8 521.9h0.9v0.9h-0.9zM453.3 499.5h0.9v0.9h-0.9zM454.4 498.2h0.9v0.9h-0.9zM456.8 504.8h0.9v0.9h-0.9zM451.9 520.3h0.9v0.9h-0.9zM464.0 512.6h0.9v0.9h-0.9zM464.6 507.0h0.9v0.9h-0.9zM459.3 502.1h0.9v0.9h-0.9zM465.6 511.5h0.9v0.9h-0.9zM459.5 518.0h0.9v0.9h-0.9zM445.9 514.1h0.9v0.9h-0.9zM451.0 507.8h0.9v0.9h-0.9zM460.7 514.1h0.9v0.9h-0.9zM447.0 524.9h0.9v0.9h-0.9zM461.3 518.5h0.9v0.9h-0.9zM457.4 522.2h0.9v0.9h-0.9zM452.0 500.1h0.9v0.9h-0.9zM451.9 508.5h0.9v0.9h-0.9zM450.0 499.1h0.9v0.9h-0.9zM462.5 504.9h0.9v0.9h-0.9zM456.9 515.5h0.9v0.9h-0.9zM456.8 518.6h0.9v0.9h-0.9zM446.8 515.7h0.9v0.9h-0.9zM461.0 518.1h0.9v0.9h-0.9zM447.6 511.6h0.9v0.9h-0.9zM451.3 504.6h0.9v0.9h-0.9zM449.7 503.2h0.9v0.9h-0.9zM456.2 499.8h0.9v0.9h-0.9zM463.2 509.8h0.9v0.9h-0.9zM455.0 500.6h0.9v0.9h-0.9zM462.7 512.8h0.9v0.9h-0.9zM462.2 510.6h0.9v0.9h-0.9zM450.2 518.1h0.9v0.9h-0.9zM452.6 525.2h0.9v0.9h-0.9zM458.0 512.0h0.9v0.9h-0.9zM447.3 515.5h0.9v0.9h-0.9zM450.1 511.9h0.9v0.9h-0.9zM448.3 512.5h0.9v0.9h-0.9zM453.0 506.5h0.9v0.9h-0.9zM463.9 509.9h0.9v0.9h-0.9zM449.9 504.4h0.9v0.9h-0.9zM459.0 507.1h0.9v0.9h-0.9zM457.6 505.5h0.9v0.9h-0.9zM452.3 519.0h0.9v0.9h-0.9zM453.4 524.9h0.9v0.9h-0.9zM451.5 523.8h0.9v0.9h-0.9zM450.2 516.5h0.9v0.9h-0.9zM460.7 515.0h0.9v0.9h-0.9zM447.9 510.0h0.9v0.9h-0.9zM460.8 512.8h0.9v0.9h-0.9zM458.5 520.9h0.9v0.9h-0.9zM456.1 515.0h0.9v0.9h-0.9zM452.1 506.9h0.9v0.9h-0.9zM447.0 515.1h0.9v0.9h-0.9zM450.3 501.7h0.9v0.9h-0.9zM458.0 500.1h0.9v0.9h-0.9zM449.4 512.5h0.9v0.9h-0.9zM462.8 502.3h0.9v0.9h-0.9zM456.3 506.7h0.9v0.9h-0.9zM447.5 504.7h0.9v0.9h-0.9zM452.5 522.6h0.9v0.9h-0.9zM457.2 501.6h0.9v0.9h-0.9zM447.1 514.2h0.9v0.9h-0.9zM456.1 523.9h0.9v0.9h-0.9zM455.0 514.5h0.9v0.9h-0.9zM465.0 522.2h0.9v0.9h-0.9zM448.8 503.0h0.9v0.9h-0.9zM456.2 502.2h0.9v0.9h-0.9zM451.0 501.1h0.9v0.9h-0.9zM458.0 515.5h0.9v0.9h-0.9zM461.5 506.3h0.9v0.9h-0.9zM463.4 504.9h0.9v0.9h-0.9zM453.5 519.6h0.9v0.9h-0.9zM457.1 499.3h0.9v0.9h-0.9zM449.8 506.7h0.9v0.9h-0.9zM454.2 496.6h0.9v0.9h-0.9z" fill="#d83030" opacity="0.5"/>
<path d="M450.6 521.1h0.9v0.9h-0.9zM452.7 521.2h0.9v0.9h-0.9zM453.5 504.6h0.9v0.9h-0.9zM456.7 511.2h0.9v0.9h-0.9zM453.2 505.6h0.9v0.9h-0.9zM455.0 516.6h0.9v0.9h-0.9zM452.5 524.9h0.9v0.9h-0.9zM449.7 520.8h0.9v0.9h-0.9zM451.9 520.3h0.9v0.9h-0.9zM448.8 505.3h0.9v0.9h-0.9zM453.8 507.5h0.9v0.9h-0.9zM453.6 509.9h0.9v0.9h-0.9zM458.6 520.2h0.9v0.9h-0.9zM452.0 520.6h0.9v0.9h-0.9zM454.7 505.6h0.9v0.9h-0.9zM455.6 521.6h0.9v0.9h-0.9zM452.5 518.3h0.9v0.9h-0.9zM459.5 509.1h0.9v0.9h-0.9zM456.9 520.6h0.9v0.9h-0.9zM451.9 506.3h0.9v0.9h-0.9zM457.9 517.9h0.9v0.9h-0.9zM445.4 520.4h0.9v0.9h-0.9zM458.2 521.7h0.9v0.9h-0.9zM455.5 504.1h0.9v0.9h-0.9zM445.4 520.2h0.9v0.9h-0.9zM448.8 506.6h0.9v0.9h-0.9zM446.1 511.7h0.9v0.9h-0.9zM447.6 510.1h0.9v0.9h-0.9zM450.3 513.2h0.9v0.9h-0.9zM448.3 520.2h0.9v0.9h-0.9zM458.1 517.0h0.9v0.9h-0.9zM449.9 521.1h0.9v0.9h-0.9zM459.3 511.6h0.9v0.9h-0.9zM457.2 512.3h0.9v0.9h-0.9zM456.0 515.0h0.9v0.9h-0.9zM455.1 510.6h0.9v0.9h-0.9zM451.8 509.4h0.9v0.9h-0.9zM450.5 505.0h0.9v0.9h-0.9zM446.2 524.3h0.9v0.9h-0.9zM456.2 523.9h0.9v0.9h-0.9zM450.4 523.9h0.9v0.9h-0.9zM449.0 519.8h0.9v0.9h-0.9zM455.6 525.0h0.9v0.9h-0.9zM455.9 510.2h0.9v0.9h-0.9zM452.8 516.4h0.9v0.9h-0.9zM446.4 516.3h0.9v0.9h-0.9zM452.1 517.2h0.9v0.9h-0.9zM454.6 513.6h0.9v0.9h-0.9zM451.9 518.4h0.9v0.9h-0.9zM452.5 518.1h0.9v0.9h-0.9zM452.5 511.1h0.9v0.9h-0.9zM455.6 510.8h0.9v0.9h-0.9zM447.3 519.8h0.9v0.9h-0.9zM455.4 517.9h0.9v0.9h-0.9zM453.3 517.5h0.9v0.9h-0.9zM447.2 515.0h0.9v0.9h-0.9zM452.6 521.0h0.9v0.9h-0.9zM456.2 521.2h0.9v0.9h-0.9zM451.3 522.2h0.9v0.9h-0.9zM451.5 517.1h0.9v0.9h-0.9zM451.8 519.7h0.9v0.9h-0.9zM454.4 504.9h0.9v0.9h-0.9zM449.9 524.3h0.9v0.9h-0.9zM455.1 515.4h0.9v0.9h-0.9zM458.4 519.2h0.9v0.9h-0.9zM452.6 510.0h0.9v0.9h-0.9zM448.6 516.0h0.9v0.9h-0.9zM454.6 521.3h0.9v0.9h-0.9zM457.6 511.2h0.9v0.9h-0.9zM454.6 504.7h0.9v0.9h-0.9z" fill="#c81820" opacity="0.6"/>
</g>
<line x1="13.2" y1="383" x2="13.2" y2="563.2" stroke="#404040" stroke-width="1.2"/>
<line x1="12.6" y1="563" x2="312" y2="563" stroke="#404040" stroke-width="1.2"/>
<path d="M13.2 379 L10.4 385 L16 385Z" fill="#111"/>
<path d="M318 563 L311 560.2 L311 565.8Z" fill="#111"/>
<line x1="360.4" y1="383" x2="360.4" y2="563.6" stroke="#404040" stroke-width="1.2"/>
<line x1="359.8" y1="563" x2="504" y2="563" stroke="#404040" stroke-width="1.2"/>
<path d="M360.4 379 L357.6 385 L363.2 385Z" fill="#111"/>
<path d="M510.2 563.0 L503.2 560.2 L503.2 565.8Z" fill="#111"/>
<text x="7.7" y="461.8" font-size="8.6" font-weight="bold" text-anchor="middle" fill="#000" stroke="#000" stroke-width="0.18" transform="rotate(-90 7.7 461.8)">FSC</text>
<text x="355.3" y="462.3" font-size="8.6" font-weight="bold" text-anchor="middle" fill="#000" stroke="#000" stroke-width="0.18" transform="rotate(-90 355.3 462.3)">FSC</text>
<text x="23.8" y="556.8" font-size="8.1" font-weight="bold" fill="#000">CML CD34<tspan font-size="4.8" dy="-1.9">+</tspan><tspan dy="1.9">38</tspan><tspan font-size="4.8" dy="-1.9">-</tspan></text>
<text x="182.3" y="556.8" font-size="8.1" font-weight="bold" fill="#000">CML CD34<tspan font-size="4.8" dy="-1.9">+</tspan><tspan dy="1.9">38</tspan><tspan font-size="4.8" dy="-1.9">+</tspan></text>
<text x="373.6" y="557.3" font-size="8.1" font-weight="bold" fill="#000">Normal CD34<tspan font-size="4.8" dy="-1.9">+</tspan><tspan dy="1.9">38</tspan><tspan font-size="4.8" dy="-1.9">-</tspan></text>
<text x="163.9" y="580.3" font-size="9.1" font-weight="bold" text-anchor="middle" fill="#000" stroke="#000" stroke-width="0.18">Caspase-3</text>
<text x="438.1" y="580.6" font-size="9.1" font-weight="bold" text-anchor="middle" fill="#000" stroke="#000" stroke-width="0.18">Caspase-3</text>
</svg>
</body></html>
